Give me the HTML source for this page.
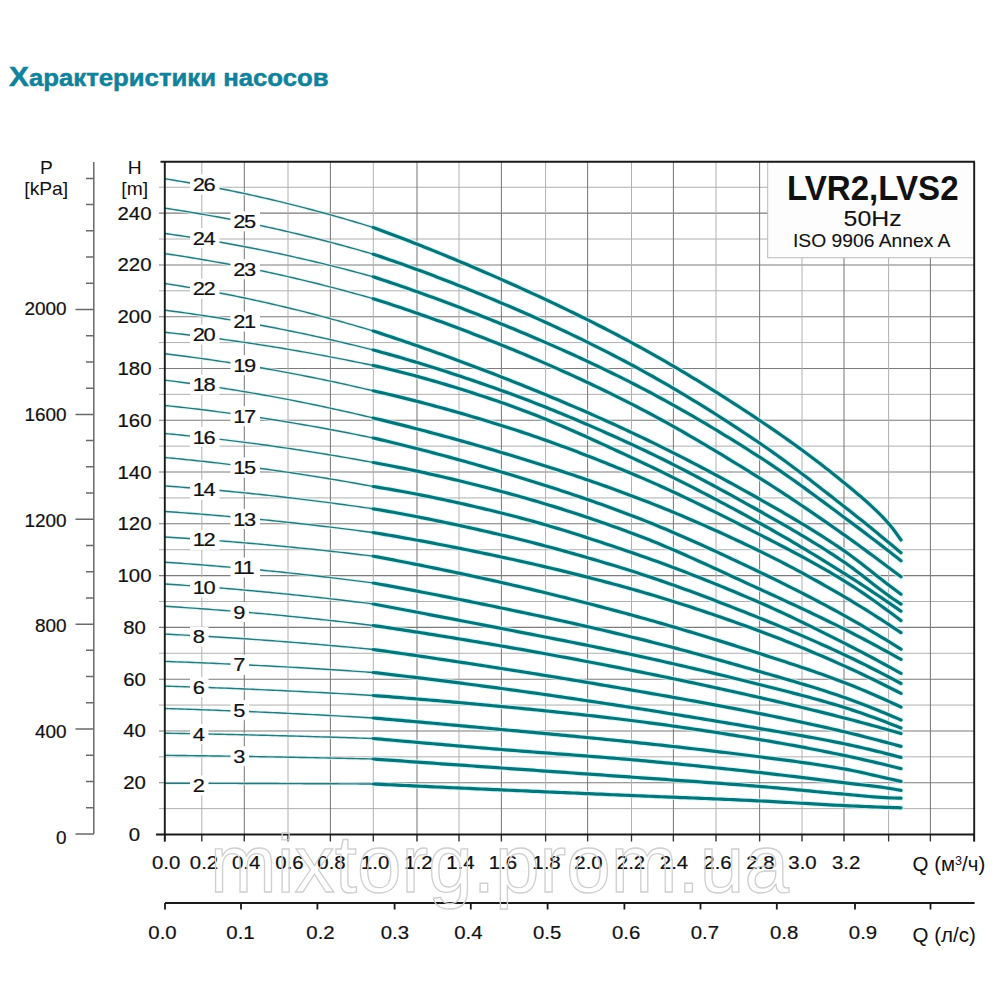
<!DOCTYPE html>
<html><head><meta charset="utf-8"><style>
html,body{margin:0;padding:0;background:#fff;width:1000px;height:1000px;overflow:hidden}
svg{display:block}
text{font-family:'Liberation Sans',sans-serif}
</style></head><body>
<svg width="1000" height="1000" viewBox="0 0 1000 1000">
<rect width="1000" height="1000" fill="#fff"/>

<text x="9.0" y="85.6" font-weight="bold" fill="#10829b" stroke="#10829b" stroke-width="0.5" textLength="319.6" lengthAdjust="spacingAndGlyphs"><tspan font-size="28.2">Х</tspan><tspan font-size="24.3">арактеристики насосов</tspan></text>
<path d="M159,808.61H974.2 M159,756.83H974.2 M159,705.05H974.2 M159,653.27H974.2 M159,601.49H974.2 M159,549.71H974.2 M159,497.93H974.2 M159,446.15H974.2 M159,394.37H974.2 M159,342.59H974.2 M159,290.81H974.2 M159,239.03H974.2 M159,187.25H974.2" stroke="#b0b0b0" stroke-width="1" fill="none"/>
<path d="M159,782.72H974.2 M159,730.94H974.2 M159,679.16H974.2 M159,627.38H974.2 M159,575.60H974.2 M159,523.82H974.2 M159,472.04H974.2 M159,420.26H974.2 M159,368.48H974.2 M159,316.70H974.2 M159,264.92H974.2 M159,213.14H974.2" stroke="#7c7c7c" stroke-width="1.05" fill="none"/>
<path d="M201.8,161.8V841 M288,161.8V841 M373.3,161.8V841 M459,161.8V841 M545.6,161.8V841 M631.5,161.8V841 M716,161.8V841 M802,161.8V841 M888.6,161.8V841" stroke="#b0b0b0" stroke-width="1" fill="none"/>
<path d="M244.3,161.8V841 M330.4,161.8V841 M417,161.8V841 M501.4,161.8V841 M587.6,161.8V841 M673.4,161.8V841 M759.6,161.8V841 M844,161.8V841 M930.4,161.8V841" stroke="#7c7c7c" stroke-width="1.05" fill="none"/>
<path d="M164.7,834.5V841.5 M201.8,834.5V841.5 M244.3,834.5V841.5 M288,834.5V841.5 M330.4,834.5V841.5 M373.3,834.5V841.5 M417,834.5V841.5 M459,834.5V841.5 M501.4,834.5V841.5 M545.6,834.5V841.5 M587.6,834.5V841.5 M631.5,834.5V841.5 M673.4,834.5V841.5 M716,834.5V841.5 M759.6,834.5V841.5 M802,834.5V841.5 M844,834.5V841.5 M888.6,834.5V841.5 M930.4,834.5V841.5 M974.2,834.5V841.5" stroke="#333" stroke-width="1.3" fill="none"/>
<rect x="767.7" y="161.8" width="206.5" height="95.94999999999999" fill="#fdfdfd" stroke="#b8b8b8" stroke-width="1"/>
<text x="872.8" y="199.6" font-size="34.5" font-weight="bold" text-anchor="middle" fill="#111" textLength="171.5" lengthAdjust="spacingAndGlyphs">LVR2,LVS2</text>
<text x="872.6" y="226" font-size="21.5" text-anchor="middle" fill="#111" stroke="#111" stroke-width="0.1" textLength="58" lengthAdjust="spacingAndGlyphs">50Hz</text>
<text x="871.7" y="246.9" font-size="18.4" text-anchor="middle" fill="#111" stroke="#111" stroke-width="0.1" textLength="157.5" lengthAdjust="spacingAndGlyphs">ISO 9906 Annex A</text>
<path d="M373.3,784.00 L377.3,784.19 L381.3,784.38 L385.3,784.57 L389.3,784.76 L393.3,784.95 L397.3,785.13 L401.3,785.32 L405.3,785.51 L409.3,785.70 L413.3,785.88 L417.3,786.07 L421.3,786.25 L425.3,786.44 L429.3,786.62 L433.3,786.81 L437.3,786.99 L441.3,787.18 L445.3,787.36 L449.3,787.54 L453.3,787.73 L457.3,787.91 L461.3,788.09 L465.3,788.27 L469.3,788.45 L473.3,788.64 L477.3,788.82 L481.3,789.00 L485.3,789.18 L489.3,789.36 L493.3,789.53 L497.3,789.71 L501.3,789.89 L505.3,790.07 L509.3,790.25 L513.3,790.42 L517.3,790.60 L521.3,790.77 L525.3,790.95 L529.3,791.12 L533.3,791.30 L537.3,791.47 L541.3,791.65 L545.3,791.82 L549.3,791.99 L553.3,792.16 L557.3,792.34 L561.3,792.51 L565.3,792.68 L569.3,792.85 L573.3,793.02 L577.3,793.19 L581.3,793.36 L585.3,793.53 L589.3,793.70 L593.3,793.87 L597.3,794.04 L601.3,794.21 L605.3,794.38 L609.3,794.56 L613.3,794.73 L617.3,794.90 L621.3,795.07 L625.3,795.24 L629.3,795.41 L633.3,795.58 L637.3,795.75 L641.3,795.91 L645.3,796.08 L649.3,796.24 L653.3,796.41 L657.3,796.57 L661.3,796.73 L665.3,796.89 L669.3,797.05 L673.3,797.22 L677.3,797.38 L681.3,797.54 L685.3,797.70 L689.3,797.86 L693.3,798.02 L697.3,798.18 L701.3,798.34 L705.3,798.51 L709.3,798.67 L713.3,798.84 L717.3,799.01 L721.3,799.18 L725.3,799.35 L729.3,799.52 L733.3,799.69 L737.3,799.87 L741.3,800.05 L745.3,800.23 L749.3,800.42 L753.3,800.60 L757.3,800.79 L761.3,800.99 L765.3,801.19 L769.3,801.40 L773.3,801.61 L777.3,801.83 L781.3,802.06 L785.3,802.29 L789.3,802.52 L793.3,802.76 L797.3,803.00 L801.3,803.23 L805.3,803.47 L809.3,803.71 L813.3,803.94 L817.3,804.17 L821.3,804.40 L825.3,804.62 L829.3,804.84 L833.3,805.05 L837.3,805.26 L841.3,805.45 L845.3,805.64 L849.3,805.82 L853.3,806.00 L857.3,806.18 L861.3,806.35 L865.3,806.51 L869.3,806.68 L873.3,806.84 L877.3,806.99 L881.3,807.14 L885.3,807.29 L889.3,807.43 L893.3,807.56 L897.3,807.69 L901.0,807.80 M373.3,759.00 L377.3,759.28 L381.3,759.56 L385.3,759.84 L389.3,760.12 L393.3,760.41 L397.3,760.69 L401.3,760.97 L405.3,761.25 L409.3,761.53 L413.3,761.81 L417.3,762.09 L421.3,762.37 L425.3,762.65 L429.3,762.93 L433.3,763.22 L437.3,763.50 L441.3,763.78 L445.3,764.06 L449.3,764.34 L453.3,764.62 L457.3,764.90 L461.3,765.18 L465.3,765.46 L469.3,765.74 L473.3,766.02 L477.3,766.30 L481.3,766.58 L485.3,766.86 L489.3,767.14 L493.3,767.43 L497.3,767.71 L501.3,767.99 L505.3,768.27 L509.3,768.55 L513.3,768.83 L517.3,769.11 L521.3,769.38 L525.3,769.66 L529.3,769.94 L533.3,770.22 L537.3,770.50 L541.3,770.78 L545.3,771.06 L549.3,771.33 L553.3,771.61 L557.3,771.89 L561.3,772.17 L565.3,772.45 L569.3,772.73 L573.3,773.00 L577.3,773.28 L581.3,773.56 L585.3,773.84 L589.3,774.12 L593.3,774.40 L597.3,774.68 L601.3,774.96 L605.3,775.24 L609.3,775.53 L613.3,775.81 L617.3,776.09 L621.3,776.37 L625.3,776.66 L629.3,776.94 L633.3,777.23 L637.3,777.51 L641.3,777.79 L645.3,778.08 L649.3,778.36 L653.3,778.64 L657.3,778.91 L661.3,779.19 L665.3,779.47 L669.3,779.75 L673.3,780.03 L677.3,780.31 L681.3,780.59 L685.3,780.86 L689.3,781.15 L693.3,781.43 L697.3,781.71 L701.3,781.99 L705.3,782.28 L709.3,782.57 L713.3,782.86 L717.3,783.15 L721.3,783.44 L725.3,783.74 L729.3,784.04 L733.3,784.34 L737.3,784.64 L741.3,784.95 L745.3,785.26 L749.3,785.58 L753.3,785.90 L757.3,786.22 L761.3,786.55 L765.3,786.88 L769.3,787.23 L773.3,787.58 L777.3,787.94 L781.3,788.31 L785.3,788.68 L789.3,789.05 L793.3,789.43 L797.3,789.81 L801.3,790.19 L805.3,790.58 L809.3,790.96 L813.3,791.34 L817.3,791.73 L821.3,792.10 L825.3,792.48 L829.3,792.85 L833.3,793.22 L837.3,793.58 L841.3,793.93 L845.3,794.28 L849.3,794.64 L853.3,795.01 L857.3,795.39 L861.3,795.76 L865.3,796.13 L869.3,796.49 L873.3,796.83 L877.3,797.14 L881.3,797.41 L885.3,797.65 L889.3,797.83 L893.3,797.99 L897.3,798.11 L901.0,798.20 M373.3,738.50 L377.3,738.86 L381.3,739.21 L385.3,739.57 L389.3,739.92 L393.3,740.28 L397.3,740.63 L401.3,740.98 L405.3,741.33 L409.3,741.68 L413.3,742.03 L417.3,742.38 L421.3,742.73 L425.3,743.08 L429.3,743.42 L433.3,743.77 L437.3,744.11 L441.3,744.45 L445.3,744.80 L449.3,745.14 L453.3,745.48 L457.3,745.82 L461.3,746.15 L465.3,746.49 L469.3,746.83 L473.3,747.16 L477.3,747.50 L481.3,747.83 L485.3,748.16 L489.3,748.50 L493.3,748.83 L497.3,749.16 L501.3,749.48 L505.3,749.81 L509.3,750.13 L513.3,750.45 L517.3,750.77 L521.3,751.08 L525.3,751.39 L529.3,751.70 L533.3,752.00 L537.3,752.31 L541.3,752.61 L545.3,752.91 L549.3,753.21 L553.3,753.51 L557.3,753.81 L561.3,754.11 L565.3,754.41 L569.3,754.71 L573.3,755.02 L577.3,755.32 L581.3,755.62 L585.3,755.93 L589.3,756.24 L593.3,756.55 L597.3,756.86 L601.3,757.18 L605.3,757.50 L609.3,757.82 L613.3,758.15 L617.3,758.48 L621.3,758.82 L625.3,759.16 L629.3,759.51 L633.3,759.86 L637.3,760.21 L641.3,760.57 L645.3,760.93 L649.3,761.30 L653.3,761.67 L657.3,762.04 L661.3,762.41 L665.3,762.79 L669.3,763.17 L673.3,763.56 L677.3,763.94 L681.3,764.33 L685.3,764.73 L689.3,765.12 L693.3,765.52 L697.3,765.92 L701.3,766.33 L705.3,766.73 L709.3,767.14 L713.3,767.56 L717.3,767.97 L721.3,768.39 L725.3,768.81 L729.3,769.23 L733.3,769.66 L737.3,770.08 L741.3,770.51 L745.3,770.95 L749.3,771.38 L753.3,771.82 L757.3,772.26 L761.3,772.70 L765.3,773.15 L769.3,773.60 L773.3,774.07 L777.3,774.54 L781.3,775.01 L785.3,775.49 L789.3,775.97 L793.3,776.46 L797.3,776.95 L801.3,777.45 L805.3,777.94 L809.3,778.44 L813.3,778.94 L817.3,779.44 L821.3,779.94 L825.3,780.44 L829.3,780.94 L833.3,781.43 L837.3,781.93 L841.3,782.42 L845.3,782.91 L849.3,783.38 L853.3,783.85 L857.3,784.30 L861.3,784.76 L865.3,785.22 L869.3,785.68 L873.3,786.16 L877.3,786.66 L881.3,787.18 L885.3,787.73 L889.3,788.32 L893.3,788.98 L897.3,789.71 L901.0,790.40 M373.3,718.00 L377.3,718.35 L381.3,718.69 L385.3,719.04 L389.3,719.39 L393.3,719.74 L397.3,720.09 L401.3,720.44 L405.3,720.79 L409.3,721.15 L413.3,721.50 L417.3,721.86 L421.3,722.21 L425.3,722.57 L429.3,722.92 L433.3,723.28 L437.3,723.64 L441.3,724.00 L445.3,724.36 L449.3,724.72 L453.3,725.08 L457.3,725.44 L461.3,725.81 L465.3,726.17 L469.3,726.54 L473.3,726.90 L477.3,727.27 L481.3,727.63 L485.3,728.00 L489.3,728.37 L493.3,728.74 L497.3,729.11 L501.3,729.48 L505.3,729.85 L509.3,730.22 L513.3,730.59 L517.3,730.96 L521.3,731.33 L525.3,731.70 L529.3,732.07 L533.3,732.44 L537.3,732.82 L541.3,733.19 L545.3,733.56 L549.3,733.93 L553.3,734.31 L557.3,734.68 L561.3,735.06 L565.3,735.44 L569.3,735.82 L573.3,736.20 L577.3,736.58 L581.3,736.97 L585.3,737.35 L589.3,737.74 L593.3,738.13 L597.3,738.52 L601.3,738.92 L605.3,739.32 L609.3,739.72 L613.3,740.12 L617.3,740.53 L621.3,740.94 L625.3,741.35 L629.3,741.77 L633.3,742.19 L637.3,742.61 L641.3,743.04 L645.3,743.46 L649.3,743.89 L653.3,744.32 L657.3,744.75 L661.3,745.19 L665.3,745.63 L669.3,746.07 L673.3,746.51 L677.3,746.95 L681.3,747.40 L685.3,747.85 L689.3,748.31 L693.3,748.76 L697.3,749.22 L701.3,749.68 L705.3,750.15 L709.3,750.62 L713.3,751.09 L717.3,751.57 L721.3,752.05 L725.3,752.53 L729.3,753.01 L733.3,753.50 L737.3,754.00 L741.3,754.49 L745.3,754.99 L749.3,755.50 L753.3,756.00 L757.3,756.52 L761.3,757.03 L765.3,757.55 L769.3,758.06 L773.3,758.58 L777.3,759.10 L781.3,759.62 L785.3,760.14 L789.3,760.67 L793.3,761.21 L797.3,761.75 L801.3,762.30 L805.3,762.86 L809.3,763.43 L813.3,764.01 L817.3,764.60 L821.3,765.21 L825.3,765.83 L829.3,766.46 L833.3,767.11 L837.3,767.77 L841.3,768.46 L845.3,769.16 L849.3,769.91 L853.3,770.70 L857.3,771.54 L861.3,772.40 L865.3,773.29 L869.3,774.21 L873.3,775.13 L877.3,776.05 L881.3,776.97 L885.3,777.88 L889.3,778.78 L893.3,779.67 L897.3,780.57 L901.0,781.40 M373.3,695.50 L377.3,695.80 L381.3,696.11 L385.3,696.41 L389.3,696.72 L393.3,697.04 L397.3,697.35 L401.3,697.67 L405.3,697.99 L409.3,698.32 L413.3,698.64 L417.3,698.97 L421.3,699.31 L425.3,699.64 L429.3,699.98 L433.3,700.32 L437.3,700.66 L441.3,701.01 L445.3,701.36 L449.3,701.71 L453.3,702.06 L457.3,702.42 L461.3,702.77 L465.3,703.13 L469.3,703.50 L473.3,703.86 L477.3,704.23 L481.3,704.60 L485.3,704.97 L489.3,705.35 L493.3,705.72 L497.3,706.10 L501.3,706.48 L505.3,706.86 L509.3,707.25 L513.3,707.63 L517.3,708.02 L521.3,708.41 L525.3,708.81 L529.3,709.20 L533.3,709.60 L537.3,710.00 L541.3,710.41 L545.3,710.81 L549.3,711.22 L553.3,711.64 L557.3,712.05 L561.3,712.47 L565.3,712.89 L569.3,713.32 L573.3,713.75 L577.3,714.19 L581.3,714.62 L585.3,715.07 L589.3,715.51 L593.3,715.96 L597.3,716.42 L601.3,716.88 L605.3,717.34 L609.3,717.81 L613.3,718.28 L617.3,718.76 L621.3,719.24 L625.3,719.73 L629.3,720.23 L633.3,720.73 L637.3,721.23 L641.3,721.74 L645.3,722.26 L649.3,722.79 L653.3,723.32 L657.3,723.86 L661.3,724.41 L665.3,724.96 L669.3,725.52 L673.3,726.08 L677.3,726.65 L681.3,727.23 L685.3,727.81 L689.3,728.40 L693.3,728.99 L697.3,729.59 L701.3,730.19 L705.3,730.80 L709.3,731.41 L713.3,732.03 L717.3,732.66 L721.3,733.28 L725.3,733.92 L729.3,734.55 L733.3,735.20 L737.3,735.84 L741.3,736.49 L745.3,737.15 L749.3,737.80 L753.3,738.47 L757.3,739.13 L761.3,739.80 L765.3,740.48 L769.3,741.16 L773.3,741.86 L777.3,742.56 L781.3,743.27 L785.3,743.99 L789.3,744.71 L793.3,745.44 L797.3,746.19 L801.3,746.93 L805.3,747.69 L809.3,748.46 L813.3,749.23 L817.3,750.01 L821.3,750.80 L825.3,751.59 L829.3,752.40 L833.3,753.21 L837.3,754.03 L841.3,754.85 L845.3,755.69 L849.3,756.54 L853.3,757.40 L857.3,758.28 L861.3,759.17 L865.3,760.07 L869.3,760.98 L873.3,761.91 L877.3,762.85 L881.3,763.80 L885.3,764.76 L889.3,765.72 L893.3,766.70 L897.3,767.68 L901.0,768.60 M373.3,672.50 L377.3,672.96 L381.3,673.42 L385.3,673.88 L389.3,674.35 L393.3,674.82 L397.3,675.29 L401.3,675.77 L405.3,676.24 L409.3,676.72 L413.3,677.21 L417.3,677.69 L421.3,678.18 L425.3,678.67 L429.3,679.17 L433.3,679.66 L437.3,680.16 L441.3,680.66 L445.3,681.17 L449.3,681.67 L453.3,682.18 L457.3,682.69 L461.3,683.21 L465.3,683.72 L469.3,684.24 L473.3,684.76 L477.3,685.28 L481.3,685.81 L485.3,686.34 L489.3,686.87 L493.3,687.40 L497.3,687.94 L501.3,688.47 L505.3,689.01 L509.3,689.56 L513.3,690.10 L517.3,690.65 L521.3,691.21 L525.3,691.77 L529.3,692.33 L533.3,692.89 L537.3,693.45 L541.3,694.02 L545.3,694.60 L549.3,695.17 L553.3,695.75 L557.3,696.33 L561.3,696.91 L565.3,697.50 L569.3,698.09 L573.3,698.68 L577.3,699.27 L581.3,699.87 L585.3,700.46 L589.3,701.06 L593.3,701.66 L597.3,702.27 L601.3,702.87 L605.3,703.48 L609.3,704.09 L613.3,704.70 L617.3,705.31 L621.3,705.93 L625.3,706.54 L629.3,707.16 L633.3,707.78 L637.3,708.40 L641.3,709.02 L645.3,709.65 L649.3,710.28 L653.3,710.91 L657.3,711.54 L661.3,712.18 L665.3,712.82 L669.3,713.46 L673.3,714.10 L677.3,714.75 L681.3,715.40 L685.3,716.05 L689.3,716.70 L693.3,717.36 L697.3,718.01 L701.3,718.67 L705.3,719.33 L709.3,720.00 L713.3,720.66 L717.3,721.33 L721.3,722.00 L725.3,722.67 L729.3,723.35 L733.3,724.02 L737.3,724.70 L741.3,725.38 L745.3,726.06 L749.3,726.75 L753.3,727.43 L757.3,728.12 L761.3,728.81 L765.3,729.50 L769.3,730.18 L773.3,730.86 L777.3,731.54 L781.3,732.22 L785.3,732.90 L789.3,733.58 L793.3,734.27 L797.3,734.96 L801.3,735.66 L805.3,736.36 L809.3,737.07 L813.3,737.79 L817.3,738.52 L821.3,739.26 L825.3,740.01 L829.3,740.78 L833.3,741.56 L837.3,742.35 L841.3,743.16 L845.3,743.99 L849.3,744.84 L853.3,745.71 L857.3,746.60 L861.3,747.51 L865.3,748.44 L869.3,749.38 L873.3,750.35 L877.3,751.33 L881.3,752.32 L885.3,753.33 L889.3,754.35 L893.3,755.38 L897.3,756.43 L901.0,757.40 M373.3,649.50 L377.3,650.06 L381.3,650.62 L385.3,651.19 L389.3,651.75 L393.3,652.32 L397.3,652.89 L401.3,653.47 L405.3,654.04 L409.3,654.62 L413.3,655.20 L417.3,655.78 L421.3,656.36 L425.3,656.95 L429.3,657.54 L433.3,658.13 L437.3,658.72 L441.3,659.31 L445.3,659.91 L449.3,660.51 L453.3,661.11 L457.3,661.71 L461.3,662.31 L465.3,662.92 L469.3,663.53 L473.3,664.14 L477.3,664.75 L481.3,665.37 L485.3,665.98 L489.3,666.60 L493.3,667.22 L497.3,667.84 L501.3,668.47 L505.3,669.10 L509.3,669.72 L513.3,670.35 L517.3,670.99 L521.3,671.62 L525.3,672.26 L529.3,672.90 L533.3,673.54 L537.3,674.19 L541.3,674.84 L545.3,675.48 L549.3,676.14 L553.3,676.79 L557.3,677.45 L561.3,678.10 L565.3,678.76 L569.3,679.43 L573.3,680.09 L577.3,680.76 L581.3,681.43 L585.3,682.10 L589.3,682.77 L593.3,683.45 L597.3,684.12 L601.3,684.80 L605.3,685.48 L609.3,686.17 L613.3,686.85 L617.3,687.54 L621.3,688.23 L625.3,688.92 L629.3,689.62 L633.3,690.31 L637.3,691.01 L641.3,691.71 L645.3,692.41 L649.3,693.11 L653.3,693.81 L657.3,694.51 L661.3,695.22 L665.3,695.93 L669.3,696.64 L673.3,697.35 L677.3,698.06 L681.3,698.78 L685.3,699.50 L689.3,700.22 L693.3,700.94 L697.3,701.67 L701.3,702.40 L705.3,703.14 L709.3,703.88 L713.3,704.62 L717.3,705.36 L721.3,706.11 L725.3,706.87 L729.3,707.63 L733.3,708.39 L737.3,709.15 L741.3,709.93 L745.3,710.70 L749.3,711.48 L753.3,712.27 L757.3,713.06 L761.3,713.86 L765.3,714.66 L769.3,715.47 L773.3,716.28 L777.3,717.10 L781.3,717.92 L785.3,718.75 L789.3,719.58 L793.3,720.42 L797.3,721.27 L801.3,722.12 L805.3,722.98 L809.3,723.85 L813.3,724.72 L817.3,725.60 L821.3,726.49 L825.3,727.39 L829.3,728.30 L833.3,729.21 L837.3,730.14 L841.3,731.07 L845.3,732.01 L849.3,732.97 L853.3,733.94 L857.3,734.92 L861.3,735.92 L865.3,736.93 L869.3,737.95 L873.3,738.98 L877.3,740.03 L881.3,741.08 L885.3,742.14 L889.3,743.22 L893.3,744.30 L897.3,745.39 L901.0,746.40 M373.3,625.50 L377.3,626.09 L381.3,626.68 L385.3,627.28 L389.3,627.88 L393.3,628.48 L397.3,629.09 L401.3,629.70 L405.3,630.31 L409.3,630.93 L413.3,631.55 L417.3,632.17 L421.3,632.79 L425.3,633.42 L429.3,634.06 L433.3,634.69 L437.3,635.33 L441.3,635.97 L445.3,636.62 L449.3,637.27 L453.3,637.92 L457.3,638.57 L461.3,639.23 L465.3,639.89 L469.3,640.55 L473.3,641.22 L477.3,641.89 L481.3,642.56 L485.3,643.24 L489.3,643.91 L493.3,644.60 L497.3,645.28 L501.3,645.97 L505.3,646.66 L509.3,647.35 L513.3,648.05 L517.3,648.75 L521.3,649.45 L525.3,650.16 L529.3,650.87 L533.3,651.59 L537.3,652.31 L541.3,653.03 L545.3,653.76 L549.3,654.49 L553.3,655.22 L557.3,655.96 L561.3,656.70 L565.3,657.44 L569.3,658.19 L573.3,658.94 L577.3,659.69 L581.3,660.45 L585.3,661.21 L589.3,661.97 L593.3,662.74 L597.3,663.50 L601.3,664.28 L605.3,665.05 L609.3,665.83 L613.3,666.61 L617.3,667.39 L621.3,668.18 L625.3,668.97 L629.3,669.76 L633.3,670.56 L637.3,671.36 L641.3,672.16 L645.3,672.97 L649.3,673.78 L653.3,674.59 L657.3,675.41 L661.3,676.23 L665.3,677.05 L669.3,677.88 L673.3,678.71 L677.3,679.55 L681.3,680.39 L685.3,681.23 L689.3,682.07 L693.3,682.92 L697.3,683.78 L701.3,684.63 L705.3,685.49 L709.3,686.36 L713.3,687.23 L717.3,688.10 L721.3,688.97 L725.3,689.85 L729.3,690.73 L733.3,691.62 L737.3,692.50 L741.3,693.40 L745.3,694.29 L749.3,695.19 L753.3,696.09 L757.3,697.00 L761.3,697.91 L765.3,698.82 L769.3,699.74 L773.3,700.67 L777.3,701.59 L781.3,702.53 L785.3,703.47 L789.3,704.41 L793.3,705.36 L797.3,706.31 L801.3,707.27 L805.3,708.24 L809.3,709.21 L813.3,710.19 L817.3,711.17 L821.3,712.16 L825.3,713.15 L829.3,714.16 L833.3,715.17 L837.3,716.18 L841.3,717.20 L845.3,718.23 L849.3,719.27 L853.3,720.32 L857.3,721.38 L861.3,722.45 L865.3,723.53 L869.3,724.61 L873.3,725.71 L877.3,726.81 L881.3,727.92 L885.3,729.04 L889.3,730.17 L893.3,731.30 L897.3,732.44 L901.0,733.50 M373.3,604.00 L377.3,604.75 L381.3,605.50 L385.3,606.25 L389.3,607.00 L393.3,607.75 L397.3,608.50 L401.3,609.25 L405.3,610.01 L409.3,610.77 L413.3,611.52 L417.3,612.28 L421.3,613.04 L425.3,613.80 L429.3,614.56 L433.3,615.33 L437.3,616.09 L441.3,616.86 L445.3,617.62 L449.3,618.39 L453.3,619.16 L457.3,619.93 L461.3,620.70 L465.3,621.47 L469.3,622.24 L473.3,623.02 L477.3,623.79 L481.3,624.57 L485.3,625.34 L489.3,626.12 L493.3,626.90 L497.3,627.68 L501.3,628.46 L505.3,629.24 L509.3,630.02 L513.3,630.80 L517.3,631.58 L521.3,632.35 L525.3,633.13 L529.3,633.91 L533.3,634.68 L537.3,635.46 L541.3,636.24 L545.3,637.02 L549.3,637.80 L553.3,638.58 L557.3,639.36 L561.3,640.14 L565.3,640.93 L569.3,641.72 L573.3,642.51 L577.3,643.31 L581.3,644.11 L585.3,644.91 L589.3,645.71 L593.3,646.52 L597.3,647.34 L601.3,648.15 L605.3,648.98 L609.3,649.80 L613.3,650.64 L617.3,651.47 L621.3,652.32 L625.3,653.17 L629.3,654.03 L633.3,654.89 L637.3,655.76 L641.3,656.63 L645.3,657.51 L649.3,658.39 L653.3,659.28 L657.3,660.17 L661.3,661.06 L665.3,661.96 L669.3,662.87 L673.3,663.78 L677.3,664.69 L681.3,665.61 L685.3,666.54 L689.3,667.46 L693.3,668.40 L697.3,669.34 L701.3,670.28 L705.3,671.22 L709.3,672.18 L713.3,673.13 L717.3,674.09 L721.3,675.06 L725.3,676.03 L729.3,677.00 L733.3,677.98 L737.3,678.96 L741.3,679.95 L745.3,680.94 L749.3,681.94 L753.3,682.94 L757.3,683.95 L761.3,684.95 L765.3,685.96 L769.3,686.97 L773.3,687.98 L777.3,688.99 L781.3,690.01 L785.3,691.03 L789.3,692.06 L793.3,693.09 L797.3,694.13 L801.3,695.19 L805.3,696.25 L809.3,697.33 L813.3,698.42 L817.3,699.52 L821.3,700.64 L825.3,701.78 L829.3,702.94 L833.3,704.12 L837.3,705.32 L841.3,706.54 L845.3,707.78 L849.3,709.06 L853.3,710.37 L857.3,711.71 L861.3,713.08 L865.3,714.48 L869.3,715.91 L873.3,717.36 L877.3,718.84 L881.3,720.34 L885.3,721.86 L889.3,723.40 L893.3,724.96 L897.3,726.53 L901.0,728.00 M373.3,583.00 L377.3,583.73 L381.3,584.46 L385.3,585.19 L389.3,585.93 L393.3,586.67 L397.3,587.41 L401.3,588.16 L405.3,588.91 L409.3,589.67 L413.3,590.42 L417.3,591.19 L421.3,591.95 L425.3,592.72 L429.3,593.49 L433.3,594.27 L437.3,595.05 L441.3,595.83 L445.3,596.62 L449.3,597.41 L453.3,598.20 L457.3,598.99 L461.3,599.79 L465.3,600.60 L469.3,601.40 L473.3,602.21 L477.3,603.02 L481.3,603.84 L485.3,604.65 L489.3,605.48 L493.3,606.30 L497.3,607.13 L501.3,607.96 L505.3,608.79 L509.3,609.63 L513.3,610.47 L517.3,611.31 L521.3,612.15 L525.3,613.00 L529.3,613.85 L533.3,614.70 L537.3,615.55 L541.3,616.41 L545.3,617.28 L549.3,618.14 L553.3,619.01 L557.3,619.89 L561.3,620.76 L565.3,621.65 L569.3,622.53 L573.3,623.43 L577.3,624.32 L581.3,625.22 L585.3,626.13 L589.3,627.04 L593.3,627.96 L597.3,628.88 L601.3,629.81 L605.3,630.74 L609.3,631.68 L613.3,632.62 L617.3,633.57 L621.3,634.53 L625.3,635.49 L629.3,636.46 L633.3,637.44 L637.3,638.42 L641.3,639.42 L645.3,640.42 L649.3,641.42 L653.3,642.44 L657.3,643.46 L661.3,644.49 L665.3,645.52 L669.3,646.57 L673.3,647.62 L677.3,648.67 L681.3,649.73 L685.3,650.80 L689.3,651.87 L693.3,652.95 L697.3,654.04 L701.3,655.13 L705.3,656.22 L709.3,657.32 L713.3,658.43 L717.3,659.54 L721.3,660.65 L725.3,661.77 L729.3,662.90 L733.3,664.02 L737.3,665.16 L741.3,666.29 L745.3,667.43 L749.3,668.57 L753.3,669.72 L757.3,670.87 L761.3,672.02 L765.3,673.17 L769.3,674.32 L773.3,675.47 L777.3,676.62 L781.3,677.78 L785.3,678.94 L789.3,680.11 L793.3,681.28 L797.3,682.46 L801.3,683.66 L805.3,684.86 L809.3,686.08 L813.3,687.31 L817.3,688.56 L821.3,689.82 L825.3,691.10 L829.3,692.40 L833.3,693.72 L837.3,695.06 L841.3,696.43 L845.3,697.81 L849.3,699.24 L853.3,700.69 L857.3,702.17 L861.3,703.69 L865.3,705.23 L869.3,706.80 L873.3,708.39 L877.3,710.01 L881.3,711.65 L885.3,713.31 L889.3,714.99 L893.3,716.69 L897.3,718.40 L901.0,720.00 M373.3,556.20 L377.3,556.93 L381.3,557.68 L385.3,558.42 L389.3,559.17 L393.3,559.93 L397.3,560.70 L401.3,561.47 L405.3,562.24 L409.3,563.02 L413.3,563.81 L417.3,564.60 L421.3,565.40 L425.3,566.21 L429.3,567.01 L433.3,567.83 L437.3,568.65 L441.3,569.47 L445.3,570.31 L449.3,571.14 L453.3,571.98 L457.3,572.83 L461.3,573.68 L465.3,574.53 L469.3,575.40 L473.3,576.26 L477.3,577.13 L481.3,578.01 L485.3,578.89 L489.3,579.77 L493.3,580.66 L497.3,581.56 L501.3,582.45 L505.3,583.36 L509.3,584.27 L513.3,585.19 L517.3,586.11 L521.3,587.04 L525.3,587.98 L529.3,588.92 L533.3,589.87 L537.3,590.82 L541.3,591.78 L545.3,592.75 L549.3,593.72 L553.3,594.70 L557.3,595.69 L561.3,596.68 L565.3,597.67 L569.3,598.68 L573.3,599.68 L577.3,600.70 L581.3,601.72 L585.3,602.74 L589.3,603.78 L593.3,604.81 L597.3,605.86 L601.3,606.91 L605.3,607.96 L609.3,609.02 L613.3,610.08 L617.3,611.16 L621.3,612.23 L625.3,613.31 L629.3,614.40 L633.3,615.49 L637.3,616.59 L641.3,617.70 L645.3,618.82 L649.3,619.94 L653.3,621.08 L657.3,622.22 L661.3,623.37 L665.3,624.52 L669.3,625.68 L673.3,626.85 L677.3,628.03 L681.3,629.22 L685.3,630.41 L689.3,631.60 L693.3,632.81 L697.3,634.02 L701.3,635.23 L705.3,636.45 L709.3,637.68 L713.3,638.91 L717.3,640.15 L721.3,641.39 L725.3,642.64 L729.3,643.89 L733.3,645.15 L737.3,646.42 L741.3,647.68 L745.3,648.95 L749.3,650.23 L753.3,651.51 L757.3,652.79 L761.3,654.08 L765.3,655.37 L769.3,656.66 L773.3,657.95 L777.3,659.24 L781.3,660.54 L785.3,661.85 L789.3,663.17 L793.3,664.49 L797.3,665.82 L801.3,667.16 L805.3,668.52 L809.3,669.88 L813.3,671.26 L817.3,672.66 L821.3,674.07 L825.3,675.50 L829.3,676.95 L833.3,678.42 L837.3,679.90 L841.3,681.41 L845.3,682.95 L849.3,684.51 L853.3,686.10 L857.3,687.73 L861.3,689.38 L865.3,691.05 L869.3,692.76 L873.3,694.48 L877.3,696.23 L881.3,698.00 L885.3,699.80 L889.3,701.61 L893.3,703.44 L897.3,705.28 L901.0,707.00 M373.3,532.60 L377.3,533.25 L381.3,533.92 L385.3,534.59 L389.3,535.26 L393.3,535.95 L397.3,536.64 L401.3,537.34 L405.3,538.05 L409.3,538.76 L413.3,539.48 L417.3,540.21 L421.3,540.94 L425.3,541.68 L429.3,542.43 L433.3,543.19 L437.3,543.95 L441.3,544.72 L445.3,545.49 L449.3,546.27 L453.3,547.06 L457.3,547.85 L461.3,548.65 L465.3,549.45 L469.3,550.27 L473.3,551.08 L477.3,551.90 L481.3,552.73 L485.3,553.57 L489.3,554.41 L493.3,555.25 L497.3,556.10 L501.3,556.96 L505.3,557.82 L509.3,558.69 L513.3,559.56 L517.3,560.45 L521.3,561.33 L525.3,562.23 L529.3,563.14 L533.3,564.05 L537.3,564.97 L541.3,565.89 L545.3,566.83 L549.3,567.77 L553.3,568.72 L557.3,569.68 L561.3,570.65 L565.3,571.62 L569.3,572.60 L573.3,573.59 L577.3,574.59 L581.3,575.60 L585.3,576.62 L589.3,577.64 L593.3,578.68 L597.3,579.72 L601.3,580.77 L605.3,581.83 L609.3,582.90 L613.3,583.98 L617.3,585.06 L621.3,586.16 L625.3,587.27 L629.3,588.38 L633.3,589.51 L637.3,590.65 L641.3,591.80 L645.3,592.96 L649.3,594.14 L653.3,595.33 L657.3,596.53 L661.3,597.74 L665.3,598.97 L669.3,600.21 L673.3,601.46 L677.3,602.72 L681.3,604.00 L685.3,605.28 L689.3,606.58 L693.3,607.89 L697.3,609.21 L701.3,610.53 L705.3,611.87 L709.3,613.23 L713.3,614.59 L717.3,615.96 L721.3,617.34 L725.3,618.73 L729.3,620.13 L733.3,621.54 L737.3,622.96 L741.3,624.39 L745.3,625.83 L749.3,627.27 L753.3,628.73 L757.3,630.19 L761.3,631.66 L765.3,633.16 L769.3,634.67 L773.3,636.20 L777.3,637.74 L781.3,639.31 L785.3,640.89 L789.3,642.49 L793.3,644.11 L797.3,645.74 L801.3,647.39 L805.3,649.05 L809.3,650.73 L813.3,652.42 L817.3,654.12 L821.3,655.84 L825.3,657.57 L829.3,659.32 L833.3,661.07 L837.3,662.84 L841.3,664.62 L845.3,666.40 L849.3,668.21 L853.3,670.04 L857.3,671.90 L861.3,673.78 L865.3,675.68 L869.3,677.59 L873.3,679.53 L877.3,681.49 L881.3,683.46 L885.3,685.45 L889.3,687.45 L893.3,689.47 L897.3,691.51 L901.0,693.40 M373.3,508.80 L377.3,509.48 L381.3,510.17 L385.3,510.87 L389.3,511.57 L393.3,512.29 L397.3,513.02 L401.3,513.76 L405.3,514.51 L409.3,515.26 L413.3,516.03 L417.3,516.80 L421.3,517.59 L425.3,518.38 L429.3,519.18 L433.3,519.99 L437.3,520.81 L441.3,521.64 L445.3,522.47 L449.3,523.31 L453.3,524.17 L457.3,525.02 L461.3,525.89 L465.3,526.76 L469.3,527.65 L473.3,528.54 L477.3,529.43 L481.3,530.33 L485.3,531.24 L489.3,532.16 L493.3,533.09 L497.3,534.02 L501.3,534.95 L505.3,535.90 L509.3,536.85 L513.3,537.82 L517.3,538.80 L521.3,539.79 L525.3,540.79 L529.3,541.80 L533.3,542.82 L537.3,543.85 L541.3,544.89 L545.3,545.94 L549.3,547.00 L553.3,548.08 L557.3,549.16 L561.3,550.25 L565.3,551.36 L569.3,552.47 L573.3,553.59 L577.3,554.72 L581.3,555.86 L585.3,557.02 L589.3,558.18 L593.3,559.35 L597.3,560.53 L601.3,561.72 L605.3,562.92 L609.3,564.13 L613.3,565.34 L617.3,566.57 L621.3,567.81 L625.3,569.05 L629.3,570.31 L633.3,571.57 L637.3,572.85 L641.3,574.15 L645.3,575.46 L649.3,576.79 L653.3,578.13 L657.3,579.49 L661.3,580.87 L665.3,582.26 L669.3,583.66 L673.3,585.08 L677.3,586.50 L681.3,587.95 L685.3,589.40 L689.3,590.86 L693.3,592.34 L697.3,593.83 L701.3,595.32 L705.3,596.83 L709.3,598.35 L713.3,599.87 L717.3,601.41 L721.3,602.95 L725.3,604.50 L729.3,606.06 L733.3,607.62 L737.3,609.19 L741.3,610.77 L745.3,612.35 L749.3,613.93 L753.3,615.53 L757.3,617.12 L761.3,618.72 L765.3,620.33 L769.3,621.95 L773.3,623.59 L777.3,625.23 L781.3,626.89 L785.3,628.56 L789.3,630.25 L793.3,631.94 L797.3,633.65 L801.3,635.38 L805.3,637.11 L809.3,638.86 L813.3,640.62 L817.3,642.40 L821.3,644.19 L825.3,645.99 L829.3,647.81 L833.3,649.64 L837.3,651.49 L841.3,653.35 L845.3,655.22 L849.3,657.12 L853.3,659.04 L857.3,660.99 L861.3,662.96 L865.3,664.94 L869.3,666.95 L873.3,668.98 L877.3,671.03 L881.3,673.10 L885.3,675.18 L889.3,677.28 L893.3,679.39 L897.3,681.52 L901.0,683.50 M373.3,486.50 L377.3,487.14 L381.3,487.80 L385.3,488.47 L389.3,489.15 L393.3,489.84 L397.3,490.55 L401.3,491.28 L405.3,492.01 L409.3,492.76 L413.3,493.52 L417.3,494.29 L421.3,495.08 L425.3,495.87 L429.3,496.68 L433.3,497.50 L437.3,498.33 L441.3,499.17 L445.3,500.02 L449.3,500.88 L453.3,501.76 L457.3,502.64 L461.3,503.53 L465.3,504.43 L469.3,505.34 L473.3,506.26 L477.3,507.19 L481.3,508.13 L485.3,509.08 L489.3,510.04 L493.3,511.00 L497.3,511.97 L501.3,512.95 L505.3,513.94 L509.3,514.95 L513.3,515.98 L517.3,517.03 L521.3,518.09 L525.3,519.18 L529.3,520.27 L533.3,521.39 L537.3,522.52 L541.3,523.66 L545.3,524.82 L549.3,525.99 L553.3,527.18 L557.3,528.38 L561.3,529.59 L565.3,530.82 L569.3,532.06 L573.3,533.31 L577.3,534.57 L581.3,535.84 L585.3,537.12 L589.3,538.41 L593.3,539.71 L597.3,541.02 L601.3,542.33 L605.3,543.66 L609.3,544.99 L613.3,546.33 L617.3,547.68 L621.3,549.03 L625.3,550.39 L629.3,551.75 L633.3,553.12 L637.3,554.50 L641.3,555.89 L645.3,557.30 L649.3,558.72 L653.3,560.15 L657.3,561.60 L661.3,563.06 L665.3,564.53 L669.3,566.01 L673.3,567.51 L677.3,569.02 L681.3,570.54 L685.3,572.07 L689.3,573.62 L693.3,575.17 L697.3,576.74 L701.3,578.32 L705.3,579.91 L709.3,581.51 L713.3,583.13 L717.3,584.75 L721.3,586.38 L725.3,588.03 L729.3,589.68 L733.3,591.35 L737.3,593.02 L741.3,594.71 L745.3,596.40 L749.3,598.11 L753.3,599.82 L757.3,601.55 L761.3,603.28 L765.3,605.04 L769.3,606.82 L773.3,608.62 L777.3,610.44 L781.3,612.28 L785.3,614.14 L789.3,616.02 L793.3,617.92 L797.3,619.83 L801.3,621.76 L805.3,623.70 L809.3,625.65 L813.3,627.62 L817.3,629.59 L821.3,631.58 L825.3,633.58 L829.3,635.58 L833.3,637.59 L837.3,639.61 L841.3,641.63 L845.3,643.66 L849.3,645.70 L853.3,647.75 L857.3,649.83 L861.3,651.92 L865.3,654.02 L869.3,656.14 L873.3,658.28 L877.3,660.43 L881.3,662.59 L885.3,664.76 L889.3,666.95 L893.3,669.14 L897.3,671.35 L901.0,673.40 M373.3,462.50 L377.3,463.23 L381.3,463.97 L385.3,464.72 L389.3,465.49 L393.3,466.26 L397.3,467.06 L401.3,467.86 L405.3,468.68 L409.3,469.50 L413.3,470.34 L417.3,471.19 L421.3,472.06 L425.3,472.93 L429.3,473.82 L433.3,474.71 L437.3,475.62 L441.3,476.54 L445.3,477.47 L449.3,478.40 L453.3,479.35 L457.3,480.31 L461.3,481.28 L465.3,482.26 L469.3,483.24 L473.3,484.24 L477.3,485.24 L481.3,486.26 L485.3,487.28 L489.3,488.31 L493.3,489.35 L497.3,490.39 L501.3,491.45 L505.3,492.51 L509.3,493.59 L513.3,494.69 L517.3,495.79 L521.3,496.92 L525.3,498.05 L529.3,499.20 L533.3,500.37 L537.3,501.55 L541.3,502.74 L545.3,503.94 L549.3,505.16 L553.3,506.39 L557.3,507.64 L561.3,508.90 L565.3,510.17 L569.3,511.45 L573.3,512.75 L577.3,514.06 L581.3,515.38 L585.3,516.71 L589.3,518.06 L593.3,519.42 L597.3,520.79 L601.3,522.17 L605.3,523.57 L609.3,524.98 L613.3,526.40 L617.3,527.83 L621.3,529.27 L625.3,530.72 L629.3,532.19 L633.3,533.67 L637.3,535.17 L641.3,536.70 L645.3,538.26 L649.3,539.85 L653.3,541.46 L657.3,543.09 L661.3,544.74 L665.3,546.42 L669.3,548.11 L673.3,549.82 L677.3,551.55 L681.3,553.30 L685.3,555.06 L689.3,556.84 L693.3,558.62 L697.3,560.42 L701.3,562.23 L705.3,564.05 L709.3,565.88 L713.3,567.71 L717.3,569.55 L721.3,571.39 L725.3,573.24 L729.3,575.09 L733.3,576.94 L737.3,578.79 L741.3,580.64 L745.3,582.48 L749.3,584.33 L753.3,586.16 L757.3,588.00 L761.3,589.82 L765.3,591.65 L769.3,593.48 L773.3,595.31 L777.3,597.14 L781.3,598.99 L785.3,600.83 L789.3,602.69 L793.3,604.55 L797.3,606.41 L801.3,608.29 L805.3,610.17 L809.3,612.07 L813.3,613.97 L817.3,615.89 L821.3,617.81 L825.3,619.75 L829.3,621.70 L833.3,623.67 L837.3,625.65 L841.3,627.64 L845.3,629.65 L849.3,631.68 L853.3,633.73 L857.3,635.80 L861.3,637.88 L865.3,639.99 L869.3,642.11 L873.3,644.24 L877.3,646.39 L881.3,648.55 L885.3,650.73 L889.3,652.92 L893.3,655.13 L897.3,657.34 L901.0,659.40 M373.3,438.00 L377.3,438.93 L381.3,439.87 L385.3,440.81 L389.3,441.77 L393.3,442.73 L397.3,443.71 L401.3,444.69 L405.3,445.68 L409.3,446.68 L413.3,447.69 L417.3,448.71 L421.3,449.74 L425.3,450.77 L429.3,451.82 L433.3,452.87 L437.3,453.93 L441.3,455.00 L445.3,456.08 L449.3,457.16 L453.3,458.25 L457.3,459.35 L461.3,460.46 L465.3,461.58 L469.3,462.70 L473.3,463.83 L477.3,464.97 L481.3,466.11 L485.3,467.26 L489.3,468.42 L493.3,469.59 L497.3,470.76 L501.3,471.94 L505.3,473.13 L509.3,474.32 L513.3,475.53 L517.3,476.74 L521.3,477.96 L525.3,479.18 L529.3,480.42 L533.3,481.67 L537.3,482.92 L541.3,484.18 L545.3,485.46 L549.3,486.74 L553.3,488.03 L557.3,489.33 L561.3,490.65 L565.3,491.97 L569.3,493.30 L573.3,494.65 L577.3,496.00 L581.3,497.37 L585.3,498.74 L589.3,500.13 L593.3,501.53 L597.3,502.94 L601.3,504.36 L605.3,505.80 L609.3,507.24 L613.3,508.70 L617.3,510.17 L621.3,511.66 L625.3,513.15 L629.3,514.66 L633.3,516.19 L637.3,517.73 L641.3,519.29 L645.3,520.88 L649.3,522.48 L653.3,524.10 L657.3,525.74 L661.3,527.40 L665.3,529.08 L669.3,530.77 L673.3,532.47 L677.3,534.20 L681.3,535.93 L685.3,537.68 L689.3,539.45 L693.3,541.22 L697.3,543.01 L701.3,544.82 L705.3,546.63 L709.3,548.45 L713.3,550.29 L717.3,552.13 L721.3,553.98 L725.3,555.84 L729.3,557.71 L733.3,559.58 L737.3,561.47 L741.3,563.35 L745.3,565.25 L749.3,567.14 L753.3,569.05 L757.3,570.95 L761.3,572.86 L765.3,574.78 L769.3,576.71 L773.3,578.66 L777.3,580.62 L781.3,582.59 L785.3,584.58 L789.3,586.58 L793.3,588.59 L797.3,590.62 L801.3,592.66 L805.3,594.71 L809.3,596.78 L813.3,598.87 L817.3,600.97 L821.3,603.08 L825.3,605.21 L829.3,607.36 L833.3,609.52 L837.3,611.70 L841.3,613.89 L845.3,616.10 L849.3,618.33 L853.3,620.59 L857.3,622.88 L861.3,625.18 L865.3,627.52 L869.3,629.87 L873.3,632.25 L877.3,634.64 L881.3,637.06 L885.3,639.49 L889.3,641.94 L893.3,644.41 L897.3,646.89 L901.0,649.20 M373.3,418.00 L377.3,418.96 L381.3,419.92 L385.3,420.89 L389.3,421.87 L393.3,422.86 L397.3,423.86 L401.3,424.86 L405.3,425.88 L409.3,426.90 L413.3,427.93 L417.3,428.97 L421.3,430.01 L425.3,431.06 L429.3,432.12 L433.3,433.19 L437.3,434.27 L441.3,435.35 L445.3,436.44 L449.3,437.54 L453.3,438.64 L457.3,439.76 L461.3,440.88 L465.3,442.00 L469.3,443.14 L473.3,444.28 L477.3,445.42 L481.3,446.58 L485.3,447.74 L489.3,448.90 L493.3,450.08 L497.3,451.25 L501.3,452.44 L505.3,453.63 L509.3,454.83 L513.3,456.04 L517.3,457.25 L521.3,458.47 L525.3,459.70 L529.3,460.93 L533.3,462.18 L537.3,463.43 L541.3,464.69 L545.3,465.96 L549.3,467.23 L553.3,468.52 L557.3,469.81 L561.3,471.12 L565.3,472.43 L569.3,473.75 L573.3,475.08 L577.3,476.43 L581.3,477.78 L585.3,479.14 L589.3,480.52 L593.3,481.90 L597.3,483.30 L601.3,484.70 L605.3,486.12 L609.3,487.55 L613.3,488.99 L617.3,490.44 L621.3,491.91 L625.3,493.39 L629.3,494.88 L633.3,496.38 L637.3,497.90 L641.3,499.43 L645.3,500.98 L649.3,502.54 L653.3,504.12 L657.3,505.71 L661.3,507.31 L665.3,508.94 L669.3,510.57 L673.3,512.22 L677.3,513.88 L681.3,515.56 L685.3,517.25 L689.3,518.96 L693.3,520.68 L697.3,522.41 L701.3,524.15 L705.3,525.91 L709.3,527.69 L713.3,529.47 L717.3,531.27 L721.3,533.08 L725.3,534.90 L729.3,536.74 L733.3,538.59 L737.3,540.45 L741.3,542.32 L745.3,544.21 L749.3,546.11 L753.3,548.02 L757.3,549.94 L761.3,551.87 L765.3,553.83 L769.3,555.81 L773.3,557.81 L777.3,559.84 L781.3,561.89 L785.3,563.96 L789.3,566.06 L793.3,568.17 L797.3,570.30 L801.3,572.46 L805.3,574.63 L809.3,576.82 L813.3,579.03 L817.3,581.26 L821.3,583.51 L825.3,585.77 L829.3,588.05 L833.3,590.35 L837.3,592.66 L841.3,594.99 L845.3,597.33 L849.3,599.70 L853.3,602.10 L857.3,604.53 L861.3,606.99 L865.3,609.47 L869.3,611.99 L873.3,614.52 L877.3,617.09 L881.3,619.67 L885.3,622.28 L889.3,624.91 L893.3,627.55 L897.3,630.22 L901.0,632.70 M373.3,390.80 L377.3,391.69 L381.3,392.60 L385.3,393.52 L389.3,394.46 L393.3,395.41 L397.3,396.37 L401.3,397.34 L405.3,398.33 L409.3,399.33 L413.3,400.34 L417.3,401.37 L421.3,402.41 L425.3,403.45 L429.3,404.52 L433.3,405.59 L437.3,406.67 L441.3,407.77 L445.3,408.87 L449.3,409.99 L453.3,411.12 L457.3,412.26 L461.3,413.41 L465.3,414.57 L469.3,415.74 L473.3,416.92 L477.3,418.11 L481.3,419.31 L485.3,420.51 L489.3,421.73 L493.3,422.96 L497.3,424.19 L501.3,425.44 L505.3,426.69 L509.3,427.97 L513.3,429.26 L517.3,430.56 L521.3,431.88 L525.3,433.22 L529.3,434.57 L533.3,435.93 L537.3,437.31 L541.3,438.71 L545.3,440.12 L549.3,441.54 L553.3,442.97 L557.3,444.42 L561.3,445.89 L565.3,447.36 L569.3,448.85 L573.3,450.36 L577.3,451.87 L581.3,453.40 L585.3,454.94 L589.3,456.49 L593.3,458.05 L597.3,459.62 L601.3,461.21 L605.3,462.80 L609.3,464.41 L613.3,466.02 L617.3,467.65 L621.3,469.28 L625.3,470.93 L629.3,472.59 L633.3,474.25 L637.3,475.94 L641.3,477.64 L645.3,479.37 L649.3,481.11 L653.3,482.87 L657.3,484.66 L661.3,486.45 L665.3,488.27 L669.3,490.10 L673.3,491.95 L677.3,493.81 L681.3,495.69 L685.3,497.58 L689.3,499.49 L693.3,501.41 L697.3,503.34 L701.3,505.28 L705.3,507.23 L709.3,509.20 L713.3,511.17 L717.3,513.15 L721.3,515.15 L725.3,517.15 L729.3,519.15 L733.3,521.17 L737.3,523.19 L741.3,525.22 L745.3,527.25 L749.3,529.29 L753.3,531.33 L757.3,533.37 L761.3,535.42 L765.3,537.47 L769.3,539.52 L773.3,541.58 L777.3,543.64 L781.3,545.71 L785.3,547.79 L789.3,549.89 L793.3,551.99 L797.3,554.12 L801.3,556.26 L805.3,558.42 L809.3,560.61 L813.3,562.81 L817.3,565.05 L821.3,567.31 L825.3,569.60 L829.3,571.92 L833.3,574.27 L837.3,576.66 L841.3,579.09 L845.3,581.56 L849.3,584.08 L853.3,586.65 L857.3,589.27 L861.3,591.94 L865.3,594.66 L869.3,597.42 L873.3,600.23 L877.3,603.07 L881.3,605.95 L885.3,608.86 L889.3,611.81 L893.3,614.79 L897.3,617.80 L901.0,620.60 M373.3,365.50 L377.3,366.40 L381.3,367.31 L385.3,368.25 L389.3,369.20 L393.3,370.18 L397.3,371.17 L401.3,372.18 L405.3,373.21 L409.3,374.25 L413.3,375.31 L417.3,376.39 L421.3,377.49 L425.3,378.60 L429.3,379.73 L433.3,380.87 L437.3,382.03 L441.3,383.20 L445.3,384.39 L449.3,385.60 L453.3,386.81 L457.3,388.04 L461.3,389.29 L465.3,390.55 L469.3,391.82 L473.3,393.11 L477.3,394.40 L481.3,395.71 L485.3,397.03 L489.3,398.37 L493.3,399.71 L497.3,401.07 L501.3,402.43 L505.3,403.82 L509.3,405.23 L513.3,406.67 L517.3,408.14 L521.3,409.63 L525.3,411.15 L529.3,412.70 L533.3,414.26 L537.3,415.85 L541.3,417.46 L545.3,419.09 L549.3,420.75 L553.3,422.41 L557.3,424.10 L561.3,425.81 L565.3,427.53 L569.3,429.26 L573.3,431.01 L577.3,432.77 L581.3,434.55 L585.3,436.33 L589.3,438.13 L593.3,439.94 L597.3,441.75 L601.3,443.58 L605.3,445.41 L609.3,447.24 L613.3,449.08 L617.3,450.93 L621.3,452.78 L625.3,454.63 L629.3,456.48 L633.3,458.34 L637.3,460.20 L641.3,462.08 L645.3,463.98 L649.3,465.88 L653.3,467.80 L657.3,469.73 L661.3,471.68 L665.3,473.64 L669.3,475.61 L673.3,477.59 L677.3,479.59 L681.3,481.60 L685.3,483.61 L689.3,485.65 L693.3,487.69 L697.3,489.74 L701.3,491.81 L705.3,493.88 L709.3,495.97 L713.3,498.06 L717.3,500.17 L721.3,502.29 L725.3,504.42 L729.3,506.56 L733.3,508.70 L737.3,510.86 L741.3,513.03 L745.3,515.20 L749.3,517.39 L753.3,519.58 L757.3,521.78 L761.3,524.00 L765.3,526.23 L769.3,528.47 L773.3,530.74 L777.3,533.02 L781.3,535.31 L785.3,537.63 L789.3,539.96 L793.3,542.30 L797.3,544.66 L801.3,547.04 L805.3,549.43 L809.3,551.83 L813.3,554.25 L817.3,556.68 L821.3,559.13 L825.3,561.59 L829.3,564.06 L833.3,566.54 L837.3,569.04 L841.3,571.55 L845.3,574.07 L849.3,576.61 L853.3,579.17 L857.3,581.76 L861.3,584.36 L865.3,586.99 L869.3,589.64 L873.3,592.30 L877.3,594.98 L881.3,597.68 L885.3,600.40 L889.3,603.13 L893.3,605.88 L897.3,608.64 L901.0,611.20 M373.3,350.00 L377.3,351.08 L381.3,352.17 L385.3,353.27 L389.3,354.38 L393.3,355.51 L397.3,356.66 L401.3,357.81 L405.3,358.98 L409.3,360.16 L413.3,361.35 L417.3,362.56 L421.3,363.77 L425.3,365.00 L429.3,366.24 L433.3,367.50 L437.3,368.76 L441.3,370.04 L445.3,371.32 L449.3,372.62 L453.3,373.93 L457.3,375.25 L461.3,376.58 L465.3,377.92 L469.3,379.27 L473.3,380.63 L477.3,382.00 L481.3,383.38 L485.3,384.77 L489.3,386.17 L493.3,387.58 L497.3,389.00 L501.3,390.43 L505.3,391.87 L509.3,393.32 L513.3,394.79 L517.3,396.28 L521.3,397.78 L525.3,399.30 L529.3,400.83 L533.3,402.37 L537.3,403.93 L541.3,405.50 L545.3,407.09 L549.3,408.69 L553.3,410.30 L557.3,411.93 L561.3,413.57 L565.3,415.22 L569.3,416.89 L573.3,418.57 L577.3,420.26 L581.3,421.96 L585.3,423.68 L589.3,425.40 L593.3,427.14 L597.3,428.89 L601.3,430.65 L605.3,432.43 L609.3,434.21 L613.3,436.01 L617.3,437.81 L621.3,439.63 L625.3,441.45 L629.3,443.29 L633.3,445.13 L637.3,447.00 L641.3,448.88 L645.3,450.78 L649.3,452.70 L653.3,454.64 L657.3,456.59 L661.3,458.56 L665.3,460.55 L669.3,462.55 L673.3,464.57 L677.3,466.60 L681.3,468.65 L685.3,470.72 L689.3,472.79 L693.3,474.88 L697.3,476.98 L701.3,479.10 L705.3,481.22 L709.3,483.36 L713.3,485.51 L717.3,487.67 L721.3,489.84 L725.3,492.02 L729.3,494.21 L733.3,496.41 L737.3,498.62 L741.3,500.83 L745.3,503.05 L749.3,505.28 L753.3,507.52 L757.3,509.76 L761.3,512.01 L765.3,514.27 L769.3,516.53 L773.3,518.79 L777.3,521.07 L781.3,523.36 L785.3,525.66 L789.3,527.97 L793.3,530.30 L797.3,532.65 L801.3,535.02 L805.3,537.41 L809.3,539.83 L813.3,542.27 L817.3,544.74 L821.3,547.23 L825.3,549.76 L829.3,552.32 L833.3,554.91 L837.3,557.54 L841.3,560.21 L845.3,562.91 L849.3,565.73 L853.3,568.66 L857.3,571.67 L861.3,574.76 L865.3,577.88 L869.3,581.03 L873.3,584.17 L877.3,587.27 L881.3,590.32 L885.3,593.30 L889.3,596.16 L893.3,598.94 L897.3,601.64 L901.0,604.10 M373.3,331.00 L377.3,332.30 L381.3,333.62 L385.3,334.94 L389.3,336.27 L393.3,337.61 L397.3,338.96 L401.3,340.32 L405.3,341.69 L409.3,343.06 L413.3,344.45 L417.3,345.84 L421.3,347.24 L425.3,348.65 L429.3,350.07 L433.3,351.49 L437.3,352.92 L441.3,354.37 L445.3,355.82 L449.3,357.27 L453.3,358.74 L457.3,360.21 L461.3,361.70 L465.3,363.18 L469.3,364.68 L473.3,366.19 L477.3,367.70 L481.3,369.22 L485.3,370.74 L489.3,372.28 L493.3,373.82 L497.3,375.37 L501.3,376.92 L505.3,378.48 L509.3,380.06 L513.3,381.64 L517.3,383.22 L521.3,384.82 L525.3,386.42 L529.3,388.04 L533.3,389.66 L537.3,391.29 L541.3,392.93 L545.3,394.58 L549.3,396.23 L553.3,397.90 L557.3,399.58 L561.3,401.26 L565.3,402.96 L569.3,404.66 L573.3,406.38 L577.3,408.10 L581.3,409.83 L585.3,411.58 L589.3,413.33 L593.3,415.10 L597.3,416.88 L601.3,418.66 L605.3,420.46 L609.3,422.27 L613.3,424.08 L617.3,425.91 L621.3,427.76 L625.3,429.61 L629.3,431.47 L633.3,433.35 L637.3,435.23 L641.3,437.14 L645.3,439.05 L649.3,440.98 L653.3,442.92 L657.3,444.88 L661.3,446.85 L665.3,448.83 L669.3,450.83 L673.3,452.83 L677.3,454.85 L681.3,456.89 L685.3,458.93 L689.3,460.99 L693.3,463.06 L697.3,465.14 L701.3,467.24 L705.3,469.35 L709.3,471.46 L713.3,473.59 L717.3,475.73 L721.3,477.89 L725.3,480.05 L729.3,482.23 L733.3,484.41 L737.3,486.61 L741.3,488.82 L745.3,491.04 L749.3,493.27 L753.3,495.51 L757.3,497.76 L761.3,500.02 L765.3,502.29 L769.3,504.56 L773.3,506.85 L777.3,509.15 L781.3,511.46 L785.3,513.79 L789.3,516.13 L793.3,518.50 L797.3,520.88 L801.3,523.28 L805.3,525.71 L809.3,528.16 L813.3,530.64 L817.3,533.15 L821.3,535.69 L825.3,538.26 L829.3,540.86 L833.3,543.49 L837.3,546.16 L841.3,548.87 L845.3,551.62 L849.3,554.47 L853.3,557.42 L857.3,560.45 L861.3,563.54 L865.3,566.69 L869.3,569.86 L873.3,573.04 L877.3,576.22 L881.3,579.36 L885.3,582.46 L889.3,585.50 L893.3,588.50 L897.3,591.46 L901.0,594.20 M373.3,298.70 L377.3,299.97 L381.3,301.25 L385.3,302.54 L389.3,303.84 L393.3,305.16 L397.3,306.49 L401.3,307.83 L405.3,309.18 L409.3,310.55 L413.3,311.92 L417.3,313.31 L421.3,314.71 L425.3,316.12 L429.3,317.54 L433.3,318.98 L437.3,320.42 L441.3,321.87 L445.3,323.34 L449.3,324.82 L453.3,326.30 L457.3,327.80 L461.3,329.31 L465.3,330.82 L469.3,332.35 L473.3,333.89 L477.3,335.44 L481.3,336.99 L485.3,338.56 L489.3,340.14 L493.3,341.72 L497.3,343.32 L501.3,344.92 L505.3,346.53 L509.3,348.16 L513.3,349.80 L517.3,351.45 L521.3,353.11 L525.3,354.78 L529.3,356.47 L533.3,358.17 L537.3,359.88 L541.3,361.61 L545.3,363.35 L549.3,365.10 L553.3,366.86 L557.3,368.64 L561.3,370.42 L565.3,372.23 L569.3,374.04 L573.3,375.87 L577.3,377.71 L581.3,379.56 L585.3,381.43 L589.3,383.31 L593.3,385.21 L597.3,387.12 L601.3,389.04 L605.3,390.98 L609.3,392.93 L613.3,394.89 L617.3,396.87 L621.3,398.86 L625.3,400.86 L629.3,402.88 L633.3,404.92 L637.3,406.97 L641.3,409.05 L645.3,411.15 L649.3,413.28 L653.3,415.42 L657.3,417.58 L661.3,419.76 L665.3,421.96 L669.3,424.19 L673.3,426.42 L677.3,428.68 L681.3,430.95 L685.3,433.24 L689.3,435.55 L693.3,437.87 L697.3,440.20 L701.3,442.55 L705.3,444.91 L709.3,447.29 L713.3,449.68 L717.3,452.08 L721.3,454.49 L725.3,456.91 L729.3,459.35 L733.3,461.79 L737.3,464.24 L741.3,466.70 L745.3,469.17 L749.3,471.65 L753.3,474.14 L757.3,476.63 L761.3,479.13 L765.3,481.65 L769.3,484.19 L773.3,486.75 L777.3,489.33 L781.3,491.93 L785.3,494.55 L789.3,497.19 L793.3,499.85 L797.3,502.52 L801.3,505.21 L805.3,507.91 L809.3,510.63 L813.3,513.36 L817.3,516.11 L821.3,518.87 L825.3,521.64 L829.3,524.42 L833.3,527.21 L837.3,530.01 L841.3,532.82 L845.3,535.64 L849.3,538.48 L853.3,541.36 L857.3,544.26 L861.3,547.18 L865.3,550.13 L869.3,553.09 L873.3,556.06 L877.3,559.04 L881.3,562.03 L885.3,565.01 L889.3,568.00 L893.3,570.99 L897.3,574.01 L901.0,576.80 M373.3,276.80 L377.3,278.11 L381.3,279.43 L385.3,280.77 L389.3,282.11 L393.3,283.47 L397.3,284.84 L401.3,286.21 L405.3,287.60 L409.3,289.00 L413.3,290.41 L417.3,291.83 L421.3,293.26 L425.3,294.71 L429.3,296.16 L433.3,297.62 L437.3,299.09 L441.3,300.57 L445.3,302.06 L449.3,303.56 L453.3,305.07 L457.3,306.60 L461.3,308.12 L465.3,309.66 L469.3,311.21 L473.3,312.77 L477.3,314.34 L481.3,315.91 L485.3,317.50 L489.3,319.09 L493.3,320.69 L497.3,322.30 L501.3,323.92 L505.3,325.55 L509.3,327.18 L513.3,328.83 L517.3,330.49 L521.3,332.15 L525.3,333.83 L529.3,335.51 L533.3,337.21 L537.3,338.92 L541.3,340.64 L545.3,342.37 L549.3,344.11 L553.3,345.86 L557.3,347.63 L561.3,349.41 L565.3,351.20 L569.3,353.00 L573.3,354.81 L577.3,356.64 L581.3,358.48 L585.3,360.34 L589.3,362.20 L593.3,364.09 L597.3,365.98 L601.3,367.89 L605.3,369.82 L609.3,371.76 L613.3,373.71 L617.3,375.68 L621.3,377.67 L625.3,379.67 L629.3,381.68 L633.3,383.72 L637.3,385.77 L641.3,387.84 L645.3,389.93 L649.3,392.04 L653.3,394.17 L657.3,396.32 L661.3,398.48 L665.3,400.67 L669.3,402.87 L673.3,405.09 L677.3,407.33 L681.3,409.58 L685.3,411.86 L689.3,414.15 L693.3,416.46 L697.3,418.78 L701.3,421.12 L705.3,423.48 L709.3,425.86 L713.3,428.25 L717.3,430.66 L721.3,433.08 L725.3,435.52 L729.3,437.97 L733.3,440.45 L737.3,442.93 L741.3,445.43 L745.3,447.95 L749.3,450.48 L753.3,453.03 L757.3,455.59 L761.3,458.16 L765.3,460.78 L769.3,463.43 L773.3,466.12 L777.3,468.84 L781.3,471.60 L785.3,474.38 L789.3,477.19 L793.3,480.03 L797.3,482.89 L801.3,485.77 L805.3,488.67 L809.3,491.59 L813.3,494.51 L817.3,497.45 L821.3,500.40 L825.3,503.36 L829.3,506.32 L833.3,509.28 L837.3,512.25 L841.3,515.21 L845.3,518.17 L849.3,521.13 L853.3,524.11 L857.3,527.11 L861.3,530.12 L865.3,533.15 L869.3,536.19 L873.3,539.24 L877.3,542.31 L881.3,545.38 L885.3,548.47 L889.3,551.57 L893.3,554.68 L897.3,557.80 L901.0,560.70 M373.3,254.20 L377.3,255.54 L381.3,256.89 L385.3,258.26 L389.3,259.64 L393.3,261.03 L397.3,262.44 L401.3,263.85 L405.3,265.28 L409.3,266.72 L413.3,268.17 L417.3,269.64 L421.3,271.12 L425.3,272.60 L429.3,274.10 L433.3,275.61 L437.3,277.13 L441.3,278.67 L445.3,280.21 L449.3,281.77 L453.3,283.33 L457.3,284.91 L461.3,286.49 L465.3,288.09 L469.3,289.70 L473.3,291.32 L477.3,292.94 L481.3,294.58 L485.3,296.23 L489.3,297.89 L493.3,299.55 L497.3,301.23 L501.3,302.92 L505.3,304.61 L509.3,306.32 L513.3,308.04 L517.3,309.77 L521.3,311.51 L525.3,313.27 L529.3,315.03 L533.3,316.81 L537.3,318.60 L541.3,320.41 L545.3,322.22 L549.3,324.05 L553.3,325.90 L557.3,327.75 L561.3,329.63 L565.3,331.51 L569.3,333.41 L573.3,335.32 L577.3,337.24 L581.3,339.18 L585.3,341.14 L589.3,343.11 L593.3,345.09 L597.3,347.09 L601.3,349.10 L605.3,351.13 L609.3,353.17 L613.3,355.23 L617.3,357.31 L621.3,359.40 L625.3,361.50 L629.3,363.63 L633.3,365.76 L637.3,367.92 L641.3,370.10 L645.3,372.31 L649.3,374.53 L653.3,376.77 L657.3,379.03 L661.3,381.31 L665.3,383.62 L669.3,385.94 L673.3,388.28 L677.3,390.64 L681.3,393.02 L685.3,395.41 L689.3,397.83 L693.3,400.26 L697.3,402.71 L701.3,405.18 L705.3,407.67 L709.3,410.17 L713.3,412.70 L717.3,415.23 L721.3,417.79 L725.3,420.36 L729.3,422.95 L733.3,425.55 L737.3,428.18 L741.3,430.81 L745.3,433.46 L749.3,436.13 L753.3,438.81 L757.3,441.51 L761.3,444.22 L765.3,446.98 L769.3,449.77 L773.3,452.59 L777.3,455.46 L781.3,458.35 L785.3,461.28 L789.3,464.23 L793.3,467.21 L797.3,470.21 L801.3,473.24 L805.3,476.29 L809.3,479.35 L813.3,482.43 L817.3,485.53 L821.3,488.64 L825.3,491.75 L829.3,494.88 L833.3,498.00 L837.3,501.14 L841.3,504.27 L845.3,507.41 L849.3,510.55 L853.3,513.72 L857.3,516.91 L861.3,520.11 L865.3,523.34 L869.3,526.58 L873.3,529.84 L877.3,533.11 L881.3,536.40 L885.3,539.70 L889.3,543.02 L893.3,546.35 L897.3,549.70 L901.0,552.80 M373.3,227.50 L377.3,228.97 L381.3,230.45 L385.3,231.94 L389.3,233.44 L393.3,234.95 L397.3,236.47 L401.3,238.01 L405.3,239.55 L409.3,241.10 L413.3,242.66 L417.3,244.24 L421.3,245.82 L425.3,247.41 L429.3,249.01 L433.3,250.62 L437.3,252.24 L441.3,253.87 L445.3,255.51 L449.3,257.16 L453.3,258.82 L457.3,260.49 L461.3,262.17 L465.3,263.85 L469.3,265.55 L473.3,267.25 L477.3,268.96 L481.3,270.68 L485.3,272.41 L489.3,274.15 L493.3,275.89 L497.3,277.65 L501.3,279.41 L505.3,281.18 L509.3,282.96 L513.3,284.75 L517.3,286.55 L521.3,288.35 L525.3,290.17 L529.3,291.99 L533.3,293.83 L537.3,295.67 L541.3,297.53 L545.3,299.39 L549.3,301.27 L553.3,303.15 L557.3,305.05 L561.3,306.96 L565.3,308.88 L569.3,310.82 L573.3,312.76 L577.3,314.72 L581.3,316.69 L585.3,318.67 L589.3,320.67 L593.3,322.68 L597.3,324.70 L601.3,326.74 L605.3,328.79 L609.3,330.86 L613.3,332.94 L617.3,335.04 L621.3,337.15 L625.3,339.27 L629.3,341.42 L633.3,343.57 L637.3,345.75 L641.3,347.94 L645.3,350.15 L649.3,352.38 L653.3,354.62 L657.3,356.89 L661.3,359.17 L665.3,361.46 L669.3,363.78 L673.3,366.11 L677.3,368.46 L681.3,370.82 L685.3,373.20 L689.3,375.60 L693.3,378.02 L697.3,380.45 L701.3,382.89 L705.3,385.36 L709.3,387.84 L713.3,390.33 L717.3,392.85 L721.3,395.37 L725.3,397.92 L729.3,400.48 L733.3,403.05 L737.3,405.64 L741.3,408.25 L745.3,410.87 L749.3,413.51 L753.3,416.16 L757.3,418.83 L761.3,421.51 L765.3,424.21 L769.3,426.93 L773.3,429.67 L777.3,432.43 L781.3,435.22 L785.3,438.02 L789.3,440.86 L793.3,443.71 L797.3,446.60 L801.3,449.51 L805.3,452.46 L809.3,455.43 L813.3,458.44 L817.3,461.47 L821.3,464.55 L825.3,467.65 L829.3,470.79 L833.3,473.97 L837.3,477.19 L841.3,480.45 L845.3,483.74 L849.3,487.04 L853.3,490.35 L857.3,493.69 L861.3,497.09 L865.3,500.56 L869.3,504.13 L873.3,507.82 L877.3,511.66 L881.3,515.68 L885.3,519.88 L889.3,524.31 L893.3,529.30 L897.3,534.76 L901.0,540.00" stroke="#c8f6f6" stroke-width="5.5" fill="none" stroke-linecap="round" opacity="0.7"/>
<path d="M164.8,783.20 L168.8,783.21 L172.8,783.22 L176.8,783.23 L180.8,783.24 L184.8,783.25 L188.8,783.26 L192.8,783.28 L196.8,783.29 L200.8,783.30 L204.8,783.31 L208.8,783.32 L212.8,783.34 L216.8,783.35 L220.8,783.36 L224.8,783.38 L228.8,783.39 L232.8,783.40 L236.8,783.42 L240.8,783.43 L244.8,783.44 L248.8,783.46 L252.8,783.47 L256.8,783.49 L260.8,783.50 L264.8,783.52 L268.8,783.53 L272.8,783.55 L276.8,783.56 L280.8,783.58 L284.8,783.60 L288.8,783.61 L292.8,783.63 L296.8,783.64 L300.8,783.66 L304.8,783.68 L308.8,783.70 L312.8,783.71 L316.8,783.73 L320.8,783.75 L324.8,783.77 L328.8,783.78 L332.8,783.80 L336.8,783.82 L340.8,783.84 L344.8,783.86 L348.8,783.88 L352.8,783.90 L356.8,783.92 L360.8,783.94 L364.8,783.96 L368.8,783.98 L372.8,784.00 L373.3,784.00 M164.8,755.30 L168.8,755.35 L172.8,755.39 L176.8,755.44 L180.8,755.50 L184.8,755.55 L188.8,755.60 L192.8,755.65 L196.8,755.71 L200.8,755.76 L204.8,755.82 L208.8,755.88 L212.8,755.93 L216.8,755.99 L220.8,756.05 L224.8,756.11 L228.8,756.17 L232.8,756.24 L236.8,756.30 L240.8,756.36 L244.8,756.43 L248.8,756.49 L252.8,756.56 L256.8,756.63 L260.8,756.70 L264.8,756.77 L268.8,756.84 L272.8,756.91 L276.8,756.98 L280.8,757.06 L284.8,757.13 L288.8,757.20 L292.8,757.28 L296.8,757.36 L300.8,757.44 L304.8,757.51 L308.8,757.59 L312.8,757.67 L316.8,757.76 L320.8,757.84 L324.8,757.92 L328.8,758.00 L332.8,758.09 L336.8,758.18 L340.8,758.26 L344.8,758.35 L348.8,758.44 L352.8,758.53 L356.8,758.62 L360.8,758.71 L364.8,758.80 L368.8,758.89 L372.8,758.99 L373.3,759.00 M164.8,733.20 L168.8,733.27 L172.8,733.34 L176.8,733.41 L180.8,733.48 L184.8,733.55 L188.8,733.63 L192.8,733.71 L196.8,733.78 L200.8,733.86 L204.8,733.94 L208.8,734.02 L212.8,734.11 L216.8,734.19 L220.8,734.28 L224.8,734.36 L228.8,734.45 L232.8,734.54 L236.8,734.63 L240.8,734.72 L244.8,734.82 L248.8,734.91 L252.8,735.01 L256.8,735.10 L260.8,735.20 L264.8,735.30 L268.8,735.40 L272.8,735.51 L276.8,735.61 L280.8,735.71 L284.8,735.82 L288.8,735.93 L292.8,736.04 L296.8,736.15 L300.8,736.26 L304.8,736.37 L308.8,736.48 L312.8,736.60 L316.8,736.72 L320.8,736.83 L324.8,736.95 L328.8,737.07 L332.8,737.20 L336.8,737.32 L340.8,737.44 L344.8,737.57 L348.8,737.70 L352.8,737.82 L356.8,737.95 L360.8,738.08 L364.8,738.22 L368.8,738.35 L372.8,738.48 L373.3,738.50 M164.8,708.49 L168.8,708.62 L172.8,708.74 L176.8,708.87 L180.8,709.00 L184.8,709.13 L188.8,709.27 L192.8,709.41 L196.8,709.54 L200.8,709.69 L204.8,709.83 L208.8,709.98 L212.8,710.13 L216.8,710.28 L220.8,710.43 L224.8,710.59 L228.8,710.74 L232.8,710.90 L236.8,711.07 L240.8,711.23 L244.8,711.40 L248.8,711.57 L252.8,711.74 L256.8,711.91 L260.8,712.09 L264.8,712.27 L268.8,712.45 L272.8,712.63 L276.8,712.82 L280.8,713.01 L284.8,713.20 L288.8,713.39 L292.8,713.59 L296.8,713.78 L300.8,713.98 L304.8,714.18 L308.8,714.39 L312.8,714.59 L316.8,714.80 L320.8,715.01 L324.8,715.23 L328.8,715.44 L332.8,715.66 L336.8,715.88 L340.8,716.10 L344.8,716.33 L348.8,716.56 L352.8,716.79 L356.8,717.02 L360.8,717.25 L364.8,717.49 L368.8,717.73 L372.8,717.97 L373.3,718.00 M164.8,686.09 L168.8,686.22 L172.8,686.34 L176.8,686.47 L180.8,686.60 L184.8,686.73 L188.8,686.86 L192.8,687.00 L196.8,687.13 L200.8,687.27 L204.8,687.42 L208.8,687.56 L212.8,687.71 L216.8,687.86 L220.8,688.01 L224.8,688.16 L228.8,688.32 L232.8,688.48 L236.8,688.64 L240.8,688.80 L244.8,688.97 L248.8,689.14 L252.8,689.31 L256.8,689.48 L260.8,689.65 L264.8,689.83 L268.8,690.01 L272.8,690.19 L276.8,690.37 L280.8,690.56 L284.8,690.75 L288.8,690.94 L292.8,691.13 L296.8,691.33 L300.8,691.52 L304.8,691.72 L308.8,691.93 L312.8,692.13 L316.8,692.34 L320.8,692.55 L324.8,692.76 L328.8,692.97 L332.8,693.19 L336.8,693.40 L340.8,693.62 L344.8,693.85 L348.8,694.07 L352.8,694.30 L356.8,694.53 L360.8,694.76 L364.8,695.00 L368.8,695.23 L372.8,695.47 L373.3,695.50 M164.8,661.39 L168.8,661.54 L172.8,661.68 L176.8,661.83 L180.8,661.99 L184.8,662.14 L188.8,662.30 L192.8,662.46 L196.8,662.62 L200.8,662.79 L204.8,662.95 L208.8,663.13 L212.8,663.30 L216.8,663.48 L220.8,663.66 L224.8,663.84 L228.8,664.02 L232.8,664.21 L236.8,664.40 L240.8,664.59 L244.8,664.79 L248.8,664.98 L252.8,665.19 L256.8,665.39 L260.8,665.60 L264.8,665.80 L268.8,666.02 L272.8,666.23 L276.8,666.45 L280.8,666.67 L284.8,666.89 L288.8,667.11 L292.8,667.34 L296.8,667.57 L300.8,667.81 L304.8,668.04 L308.8,668.28 L312.8,668.52 L316.8,668.77 L320.8,669.01 L324.8,669.26 L328.8,669.51 L332.8,669.77 L336.8,670.03 L340.8,670.29 L344.8,670.55 L348.8,670.81 L352.8,671.08 L356.8,671.35 L360.8,671.63 L364.8,671.90 L368.8,672.18 L372.8,672.46 L373.3,672.50 M164.8,634.09 L168.8,634.29 L172.8,634.49 L176.8,634.70 L180.8,634.91 L184.8,635.13 L188.8,635.35 L192.8,635.57 L196.8,635.79 L200.8,636.02 L204.8,636.26 L208.8,636.49 L212.8,636.74 L216.8,636.98 L220.8,637.23 L224.8,637.48 L228.8,637.74 L232.8,638.00 L236.8,638.26 L240.8,638.53 L244.8,638.80 L248.8,639.07 L252.8,639.35 L256.8,639.63 L260.8,639.92 L264.8,640.21 L268.8,640.50 L272.8,640.80 L276.8,641.10 L280.8,641.41 L284.8,641.72 L288.8,642.03 L292.8,642.34 L296.8,642.66 L300.8,642.99 L304.8,643.31 L308.8,643.65 L312.8,643.98 L316.8,644.32 L320.8,644.66 L324.8,645.01 L328.8,645.36 L332.8,645.71 L336.8,646.07 L340.8,646.43 L344.8,646.79 L348.8,647.16 L352.8,647.53 L356.8,647.91 L360.8,648.29 L364.8,648.67 L368.8,649.06 L372.8,649.45 L373.3,649.50 M164.8,606.29 L168.8,606.54 L172.8,606.79 L176.8,607.05 L180.8,607.31 L184.8,607.58 L188.8,607.85 L192.8,608.13 L196.8,608.41 L200.8,608.70 L204.8,608.99 L208.8,609.29 L212.8,609.59 L216.8,609.89 L220.8,610.20 L224.8,610.52 L228.8,610.83 L232.8,611.16 L236.8,611.49 L240.8,611.82 L244.8,612.16 L248.8,612.50 L252.8,612.85 L256.8,613.20 L260.8,613.56 L264.8,613.92 L268.8,614.28 L272.8,614.65 L276.8,615.03 L280.8,615.41 L284.8,615.79 L288.8,616.18 L292.8,616.58 L296.8,616.98 L300.8,617.38 L304.8,617.79 L308.8,618.20 L312.8,618.62 L316.8,619.04 L320.8,619.47 L324.8,619.90 L328.8,620.33 L332.8,620.77 L336.8,621.22 L340.8,621.67 L344.8,622.12 L348.8,622.58 L352.8,623.05 L356.8,623.52 L360.8,623.99 L364.8,624.47 L368.8,624.95 L372.8,625.44 L373.3,625.50 M164.8,583.99 L168.8,584.25 L172.8,584.51 L176.8,584.78 L180.8,585.05 L184.8,585.33 L188.8,585.62 L192.8,585.91 L196.8,586.20 L200.8,586.50 L204.8,586.80 L208.8,587.11 L212.8,587.42 L216.8,587.74 L220.8,588.06 L224.8,588.39 L228.8,588.72 L232.8,589.06 L236.8,589.40 L240.8,589.75 L244.8,590.10 L248.8,590.46 L252.8,590.82 L256.8,591.19 L260.8,591.56 L264.8,591.94 L268.8,592.32 L272.8,592.70 L276.8,593.09 L280.8,593.49 L284.8,593.89 L288.8,594.30 L292.8,594.71 L296.8,595.12 L300.8,595.54 L304.8,595.97 L308.8,596.40 L312.8,596.83 L316.8,597.27 L320.8,597.71 L324.8,598.16 L328.8,598.62 L332.8,599.08 L336.8,599.54 L340.8,600.01 L344.8,600.48 L348.8,600.96 L352.8,601.45 L356.8,601.93 L360.8,602.43 L364.8,602.93 L368.8,603.43 L372.8,603.94 L373.3,604.00 M164.8,562.19 L168.8,562.46 L172.8,562.73 L176.8,563.01 L180.8,563.30 L184.8,563.59 L188.8,563.88 L192.8,564.18 L196.8,564.49 L200.8,564.80 L204.8,565.11 L208.8,565.43 L212.8,565.76 L216.8,566.09 L220.8,566.43 L224.8,566.77 L228.8,567.11 L232.8,567.46 L236.8,567.82 L240.8,568.18 L244.8,568.55 L248.8,568.92 L252.8,569.29 L256.8,569.67 L260.8,570.06 L264.8,570.45 L268.8,570.85 L272.8,571.25 L276.8,571.66 L280.8,572.07 L284.8,572.49 L288.8,572.91 L292.8,573.33 L296.8,573.77 L300.8,574.20 L304.8,574.64 L308.8,575.09 L312.8,575.54 L316.8,576.00 L320.8,576.46 L324.8,576.93 L328.8,577.40 L332.8,577.88 L336.8,578.36 L340.8,578.85 L344.8,579.34 L348.8,579.84 L352.8,580.34 L356.8,580.85 L360.8,581.36 L364.8,581.88 L368.8,582.41 L372.8,582.93 L373.3,583.00 M164.8,536.99 L168.8,537.24 L172.8,537.49 L176.8,537.75 L180.8,538.01 L184.8,538.28 L188.8,538.55 L192.8,538.83 L196.8,539.11 L200.8,539.40 L204.8,539.69 L208.8,539.99 L212.8,540.29 L216.8,540.59 L220.8,540.90 L224.8,541.22 L228.8,541.53 L232.8,541.86 L236.8,542.19 L240.8,542.52 L244.8,542.86 L248.8,543.20 L252.8,543.55 L256.8,543.90 L260.8,544.26 L264.8,544.62 L268.8,544.98 L272.8,545.35 L276.8,545.73 L280.8,546.11 L284.8,546.49 L288.8,546.88 L292.8,547.28 L296.8,547.68 L300.8,548.08 L304.8,548.49 L308.8,548.90 L312.8,549.32 L316.8,549.74 L320.8,550.17 L324.8,550.60 L328.8,551.03 L332.8,551.47 L336.8,551.92 L340.8,552.37 L344.8,552.82 L348.8,553.28 L352.8,553.75 L356.8,554.22 L360.8,554.69 L364.8,555.17 L368.8,555.65 L372.8,556.14 L373.3,556.20 M164.8,511.49 L168.8,511.76 L172.8,512.04 L176.8,512.32 L180.8,512.61 L184.8,512.91 L188.8,513.21 L192.8,513.51 L196.8,513.82 L200.8,514.14 L204.8,514.46 L208.8,514.78 L212.8,515.11 L216.8,515.45 L220.8,515.79 L224.8,516.13 L228.8,516.48 L232.8,516.84 L236.8,517.20 L240.8,517.57 L244.8,517.94 L248.8,518.31 L252.8,518.70 L256.8,519.08 L260.8,519.47 L264.8,519.87 L268.8,520.27 L272.8,520.68 L276.8,521.09 L280.8,521.51 L284.8,521.93 L288.8,522.36 L292.8,522.79 L296.8,523.23 L300.8,523.68 L304.8,524.12 L308.8,524.58 L312.8,525.04 L316.8,525.50 L320.8,525.97 L324.8,526.44 L328.8,526.92 L332.8,527.41 L336.8,527.90 L340.8,528.39 L344.8,528.89 L348.8,529.40 L352.8,529.91 L356.8,530.42 L360.8,530.94 L364.8,531.47 L368.8,532.00 L372.8,532.53 L373.3,532.60 M164.8,485.89 L168.8,486.18 L172.8,486.49 L176.8,486.79 L180.8,487.11 L184.8,487.43 L188.8,487.75 L192.8,488.08 L196.8,488.42 L200.8,488.76 L204.8,489.11 L208.8,489.46 L212.8,489.82 L216.8,490.18 L220.8,490.55 L224.8,490.93 L228.8,491.31 L232.8,491.69 L236.8,492.09 L240.8,492.48 L244.8,492.89 L248.8,493.30 L252.8,493.71 L256.8,494.13 L260.8,494.55 L264.8,494.99 L268.8,495.42 L272.8,495.86 L276.8,496.31 L280.8,496.77 L284.8,497.22 L288.8,497.69 L292.8,498.16 L296.8,498.63 L300.8,499.11 L304.8,499.60 L308.8,500.09 L312.8,500.59 L316.8,501.09 L320.8,501.60 L324.8,502.12 L328.8,502.64 L332.8,503.16 L336.8,503.70 L340.8,504.23 L344.8,504.77 L348.8,505.32 L352.8,505.88 L356.8,506.43 L360.8,507.00 L364.8,507.57 L368.8,508.15 L372.8,508.73 L373.3,508.80 M164.8,457.48 L168.8,457.86 L172.8,458.24 L176.8,458.63 L180.8,459.03 L184.8,459.43 L188.8,459.84 L192.8,460.26 L196.8,460.69 L200.8,461.12 L204.8,461.56 L208.8,462.01 L212.8,462.46 L216.8,462.92 L220.8,463.39 L224.8,463.87 L228.8,464.35 L232.8,464.84 L236.8,465.33 L240.8,465.84 L244.8,466.35 L248.8,466.87 L252.8,467.39 L256.8,467.92 L260.8,468.46 L264.8,469.01 L268.8,469.56 L272.8,470.12 L276.8,470.69 L280.8,471.26 L284.8,471.84 L288.8,472.43 L292.8,473.02 L296.8,473.63 L300.8,474.23 L304.8,474.85 L308.8,475.47 L312.8,476.10 L316.8,476.74 L320.8,477.39 L324.8,478.04 L328.8,478.70 L332.8,479.36 L336.8,480.04 L340.8,480.72 L344.8,481.40 L348.8,482.10 L352.8,482.80 L356.8,483.50 L360.8,484.22 L364.8,484.94 L368.8,485.67 L372.8,486.41 L373.3,486.50 M164.8,433.48 L168.8,433.86 L172.8,434.24 L176.8,434.63 L180.8,435.03 L184.8,435.43 L188.8,435.84 L192.8,436.26 L196.8,436.69 L200.8,437.12 L204.8,437.56 L208.8,438.01 L212.8,438.46 L216.8,438.92 L220.8,439.39 L224.8,439.87 L228.8,440.35 L232.8,440.84 L236.8,441.33 L240.8,441.84 L244.8,442.35 L248.8,442.87 L252.8,443.39 L256.8,443.92 L260.8,444.46 L264.8,445.01 L268.8,445.56 L272.8,446.12 L276.8,446.69 L280.8,447.26 L284.8,447.84 L288.8,448.43 L292.8,449.02 L296.8,449.63 L300.8,450.23 L304.8,450.85 L308.8,451.47 L312.8,452.10 L316.8,452.74 L320.8,453.39 L324.8,454.04 L328.8,454.70 L332.8,455.36 L336.8,456.04 L340.8,456.72 L344.8,457.40 L348.8,458.10 L352.8,458.80 L356.8,459.50 L360.8,460.22 L364.8,460.94 L368.8,461.67 L372.8,462.41 L373.3,462.50 M164.8,405.48 L168.8,405.90 L172.8,406.33 L176.8,406.77 L180.8,407.21 L184.8,407.67 L188.8,408.13 L192.8,408.60 L196.8,409.07 L200.8,409.56 L204.8,410.05 L208.8,410.55 L212.8,411.06 L216.8,411.58 L220.8,412.10 L224.8,412.64 L228.8,413.18 L232.8,413.72 L236.8,414.28 L240.8,414.84 L244.8,415.42 L248.8,416.00 L252.8,416.58 L256.8,417.18 L260.8,417.78 L264.8,418.39 L268.8,419.01 L272.8,419.64 L276.8,420.28 L280.8,420.92 L284.8,421.57 L288.8,422.23 L292.8,422.90 L296.8,423.57 L300.8,424.25 L304.8,424.95 L308.8,425.64 L312.8,426.35 L316.8,427.06 L320.8,427.79 L324.8,428.52 L328.8,429.26 L332.8,430.00 L336.8,430.76 L340.8,431.52 L344.8,432.29 L348.8,433.06 L352.8,433.85 L356.8,434.64 L360.8,435.44 L364.8,436.25 L368.8,437.07 L372.8,437.90 L373.3,438.00 M164.8,380.18 L168.8,380.67 L172.8,381.17 L176.8,381.67 L180.8,382.19 L184.8,382.72 L188.8,383.26 L192.8,383.80 L196.8,384.36 L200.8,384.92 L204.8,385.49 L208.8,386.08 L212.8,386.67 L216.8,387.27 L220.8,387.88 L224.8,388.50 L228.8,389.13 L232.8,389.76 L236.8,390.41 L240.8,391.07 L244.8,391.73 L248.8,392.41 L252.8,393.09 L256.8,393.78 L260.8,394.49 L264.8,395.20 L268.8,395.92 L272.8,396.65 L276.8,397.39 L280.8,398.13 L284.8,398.89 L288.8,399.66 L292.8,400.43 L296.8,401.22 L300.8,402.01 L304.8,402.82 L308.8,403.63 L312.8,404.45 L316.8,405.28 L320.8,406.12 L324.8,406.97 L328.8,407.83 L332.8,408.70 L336.8,409.57 L340.8,410.46 L344.8,411.35 L348.8,412.26 L352.8,413.17 L356.8,414.10 L360.8,415.03 L364.8,415.97 L368.8,416.92 L372.8,417.88 L373.3,418.00 M164.8,353.78 L168.8,354.26 L172.8,354.75 L176.8,355.24 L180.8,355.75 L184.8,356.27 L188.8,356.79 L192.8,357.33 L196.8,357.87 L200.8,358.42 L204.8,358.98 L208.8,359.55 L212.8,360.13 L216.8,360.72 L220.8,361.32 L224.8,361.92 L228.8,362.54 L232.8,363.16 L236.8,363.80 L240.8,364.44 L244.8,365.09 L248.8,365.75 L252.8,366.42 L256.8,367.10 L260.8,367.78 L264.8,368.48 L268.8,369.19 L272.8,369.90 L276.8,370.62 L280.8,371.36 L284.8,372.10 L288.8,372.85 L292.8,373.61 L296.8,374.37 L300.8,375.15 L304.8,375.94 L308.8,376.73 L312.8,377.54 L316.8,378.35 L320.8,379.17 L324.8,380.00 L328.8,380.84 L332.8,381.69 L336.8,382.55 L340.8,383.42 L344.8,384.30 L348.8,385.18 L352.8,386.08 L356.8,386.98 L360.8,387.89 L364.8,388.81 L368.8,389.74 L372.8,390.68 L373.3,390.80 M164.8,332.28 L168.8,332.71 L172.8,333.15 L176.8,333.60 L180.8,334.05 L184.8,334.51 L188.8,334.98 L192.8,335.46 L196.8,335.95 L200.8,336.45 L204.8,336.95 L208.8,337.46 L212.8,337.98 L216.8,338.51 L220.8,339.05 L224.8,339.59 L228.8,340.14 L232.8,340.70 L236.8,341.27 L240.8,341.85 L244.8,342.43 L248.8,343.02 L252.8,343.62 L256.8,344.23 L260.8,344.85 L264.8,345.47 L268.8,346.11 L272.8,346.75 L276.8,347.40 L280.8,348.05 L284.8,348.72 L288.8,349.39 L292.8,350.07 L296.8,350.76 L300.8,351.46 L304.8,352.16 L308.8,352.88 L312.8,353.60 L316.8,354.33 L320.8,355.07 L324.8,355.81 L328.8,356.57 L332.8,357.33 L336.8,358.10 L340.8,358.88 L344.8,359.66 L348.8,360.46 L352.8,361.26 L356.8,362.07 L360.8,362.89 L364.8,363.72 L368.8,364.55 L372.8,365.39 L373.3,365.50 M164.8,310.17 L168.8,310.69 L172.8,311.22 L176.8,311.75 L180.8,312.30 L184.8,312.85 L188.8,313.42 L192.8,313.99 L196.8,314.58 L200.8,315.17 L204.8,315.77 L208.8,316.39 L212.8,317.01 L216.8,317.64 L220.8,318.29 L224.8,318.94 L228.8,319.60 L232.8,320.27 L236.8,320.95 L240.8,321.64 L244.8,322.34 L248.8,323.05 L252.8,323.77 L256.8,324.50 L260.8,325.24 L264.8,325.99 L268.8,326.75 L272.8,327.52 L276.8,328.30 L280.8,329.08 L284.8,329.88 L288.8,330.69 L292.8,331.50 L296.8,332.33 L300.8,333.17 L304.8,334.01 L308.8,334.87 L312.8,335.73 L316.8,336.61 L320.8,337.49 L324.8,338.39 L328.8,339.29 L332.8,340.20 L336.8,341.13 L340.8,342.06 L344.8,343.00 L348.8,343.96 L352.8,344.92 L356.8,345.89 L360.8,346.87 L364.8,347.86 L368.8,348.86 L372.8,349.87 L373.3,350.00 M164.8,283.53 L168.8,284.15 L172.8,284.77 L176.8,285.41 L180.8,286.06 L184.8,286.72 L188.8,287.40 L192.8,288.08 L196.8,288.78 L200.8,289.49 L204.8,290.20 L208.8,290.94 L212.8,291.68 L216.8,292.43 L220.8,293.20 L224.8,293.98 L228.8,294.76 L232.8,295.56 L236.8,296.38 L240.8,297.20 L244.8,298.03 L248.8,298.88 L252.8,299.74 L256.8,300.61 L260.8,301.49 L264.8,302.38 L268.8,303.29 L272.8,304.20 L276.8,305.13 L280.8,306.07 L284.8,307.02 L288.8,307.98 L292.8,308.95 L296.8,309.94 L300.8,310.94 L304.8,311.94 L308.8,312.96 L312.8,313.99 L316.8,315.04 L320.8,316.09 L324.8,317.16 L328.8,318.24 L332.8,319.32 L336.8,320.42 L340.8,321.54 L344.8,322.66 L348.8,323.80 L352.8,324.94 L356.8,326.10 L360.8,327.27 L364.8,328.45 L368.8,329.64 L372.8,330.85 L373.3,331.00 M164.8,253.62 L168.8,254.21 L172.8,254.80 L176.8,255.41 L180.8,256.03 L184.8,256.65 L188.8,257.29 L192.8,257.94 L196.8,258.60 L200.8,259.28 L204.8,259.96 L208.8,260.65 L212.8,261.36 L216.8,262.08 L220.8,262.80 L224.8,263.54 L228.8,264.29 L232.8,265.05 L236.8,265.82 L240.8,266.60 L244.8,267.40 L248.8,268.20 L252.8,269.01 L256.8,269.84 L260.8,270.68 L264.8,271.52 L268.8,272.38 L272.8,273.25 L276.8,274.13 L280.8,275.02 L284.8,275.93 L288.8,276.84 L292.8,277.76 L296.8,278.70 L300.8,279.65 L304.8,280.60 L308.8,281.57 L312.8,282.55 L316.8,283.54 L320.8,284.54 L324.8,285.56 L328.8,286.58 L332.8,287.61 L336.8,288.66 L340.8,289.71 L344.8,290.78 L348.8,291.86 L352.8,292.95 L356.8,294.05 L360.8,295.16 L364.8,296.28 L368.8,297.41 L372.8,298.56 L373.3,298.70 M164.8,233.47 L168.8,234.03 L172.8,234.61 L176.8,235.19 L180.8,235.78 L184.8,236.39 L188.8,237.00 L192.8,237.63 L196.8,238.26 L200.8,238.91 L204.8,239.56 L208.8,240.23 L212.8,240.91 L216.8,241.60 L220.8,242.30 L224.8,243.01 L228.8,243.73 L232.8,244.46 L236.8,245.20 L240.8,245.95 L244.8,246.71 L248.8,247.48 L252.8,248.27 L256.8,249.06 L260.8,249.86 L264.8,250.68 L268.8,251.51 L272.8,252.34 L276.8,253.19 L280.8,254.04 L284.8,254.91 L288.8,255.79 L292.8,256.68 L296.8,257.58 L300.8,258.49 L304.8,259.41 L308.8,260.34 L312.8,261.28 L316.8,262.23 L320.8,263.19 L324.8,264.17 L328.8,265.15 L332.8,266.14 L336.8,267.15 L340.8,268.16 L344.8,269.19 L348.8,270.22 L352.8,271.27 L356.8,272.33 L360.8,273.40 L364.8,274.47 L368.8,275.56 L372.8,276.66 L373.3,276.80 M164.8,208.17 L168.8,208.77 L172.8,209.38 L176.8,209.99 L180.8,210.63 L184.8,211.27 L188.8,211.92 L192.8,212.58 L196.8,213.26 L200.8,213.95 L204.8,214.64 L208.8,215.35 L212.8,216.07 L216.8,216.80 L220.8,217.55 L224.8,218.30 L228.8,219.06 L232.8,219.84 L236.8,220.63 L240.8,221.43 L244.8,222.24 L248.8,223.06 L252.8,223.89 L256.8,224.73 L260.8,225.59 L264.8,226.45 L268.8,227.33 L272.8,228.22 L276.8,229.11 L280.8,230.03 L284.8,230.95 L288.8,231.88 L292.8,232.82 L296.8,233.78 L300.8,234.74 L304.8,235.72 L308.8,236.71 L312.8,237.71 L316.8,238.72 L320.8,239.74 L324.8,240.78 L328.8,241.82 L332.8,242.88 L336.8,243.95 L340.8,245.02 L344.8,246.11 L348.8,247.21 L352.8,248.33 L356.8,249.45 L360.8,250.58 L364.8,251.73 L368.8,252.89 L372.8,254.05 L373.3,254.20 M164.8,178.77 L168.8,179.40 L172.8,180.04 L176.8,180.70 L180.8,181.37 L184.8,182.05 L188.8,182.74 L192.8,183.44 L196.8,184.16 L200.8,184.88 L204.8,185.62 L208.8,186.37 L212.8,187.13 L216.8,187.91 L220.8,188.69 L224.8,189.49 L228.8,190.30 L232.8,191.12 L236.8,191.96 L240.8,192.80 L244.8,193.66 L248.8,194.53 L252.8,195.41 L256.8,196.30 L260.8,197.21 L264.8,198.12 L268.8,199.05 L272.8,199.99 L276.8,200.94 L280.8,201.91 L284.8,202.88 L288.8,203.87 L292.8,204.87 L296.8,205.88 L300.8,206.90 L304.8,207.94 L308.8,208.98 L312.8,210.04 L316.8,211.11 L320.8,212.20 L324.8,213.29 L328.8,214.40 L332.8,215.51 L336.8,216.64 L340.8,217.79 L344.8,218.94 L348.8,220.10 L352.8,221.28 L356.8,222.47 L360.8,223.67 L364.8,224.88 L368.8,226.11 L372.8,227.34 L373.3,227.50" stroke="#d6f7f7" stroke-width="3.6" fill="none" opacity="0.7"/>
<path d="M164.8,783.20 L168.8,783.21 L172.8,783.22 L176.8,783.23 L180.8,783.24 L184.8,783.25 L188.8,783.26 L192.8,783.28 L196.8,783.29 L200.8,783.30 L204.8,783.31 L208.8,783.32 L212.8,783.34 L216.8,783.35 L220.8,783.36 L224.8,783.38 L228.8,783.39 L232.8,783.40 L236.8,783.42 L240.8,783.43 L244.8,783.44 L248.8,783.46 L252.8,783.47 L256.8,783.49 L260.8,783.50 L264.8,783.52 L268.8,783.53 L272.8,783.55 L276.8,783.56 L280.8,783.58 L284.8,783.60 L288.8,783.61 L292.8,783.63 L296.8,783.64 L300.8,783.66 L304.8,783.68 L308.8,783.70 L312.8,783.71 L316.8,783.73 L320.8,783.75 L324.8,783.77 L328.8,783.78 L332.8,783.80 L336.8,783.82 L340.8,783.84 L344.8,783.86 L348.8,783.88 L352.8,783.90 L356.8,783.92 L360.8,783.94 L364.8,783.96 L368.8,783.98 L372.8,784.00 L373.3,784.00 M164.8,755.30 L168.8,755.35 L172.8,755.39 L176.8,755.44 L180.8,755.50 L184.8,755.55 L188.8,755.60 L192.8,755.65 L196.8,755.71 L200.8,755.76 L204.8,755.82 L208.8,755.88 L212.8,755.93 L216.8,755.99 L220.8,756.05 L224.8,756.11 L228.8,756.17 L232.8,756.24 L236.8,756.30 L240.8,756.36 L244.8,756.43 L248.8,756.49 L252.8,756.56 L256.8,756.63 L260.8,756.70 L264.8,756.77 L268.8,756.84 L272.8,756.91 L276.8,756.98 L280.8,757.06 L284.8,757.13 L288.8,757.20 L292.8,757.28 L296.8,757.36 L300.8,757.44 L304.8,757.51 L308.8,757.59 L312.8,757.67 L316.8,757.76 L320.8,757.84 L324.8,757.92 L328.8,758.00 L332.8,758.09 L336.8,758.18 L340.8,758.26 L344.8,758.35 L348.8,758.44 L352.8,758.53 L356.8,758.62 L360.8,758.71 L364.8,758.80 L368.8,758.89 L372.8,758.99 L373.3,759.00 M164.8,733.20 L168.8,733.27 L172.8,733.34 L176.8,733.41 L180.8,733.48 L184.8,733.55 L188.8,733.63 L192.8,733.71 L196.8,733.78 L200.8,733.86 L204.8,733.94 L208.8,734.02 L212.8,734.11 L216.8,734.19 L220.8,734.28 L224.8,734.36 L228.8,734.45 L232.8,734.54 L236.8,734.63 L240.8,734.72 L244.8,734.82 L248.8,734.91 L252.8,735.01 L256.8,735.10 L260.8,735.20 L264.8,735.30 L268.8,735.40 L272.8,735.51 L276.8,735.61 L280.8,735.71 L284.8,735.82 L288.8,735.93 L292.8,736.04 L296.8,736.15 L300.8,736.26 L304.8,736.37 L308.8,736.48 L312.8,736.60 L316.8,736.72 L320.8,736.83 L324.8,736.95 L328.8,737.07 L332.8,737.20 L336.8,737.32 L340.8,737.44 L344.8,737.57 L348.8,737.70 L352.8,737.82 L356.8,737.95 L360.8,738.08 L364.8,738.22 L368.8,738.35 L372.8,738.48 L373.3,738.50 M164.8,708.49 L168.8,708.62 L172.8,708.74 L176.8,708.87 L180.8,709.00 L184.8,709.13 L188.8,709.27 L192.8,709.41 L196.8,709.54 L200.8,709.69 L204.8,709.83 L208.8,709.98 L212.8,710.13 L216.8,710.28 L220.8,710.43 L224.8,710.59 L228.8,710.74 L232.8,710.90 L236.8,711.07 L240.8,711.23 L244.8,711.40 L248.8,711.57 L252.8,711.74 L256.8,711.91 L260.8,712.09 L264.8,712.27 L268.8,712.45 L272.8,712.63 L276.8,712.82 L280.8,713.01 L284.8,713.20 L288.8,713.39 L292.8,713.59 L296.8,713.78 L300.8,713.98 L304.8,714.18 L308.8,714.39 L312.8,714.59 L316.8,714.80 L320.8,715.01 L324.8,715.23 L328.8,715.44 L332.8,715.66 L336.8,715.88 L340.8,716.10 L344.8,716.33 L348.8,716.56 L352.8,716.79 L356.8,717.02 L360.8,717.25 L364.8,717.49 L368.8,717.73 L372.8,717.97 L373.3,718.00 M164.8,686.09 L168.8,686.22 L172.8,686.34 L176.8,686.47 L180.8,686.60 L184.8,686.73 L188.8,686.86 L192.8,687.00 L196.8,687.13 L200.8,687.27 L204.8,687.42 L208.8,687.56 L212.8,687.71 L216.8,687.86 L220.8,688.01 L224.8,688.16 L228.8,688.32 L232.8,688.48 L236.8,688.64 L240.8,688.80 L244.8,688.97 L248.8,689.14 L252.8,689.31 L256.8,689.48 L260.8,689.65 L264.8,689.83 L268.8,690.01 L272.8,690.19 L276.8,690.37 L280.8,690.56 L284.8,690.75 L288.8,690.94 L292.8,691.13 L296.8,691.33 L300.8,691.52 L304.8,691.72 L308.8,691.93 L312.8,692.13 L316.8,692.34 L320.8,692.55 L324.8,692.76 L328.8,692.97 L332.8,693.19 L336.8,693.40 L340.8,693.62 L344.8,693.85 L348.8,694.07 L352.8,694.30 L356.8,694.53 L360.8,694.76 L364.8,695.00 L368.8,695.23 L372.8,695.47 L373.3,695.50 M164.8,661.39 L168.8,661.54 L172.8,661.68 L176.8,661.83 L180.8,661.99 L184.8,662.14 L188.8,662.30 L192.8,662.46 L196.8,662.62 L200.8,662.79 L204.8,662.95 L208.8,663.13 L212.8,663.30 L216.8,663.48 L220.8,663.66 L224.8,663.84 L228.8,664.02 L232.8,664.21 L236.8,664.40 L240.8,664.59 L244.8,664.79 L248.8,664.98 L252.8,665.19 L256.8,665.39 L260.8,665.60 L264.8,665.80 L268.8,666.02 L272.8,666.23 L276.8,666.45 L280.8,666.67 L284.8,666.89 L288.8,667.11 L292.8,667.34 L296.8,667.57 L300.8,667.81 L304.8,668.04 L308.8,668.28 L312.8,668.52 L316.8,668.77 L320.8,669.01 L324.8,669.26 L328.8,669.51 L332.8,669.77 L336.8,670.03 L340.8,670.29 L344.8,670.55 L348.8,670.81 L352.8,671.08 L356.8,671.35 L360.8,671.63 L364.8,671.90 L368.8,672.18 L372.8,672.46 L373.3,672.50 M164.8,634.09 L168.8,634.29 L172.8,634.49 L176.8,634.70 L180.8,634.91 L184.8,635.13 L188.8,635.35 L192.8,635.57 L196.8,635.79 L200.8,636.02 L204.8,636.26 L208.8,636.49 L212.8,636.74 L216.8,636.98 L220.8,637.23 L224.8,637.48 L228.8,637.74 L232.8,638.00 L236.8,638.26 L240.8,638.53 L244.8,638.80 L248.8,639.07 L252.8,639.35 L256.8,639.63 L260.8,639.92 L264.8,640.21 L268.8,640.50 L272.8,640.80 L276.8,641.10 L280.8,641.41 L284.8,641.72 L288.8,642.03 L292.8,642.34 L296.8,642.66 L300.8,642.99 L304.8,643.31 L308.8,643.65 L312.8,643.98 L316.8,644.32 L320.8,644.66 L324.8,645.01 L328.8,645.36 L332.8,645.71 L336.8,646.07 L340.8,646.43 L344.8,646.79 L348.8,647.16 L352.8,647.53 L356.8,647.91 L360.8,648.29 L364.8,648.67 L368.8,649.06 L372.8,649.45 L373.3,649.50 M164.8,606.29 L168.8,606.54 L172.8,606.79 L176.8,607.05 L180.8,607.31 L184.8,607.58 L188.8,607.85 L192.8,608.13 L196.8,608.41 L200.8,608.70 L204.8,608.99 L208.8,609.29 L212.8,609.59 L216.8,609.89 L220.8,610.20 L224.8,610.52 L228.8,610.83 L232.8,611.16 L236.8,611.49 L240.8,611.82 L244.8,612.16 L248.8,612.50 L252.8,612.85 L256.8,613.20 L260.8,613.56 L264.8,613.92 L268.8,614.28 L272.8,614.65 L276.8,615.03 L280.8,615.41 L284.8,615.79 L288.8,616.18 L292.8,616.58 L296.8,616.98 L300.8,617.38 L304.8,617.79 L308.8,618.20 L312.8,618.62 L316.8,619.04 L320.8,619.47 L324.8,619.90 L328.8,620.33 L332.8,620.77 L336.8,621.22 L340.8,621.67 L344.8,622.12 L348.8,622.58 L352.8,623.05 L356.8,623.52 L360.8,623.99 L364.8,624.47 L368.8,624.95 L372.8,625.44 L373.3,625.50 M164.8,583.99 L168.8,584.25 L172.8,584.51 L176.8,584.78 L180.8,585.05 L184.8,585.33 L188.8,585.62 L192.8,585.91 L196.8,586.20 L200.8,586.50 L204.8,586.80 L208.8,587.11 L212.8,587.42 L216.8,587.74 L220.8,588.06 L224.8,588.39 L228.8,588.72 L232.8,589.06 L236.8,589.40 L240.8,589.75 L244.8,590.10 L248.8,590.46 L252.8,590.82 L256.8,591.19 L260.8,591.56 L264.8,591.94 L268.8,592.32 L272.8,592.70 L276.8,593.09 L280.8,593.49 L284.8,593.89 L288.8,594.30 L292.8,594.71 L296.8,595.12 L300.8,595.54 L304.8,595.97 L308.8,596.40 L312.8,596.83 L316.8,597.27 L320.8,597.71 L324.8,598.16 L328.8,598.62 L332.8,599.08 L336.8,599.54 L340.8,600.01 L344.8,600.48 L348.8,600.96 L352.8,601.45 L356.8,601.93 L360.8,602.43 L364.8,602.93 L368.8,603.43 L372.8,603.94 L373.3,604.00 M164.8,562.19 L168.8,562.46 L172.8,562.73 L176.8,563.01 L180.8,563.30 L184.8,563.59 L188.8,563.88 L192.8,564.18 L196.8,564.49 L200.8,564.80 L204.8,565.11 L208.8,565.43 L212.8,565.76 L216.8,566.09 L220.8,566.43 L224.8,566.77 L228.8,567.11 L232.8,567.46 L236.8,567.82 L240.8,568.18 L244.8,568.55 L248.8,568.92 L252.8,569.29 L256.8,569.67 L260.8,570.06 L264.8,570.45 L268.8,570.85 L272.8,571.25 L276.8,571.66 L280.8,572.07 L284.8,572.49 L288.8,572.91 L292.8,573.33 L296.8,573.77 L300.8,574.20 L304.8,574.64 L308.8,575.09 L312.8,575.54 L316.8,576.00 L320.8,576.46 L324.8,576.93 L328.8,577.40 L332.8,577.88 L336.8,578.36 L340.8,578.85 L344.8,579.34 L348.8,579.84 L352.8,580.34 L356.8,580.85 L360.8,581.36 L364.8,581.88 L368.8,582.41 L372.8,582.93 L373.3,583.00 M164.8,536.99 L168.8,537.24 L172.8,537.49 L176.8,537.75 L180.8,538.01 L184.8,538.28 L188.8,538.55 L192.8,538.83 L196.8,539.11 L200.8,539.40 L204.8,539.69 L208.8,539.99 L212.8,540.29 L216.8,540.59 L220.8,540.90 L224.8,541.22 L228.8,541.53 L232.8,541.86 L236.8,542.19 L240.8,542.52 L244.8,542.86 L248.8,543.20 L252.8,543.55 L256.8,543.90 L260.8,544.26 L264.8,544.62 L268.8,544.98 L272.8,545.35 L276.8,545.73 L280.8,546.11 L284.8,546.49 L288.8,546.88 L292.8,547.28 L296.8,547.68 L300.8,548.08 L304.8,548.49 L308.8,548.90 L312.8,549.32 L316.8,549.74 L320.8,550.17 L324.8,550.60 L328.8,551.03 L332.8,551.47 L336.8,551.92 L340.8,552.37 L344.8,552.82 L348.8,553.28 L352.8,553.75 L356.8,554.22 L360.8,554.69 L364.8,555.17 L368.8,555.65 L372.8,556.14 L373.3,556.20 M164.8,511.49 L168.8,511.76 L172.8,512.04 L176.8,512.32 L180.8,512.61 L184.8,512.91 L188.8,513.21 L192.8,513.51 L196.8,513.82 L200.8,514.14 L204.8,514.46 L208.8,514.78 L212.8,515.11 L216.8,515.45 L220.8,515.79 L224.8,516.13 L228.8,516.48 L232.8,516.84 L236.8,517.20 L240.8,517.57 L244.8,517.94 L248.8,518.31 L252.8,518.70 L256.8,519.08 L260.8,519.47 L264.8,519.87 L268.8,520.27 L272.8,520.68 L276.8,521.09 L280.8,521.51 L284.8,521.93 L288.8,522.36 L292.8,522.79 L296.8,523.23 L300.8,523.68 L304.8,524.12 L308.8,524.58 L312.8,525.04 L316.8,525.50 L320.8,525.97 L324.8,526.44 L328.8,526.92 L332.8,527.41 L336.8,527.90 L340.8,528.39 L344.8,528.89 L348.8,529.40 L352.8,529.91 L356.8,530.42 L360.8,530.94 L364.8,531.47 L368.8,532.00 L372.8,532.53 L373.3,532.60 M164.8,485.89 L168.8,486.18 L172.8,486.49 L176.8,486.79 L180.8,487.11 L184.8,487.43 L188.8,487.75 L192.8,488.08 L196.8,488.42 L200.8,488.76 L204.8,489.11 L208.8,489.46 L212.8,489.82 L216.8,490.18 L220.8,490.55 L224.8,490.93 L228.8,491.31 L232.8,491.69 L236.8,492.09 L240.8,492.48 L244.8,492.89 L248.8,493.30 L252.8,493.71 L256.8,494.13 L260.8,494.55 L264.8,494.99 L268.8,495.42 L272.8,495.86 L276.8,496.31 L280.8,496.77 L284.8,497.22 L288.8,497.69 L292.8,498.16 L296.8,498.63 L300.8,499.11 L304.8,499.60 L308.8,500.09 L312.8,500.59 L316.8,501.09 L320.8,501.60 L324.8,502.12 L328.8,502.64 L332.8,503.16 L336.8,503.70 L340.8,504.23 L344.8,504.77 L348.8,505.32 L352.8,505.88 L356.8,506.43 L360.8,507.00 L364.8,507.57 L368.8,508.15 L372.8,508.73 L373.3,508.80 M164.8,457.48 L168.8,457.86 L172.8,458.24 L176.8,458.63 L180.8,459.03 L184.8,459.43 L188.8,459.84 L192.8,460.26 L196.8,460.69 L200.8,461.12 L204.8,461.56 L208.8,462.01 L212.8,462.46 L216.8,462.92 L220.8,463.39 L224.8,463.87 L228.8,464.35 L232.8,464.84 L236.8,465.33 L240.8,465.84 L244.8,466.35 L248.8,466.87 L252.8,467.39 L256.8,467.92 L260.8,468.46 L264.8,469.01 L268.8,469.56 L272.8,470.12 L276.8,470.69 L280.8,471.26 L284.8,471.84 L288.8,472.43 L292.8,473.02 L296.8,473.63 L300.8,474.23 L304.8,474.85 L308.8,475.47 L312.8,476.10 L316.8,476.74 L320.8,477.39 L324.8,478.04 L328.8,478.70 L332.8,479.36 L336.8,480.04 L340.8,480.72 L344.8,481.40 L348.8,482.10 L352.8,482.80 L356.8,483.50 L360.8,484.22 L364.8,484.94 L368.8,485.67 L372.8,486.41 L373.3,486.50 M164.8,433.48 L168.8,433.86 L172.8,434.24 L176.8,434.63 L180.8,435.03 L184.8,435.43 L188.8,435.84 L192.8,436.26 L196.8,436.69 L200.8,437.12 L204.8,437.56 L208.8,438.01 L212.8,438.46 L216.8,438.92 L220.8,439.39 L224.8,439.87 L228.8,440.35 L232.8,440.84 L236.8,441.33 L240.8,441.84 L244.8,442.35 L248.8,442.87 L252.8,443.39 L256.8,443.92 L260.8,444.46 L264.8,445.01 L268.8,445.56 L272.8,446.12 L276.8,446.69 L280.8,447.26 L284.8,447.84 L288.8,448.43 L292.8,449.02 L296.8,449.63 L300.8,450.23 L304.8,450.85 L308.8,451.47 L312.8,452.10 L316.8,452.74 L320.8,453.39 L324.8,454.04 L328.8,454.70 L332.8,455.36 L336.8,456.04 L340.8,456.72 L344.8,457.40 L348.8,458.10 L352.8,458.80 L356.8,459.50 L360.8,460.22 L364.8,460.94 L368.8,461.67 L372.8,462.41 L373.3,462.50 M164.8,405.48 L168.8,405.90 L172.8,406.33 L176.8,406.77 L180.8,407.21 L184.8,407.67 L188.8,408.13 L192.8,408.60 L196.8,409.07 L200.8,409.56 L204.8,410.05 L208.8,410.55 L212.8,411.06 L216.8,411.58 L220.8,412.10 L224.8,412.64 L228.8,413.18 L232.8,413.72 L236.8,414.28 L240.8,414.84 L244.8,415.42 L248.8,416.00 L252.8,416.58 L256.8,417.18 L260.8,417.78 L264.8,418.39 L268.8,419.01 L272.8,419.64 L276.8,420.28 L280.8,420.92 L284.8,421.57 L288.8,422.23 L292.8,422.90 L296.8,423.57 L300.8,424.25 L304.8,424.95 L308.8,425.64 L312.8,426.35 L316.8,427.06 L320.8,427.79 L324.8,428.52 L328.8,429.26 L332.8,430.00 L336.8,430.76 L340.8,431.52 L344.8,432.29 L348.8,433.06 L352.8,433.85 L356.8,434.64 L360.8,435.44 L364.8,436.25 L368.8,437.07 L372.8,437.90 L373.3,438.00 M164.8,380.18 L168.8,380.67 L172.8,381.17 L176.8,381.67 L180.8,382.19 L184.8,382.72 L188.8,383.26 L192.8,383.80 L196.8,384.36 L200.8,384.92 L204.8,385.49 L208.8,386.08 L212.8,386.67 L216.8,387.27 L220.8,387.88 L224.8,388.50 L228.8,389.13 L232.8,389.76 L236.8,390.41 L240.8,391.07 L244.8,391.73 L248.8,392.41 L252.8,393.09 L256.8,393.78 L260.8,394.49 L264.8,395.20 L268.8,395.92 L272.8,396.65 L276.8,397.39 L280.8,398.13 L284.8,398.89 L288.8,399.66 L292.8,400.43 L296.8,401.22 L300.8,402.01 L304.8,402.82 L308.8,403.63 L312.8,404.45 L316.8,405.28 L320.8,406.12 L324.8,406.97 L328.8,407.83 L332.8,408.70 L336.8,409.57 L340.8,410.46 L344.8,411.35 L348.8,412.26 L352.8,413.17 L356.8,414.10 L360.8,415.03 L364.8,415.97 L368.8,416.92 L372.8,417.88 L373.3,418.00 M164.8,353.78 L168.8,354.26 L172.8,354.75 L176.8,355.24 L180.8,355.75 L184.8,356.27 L188.8,356.79 L192.8,357.33 L196.8,357.87 L200.8,358.42 L204.8,358.98 L208.8,359.55 L212.8,360.13 L216.8,360.72 L220.8,361.32 L224.8,361.92 L228.8,362.54 L232.8,363.16 L236.8,363.80 L240.8,364.44 L244.8,365.09 L248.8,365.75 L252.8,366.42 L256.8,367.10 L260.8,367.78 L264.8,368.48 L268.8,369.19 L272.8,369.90 L276.8,370.62 L280.8,371.36 L284.8,372.10 L288.8,372.85 L292.8,373.61 L296.8,374.37 L300.8,375.15 L304.8,375.94 L308.8,376.73 L312.8,377.54 L316.8,378.35 L320.8,379.17 L324.8,380.00 L328.8,380.84 L332.8,381.69 L336.8,382.55 L340.8,383.42 L344.8,384.30 L348.8,385.18 L352.8,386.08 L356.8,386.98 L360.8,387.89 L364.8,388.81 L368.8,389.74 L372.8,390.68 L373.3,390.80 M164.8,332.28 L168.8,332.71 L172.8,333.15 L176.8,333.60 L180.8,334.05 L184.8,334.51 L188.8,334.98 L192.8,335.46 L196.8,335.95 L200.8,336.45 L204.8,336.95 L208.8,337.46 L212.8,337.98 L216.8,338.51 L220.8,339.05 L224.8,339.59 L228.8,340.14 L232.8,340.70 L236.8,341.27 L240.8,341.85 L244.8,342.43 L248.8,343.02 L252.8,343.62 L256.8,344.23 L260.8,344.85 L264.8,345.47 L268.8,346.11 L272.8,346.75 L276.8,347.40 L280.8,348.05 L284.8,348.72 L288.8,349.39 L292.8,350.07 L296.8,350.76 L300.8,351.46 L304.8,352.16 L308.8,352.88 L312.8,353.60 L316.8,354.33 L320.8,355.07 L324.8,355.81 L328.8,356.57 L332.8,357.33 L336.8,358.10 L340.8,358.88 L344.8,359.66 L348.8,360.46 L352.8,361.26 L356.8,362.07 L360.8,362.89 L364.8,363.72 L368.8,364.55 L372.8,365.39 L373.3,365.50 M164.8,310.17 L168.8,310.69 L172.8,311.22 L176.8,311.75 L180.8,312.30 L184.8,312.85 L188.8,313.42 L192.8,313.99 L196.8,314.58 L200.8,315.17 L204.8,315.77 L208.8,316.39 L212.8,317.01 L216.8,317.64 L220.8,318.29 L224.8,318.94 L228.8,319.60 L232.8,320.27 L236.8,320.95 L240.8,321.64 L244.8,322.34 L248.8,323.05 L252.8,323.77 L256.8,324.50 L260.8,325.24 L264.8,325.99 L268.8,326.75 L272.8,327.52 L276.8,328.30 L280.8,329.08 L284.8,329.88 L288.8,330.69 L292.8,331.50 L296.8,332.33 L300.8,333.17 L304.8,334.01 L308.8,334.87 L312.8,335.73 L316.8,336.61 L320.8,337.49 L324.8,338.39 L328.8,339.29 L332.8,340.20 L336.8,341.13 L340.8,342.06 L344.8,343.00 L348.8,343.96 L352.8,344.92 L356.8,345.89 L360.8,346.87 L364.8,347.86 L368.8,348.86 L372.8,349.87 L373.3,350.00 M164.8,283.53 L168.8,284.15 L172.8,284.77 L176.8,285.41 L180.8,286.06 L184.8,286.72 L188.8,287.40 L192.8,288.08 L196.8,288.78 L200.8,289.49 L204.8,290.20 L208.8,290.94 L212.8,291.68 L216.8,292.43 L220.8,293.20 L224.8,293.98 L228.8,294.76 L232.8,295.56 L236.8,296.38 L240.8,297.20 L244.8,298.03 L248.8,298.88 L252.8,299.74 L256.8,300.61 L260.8,301.49 L264.8,302.38 L268.8,303.29 L272.8,304.20 L276.8,305.13 L280.8,306.07 L284.8,307.02 L288.8,307.98 L292.8,308.95 L296.8,309.94 L300.8,310.94 L304.8,311.94 L308.8,312.96 L312.8,313.99 L316.8,315.04 L320.8,316.09 L324.8,317.16 L328.8,318.24 L332.8,319.32 L336.8,320.42 L340.8,321.54 L344.8,322.66 L348.8,323.80 L352.8,324.94 L356.8,326.10 L360.8,327.27 L364.8,328.45 L368.8,329.64 L372.8,330.85 L373.3,331.00 M164.8,253.62 L168.8,254.21 L172.8,254.80 L176.8,255.41 L180.8,256.03 L184.8,256.65 L188.8,257.29 L192.8,257.94 L196.8,258.60 L200.8,259.28 L204.8,259.96 L208.8,260.65 L212.8,261.36 L216.8,262.08 L220.8,262.80 L224.8,263.54 L228.8,264.29 L232.8,265.05 L236.8,265.82 L240.8,266.60 L244.8,267.40 L248.8,268.20 L252.8,269.01 L256.8,269.84 L260.8,270.68 L264.8,271.52 L268.8,272.38 L272.8,273.25 L276.8,274.13 L280.8,275.02 L284.8,275.93 L288.8,276.84 L292.8,277.76 L296.8,278.70 L300.8,279.65 L304.8,280.60 L308.8,281.57 L312.8,282.55 L316.8,283.54 L320.8,284.54 L324.8,285.56 L328.8,286.58 L332.8,287.61 L336.8,288.66 L340.8,289.71 L344.8,290.78 L348.8,291.86 L352.8,292.95 L356.8,294.05 L360.8,295.16 L364.8,296.28 L368.8,297.41 L372.8,298.56 L373.3,298.70 M164.8,233.47 L168.8,234.03 L172.8,234.61 L176.8,235.19 L180.8,235.78 L184.8,236.39 L188.8,237.00 L192.8,237.63 L196.8,238.26 L200.8,238.91 L204.8,239.56 L208.8,240.23 L212.8,240.91 L216.8,241.60 L220.8,242.30 L224.8,243.01 L228.8,243.73 L232.8,244.46 L236.8,245.20 L240.8,245.95 L244.8,246.71 L248.8,247.48 L252.8,248.27 L256.8,249.06 L260.8,249.86 L264.8,250.68 L268.8,251.51 L272.8,252.34 L276.8,253.19 L280.8,254.04 L284.8,254.91 L288.8,255.79 L292.8,256.68 L296.8,257.58 L300.8,258.49 L304.8,259.41 L308.8,260.34 L312.8,261.28 L316.8,262.23 L320.8,263.19 L324.8,264.17 L328.8,265.15 L332.8,266.14 L336.8,267.15 L340.8,268.16 L344.8,269.19 L348.8,270.22 L352.8,271.27 L356.8,272.33 L360.8,273.40 L364.8,274.47 L368.8,275.56 L372.8,276.66 L373.3,276.80 M164.8,208.17 L168.8,208.77 L172.8,209.38 L176.8,209.99 L180.8,210.63 L184.8,211.27 L188.8,211.92 L192.8,212.58 L196.8,213.26 L200.8,213.95 L204.8,214.64 L208.8,215.35 L212.8,216.07 L216.8,216.80 L220.8,217.55 L224.8,218.30 L228.8,219.06 L232.8,219.84 L236.8,220.63 L240.8,221.43 L244.8,222.24 L248.8,223.06 L252.8,223.89 L256.8,224.73 L260.8,225.59 L264.8,226.45 L268.8,227.33 L272.8,228.22 L276.8,229.11 L280.8,230.03 L284.8,230.95 L288.8,231.88 L292.8,232.82 L296.8,233.78 L300.8,234.74 L304.8,235.72 L308.8,236.71 L312.8,237.71 L316.8,238.72 L320.8,239.74 L324.8,240.78 L328.8,241.82 L332.8,242.88 L336.8,243.95 L340.8,245.02 L344.8,246.11 L348.8,247.21 L352.8,248.33 L356.8,249.45 L360.8,250.58 L364.8,251.73 L368.8,252.89 L372.8,254.05 L373.3,254.20 M164.8,178.77 L168.8,179.40 L172.8,180.04 L176.8,180.70 L180.8,181.37 L184.8,182.05 L188.8,182.74 L192.8,183.44 L196.8,184.16 L200.8,184.88 L204.8,185.62 L208.8,186.37 L212.8,187.13 L216.8,187.91 L220.8,188.69 L224.8,189.49 L228.8,190.30 L232.8,191.12 L236.8,191.96 L240.8,192.80 L244.8,193.66 L248.8,194.53 L252.8,195.41 L256.8,196.30 L260.8,197.21 L264.8,198.12 L268.8,199.05 L272.8,199.99 L276.8,200.94 L280.8,201.91 L284.8,202.88 L288.8,203.87 L292.8,204.87 L296.8,205.88 L300.8,206.90 L304.8,207.94 L308.8,208.98 L312.8,210.04 L316.8,211.11 L320.8,212.20 L324.8,213.29 L328.8,214.40 L332.8,215.51 L336.8,216.64 L340.8,217.79 L344.8,218.94 L348.8,220.10 L352.8,221.28 L356.8,222.47 L360.8,223.67 L364.8,224.88 L368.8,226.11 L372.8,227.34 L373.3,227.50" stroke="#2f767b" stroke-width="1.4" fill="none"/>
<path d="M373.3,784.00 L377.3,784.19 L381.3,784.38 L385.3,784.57 L389.3,784.76 L393.3,784.95 L397.3,785.13 L401.3,785.32 L405.3,785.51 L409.3,785.70 L413.3,785.88 L417.3,786.07 L421.3,786.25 L425.3,786.44 L429.3,786.62 L433.3,786.81 L437.3,786.99 L441.3,787.18 L445.3,787.36 L449.3,787.54 L453.3,787.73 L457.3,787.91 L461.3,788.09 L465.3,788.27 L469.3,788.45 L473.3,788.64 L477.3,788.82 L481.3,789.00 L485.3,789.18 L489.3,789.36 L493.3,789.53 L497.3,789.71 L501.3,789.89 L505.3,790.07 L509.3,790.25 L513.3,790.42 L517.3,790.60 L521.3,790.77 L525.3,790.95 L529.3,791.12 L533.3,791.30 L537.3,791.47 L541.3,791.65 L545.3,791.82 L549.3,791.99 L553.3,792.16 L557.3,792.34 L561.3,792.51 L565.3,792.68 L569.3,792.85 L573.3,793.02 L577.3,793.19 L581.3,793.36 L585.3,793.53 L589.3,793.70 L593.3,793.87 L597.3,794.04 L601.3,794.21 L605.3,794.38 L609.3,794.56 L613.3,794.73 L617.3,794.90 L621.3,795.07 L625.3,795.24 L629.3,795.41 L633.3,795.58 L637.3,795.75 L641.3,795.91 L645.3,796.08 L649.3,796.24 L653.3,796.41 L657.3,796.57 L661.3,796.73 L665.3,796.89 L669.3,797.05 L673.3,797.22 L677.3,797.38 L681.3,797.54 L685.3,797.70 L689.3,797.86 L693.3,798.02 L697.3,798.18 L701.3,798.34 L705.3,798.51 L709.3,798.67 L713.3,798.84 L717.3,799.01 L721.3,799.18 L725.3,799.35 L729.3,799.52 L733.3,799.69 L737.3,799.87 L741.3,800.05 L745.3,800.23 L749.3,800.42 L753.3,800.60 L757.3,800.79 L761.3,800.99 L765.3,801.19 L769.3,801.40 L773.3,801.61 L777.3,801.83 L781.3,802.06 L785.3,802.29 L789.3,802.52 L793.3,802.76 L797.3,803.00 L801.3,803.23 L805.3,803.47 L809.3,803.71 L813.3,803.94 L817.3,804.17 L821.3,804.40 L825.3,804.62 L829.3,804.84 L833.3,805.05 L837.3,805.26 L841.3,805.45 L845.3,805.64 L849.3,805.82 L853.3,806.00 L857.3,806.18 L861.3,806.35 L865.3,806.51 L869.3,806.68 L873.3,806.84 L877.3,806.99 L881.3,807.14 L885.3,807.29 L889.3,807.43 L893.3,807.56 L897.3,807.69 L901.0,807.80 M373.3,759.00 L377.3,759.28 L381.3,759.56 L385.3,759.84 L389.3,760.12 L393.3,760.41 L397.3,760.69 L401.3,760.97 L405.3,761.25 L409.3,761.53 L413.3,761.81 L417.3,762.09 L421.3,762.37 L425.3,762.65 L429.3,762.93 L433.3,763.22 L437.3,763.50 L441.3,763.78 L445.3,764.06 L449.3,764.34 L453.3,764.62 L457.3,764.90 L461.3,765.18 L465.3,765.46 L469.3,765.74 L473.3,766.02 L477.3,766.30 L481.3,766.58 L485.3,766.86 L489.3,767.14 L493.3,767.43 L497.3,767.71 L501.3,767.99 L505.3,768.27 L509.3,768.55 L513.3,768.83 L517.3,769.11 L521.3,769.38 L525.3,769.66 L529.3,769.94 L533.3,770.22 L537.3,770.50 L541.3,770.78 L545.3,771.06 L549.3,771.33 L553.3,771.61 L557.3,771.89 L561.3,772.17 L565.3,772.45 L569.3,772.73 L573.3,773.00 L577.3,773.28 L581.3,773.56 L585.3,773.84 L589.3,774.12 L593.3,774.40 L597.3,774.68 L601.3,774.96 L605.3,775.24 L609.3,775.53 L613.3,775.81 L617.3,776.09 L621.3,776.37 L625.3,776.66 L629.3,776.94 L633.3,777.23 L637.3,777.51 L641.3,777.79 L645.3,778.08 L649.3,778.36 L653.3,778.64 L657.3,778.91 L661.3,779.19 L665.3,779.47 L669.3,779.75 L673.3,780.03 L677.3,780.31 L681.3,780.59 L685.3,780.86 L689.3,781.15 L693.3,781.43 L697.3,781.71 L701.3,781.99 L705.3,782.28 L709.3,782.57 L713.3,782.86 L717.3,783.15 L721.3,783.44 L725.3,783.74 L729.3,784.04 L733.3,784.34 L737.3,784.64 L741.3,784.95 L745.3,785.26 L749.3,785.58 L753.3,785.90 L757.3,786.22 L761.3,786.55 L765.3,786.88 L769.3,787.23 L773.3,787.58 L777.3,787.94 L781.3,788.31 L785.3,788.68 L789.3,789.05 L793.3,789.43 L797.3,789.81 L801.3,790.19 L805.3,790.58 L809.3,790.96 L813.3,791.34 L817.3,791.73 L821.3,792.10 L825.3,792.48 L829.3,792.85 L833.3,793.22 L837.3,793.58 L841.3,793.93 L845.3,794.28 L849.3,794.64 L853.3,795.01 L857.3,795.39 L861.3,795.76 L865.3,796.13 L869.3,796.49 L873.3,796.83 L877.3,797.14 L881.3,797.41 L885.3,797.65 L889.3,797.83 L893.3,797.99 L897.3,798.11 L901.0,798.20 M373.3,738.50 L377.3,738.86 L381.3,739.21 L385.3,739.57 L389.3,739.92 L393.3,740.28 L397.3,740.63 L401.3,740.98 L405.3,741.33 L409.3,741.68 L413.3,742.03 L417.3,742.38 L421.3,742.73 L425.3,743.08 L429.3,743.42 L433.3,743.77 L437.3,744.11 L441.3,744.45 L445.3,744.80 L449.3,745.14 L453.3,745.48 L457.3,745.82 L461.3,746.15 L465.3,746.49 L469.3,746.83 L473.3,747.16 L477.3,747.50 L481.3,747.83 L485.3,748.16 L489.3,748.50 L493.3,748.83 L497.3,749.16 L501.3,749.48 L505.3,749.81 L509.3,750.13 L513.3,750.45 L517.3,750.77 L521.3,751.08 L525.3,751.39 L529.3,751.70 L533.3,752.00 L537.3,752.31 L541.3,752.61 L545.3,752.91 L549.3,753.21 L553.3,753.51 L557.3,753.81 L561.3,754.11 L565.3,754.41 L569.3,754.71 L573.3,755.02 L577.3,755.32 L581.3,755.62 L585.3,755.93 L589.3,756.24 L593.3,756.55 L597.3,756.86 L601.3,757.18 L605.3,757.50 L609.3,757.82 L613.3,758.15 L617.3,758.48 L621.3,758.82 L625.3,759.16 L629.3,759.51 L633.3,759.86 L637.3,760.21 L641.3,760.57 L645.3,760.93 L649.3,761.30 L653.3,761.67 L657.3,762.04 L661.3,762.41 L665.3,762.79 L669.3,763.17 L673.3,763.56 L677.3,763.94 L681.3,764.33 L685.3,764.73 L689.3,765.12 L693.3,765.52 L697.3,765.92 L701.3,766.33 L705.3,766.73 L709.3,767.14 L713.3,767.56 L717.3,767.97 L721.3,768.39 L725.3,768.81 L729.3,769.23 L733.3,769.66 L737.3,770.08 L741.3,770.51 L745.3,770.95 L749.3,771.38 L753.3,771.82 L757.3,772.26 L761.3,772.70 L765.3,773.15 L769.3,773.60 L773.3,774.07 L777.3,774.54 L781.3,775.01 L785.3,775.49 L789.3,775.97 L793.3,776.46 L797.3,776.95 L801.3,777.45 L805.3,777.94 L809.3,778.44 L813.3,778.94 L817.3,779.44 L821.3,779.94 L825.3,780.44 L829.3,780.94 L833.3,781.43 L837.3,781.93 L841.3,782.42 L845.3,782.91 L849.3,783.38 L853.3,783.85 L857.3,784.30 L861.3,784.76 L865.3,785.22 L869.3,785.68 L873.3,786.16 L877.3,786.66 L881.3,787.18 L885.3,787.73 L889.3,788.32 L893.3,788.98 L897.3,789.71 L901.0,790.40 M373.3,718.00 L377.3,718.35 L381.3,718.69 L385.3,719.04 L389.3,719.39 L393.3,719.74 L397.3,720.09 L401.3,720.44 L405.3,720.79 L409.3,721.15 L413.3,721.50 L417.3,721.86 L421.3,722.21 L425.3,722.57 L429.3,722.92 L433.3,723.28 L437.3,723.64 L441.3,724.00 L445.3,724.36 L449.3,724.72 L453.3,725.08 L457.3,725.44 L461.3,725.81 L465.3,726.17 L469.3,726.54 L473.3,726.90 L477.3,727.27 L481.3,727.63 L485.3,728.00 L489.3,728.37 L493.3,728.74 L497.3,729.11 L501.3,729.48 L505.3,729.85 L509.3,730.22 L513.3,730.59 L517.3,730.96 L521.3,731.33 L525.3,731.70 L529.3,732.07 L533.3,732.44 L537.3,732.82 L541.3,733.19 L545.3,733.56 L549.3,733.93 L553.3,734.31 L557.3,734.68 L561.3,735.06 L565.3,735.44 L569.3,735.82 L573.3,736.20 L577.3,736.58 L581.3,736.97 L585.3,737.35 L589.3,737.74 L593.3,738.13 L597.3,738.52 L601.3,738.92 L605.3,739.32 L609.3,739.72 L613.3,740.12 L617.3,740.53 L621.3,740.94 L625.3,741.35 L629.3,741.77 L633.3,742.19 L637.3,742.61 L641.3,743.04 L645.3,743.46 L649.3,743.89 L653.3,744.32 L657.3,744.75 L661.3,745.19 L665.3,745.63 L669.3,746.07 L673.3,746.51 L677.3,746.95 L681.3,747.40 L685.3,747.85 L689.3,748.31 L693.3,748.76 L697.3,749.22 L701.3,749.68 L705.3,750.15 L709.3,750.62 L713.3,751.09 L717.3,751.57 L721.3,752.05 L725.3,752.53 L729.3,753.01 L733.3,753.50 L737.3,754.00 L741.3,754.49 L745.3,754.99 L749.3,755.50 L753.3,756.00 L757.3,756.52 L761.3,757.03 L765.3,757.55 L769.3,758.06 L773.3,758.58 L777.3,759.10 L781.3,759.62 L785.3,760.14 L789.3,760.67 L793.3,761.21 L797.3,761.75 L801.3,762.30 L805.3,762.86 L809.3,763.43 L813.3,764.01 L817.3,764.60 L821.3,765.21 L825.3,765.83 L829.3,766.46 L833.3,767.11 L837.3,767.77 L841.3,768.46 L845.3,769.16 L849.3,769.91 L853.3,770.70 L857.3,771.54 L861.3,772.40 L865.3,773.29 L869.3,774.21 L873.3,775.13 L877.3,776.05 L881.3,776.97 L885.3,777.88 L889.3,778.78 L893.3,779.67 L897.3,780.57 L901.0,781.40 M373.3,695.50 L377.3,695.80 L381.3,696.11 L385.3,696.41 L389.3,696.72 L393.3,697.04 L397.3,697.35 L401.3,697.67 L405.3,697.99 L409.3,698.32 L413.3,698.64 L417.3,698.97 L421.3,699.31 L425.3,699.64 L429.3,699.98 L433.3,700.32 L437.3,700.66 L441.3,701.01 L445.3,701.36 L449.3,701.71 L453.3,702.06 L457.3,702.42 L461.3,702.77 L465.3,703.13 L469.3,703.50 L473.3,703.86 L477.3,704.23 L481.3,704.60 L485.3,704.97 L489.3,705.35 L493.3,705.72 L497.3,706.10 L501.3,706.48 L505.3,706.86 L509.3,707.25 L513.3,707.63 L517.3,708.02 L521.3,708.41 L525.3,708.81 L529.3,709.20 L533.3,709.60 L537.3,710.00 L541.3,710.41 L545.3,710.81 L549.3,711.22 L553.3,711.64 L557.3,712.05 L561.3,712.47 L565.3,712.89 L569.3,713.32 L573.3,713.75 L577.3,714.19 L581.3,714.62 L585.3,715.07 L589.3,715.51 L593.3,715.96 L597.3,716.42 L601.3,716.88 L605.3,717.34 L609.3,717.81 L613.3,718.28 L617.3,718.76 L621.3,719.24 L625.3,719.73 L629.3,720.23 L633.3,720.73 L637.3,721.23 L641.3,721.74 L645.3,722.26 L649.3,722.79 L653.3,723.32 L657.3,723.86 L661.3,724.41 L665.3,724.96 L669.3,725.52 L673.3,726.08 L677.3,726.65 L681.3,727.23 L685.3,727.81 L689.3,728.40 L693.3,728.99 L697.3,729.59 L701.3,730.19 L705.3,730.80 L709.3,731.41 L713.3,732.03 L717.3,732.66 L721.3,733.28 L725.3,733.92 L729.3,734.55 L733.3,735.20 L737.3,735.84 L741.3,736.49 L745.3,737.15 L749.3,737.80 L753.3,738.47 L757.3,739.13 L761.3,739.80 L765.3,740.48 L769.3,741.16 L773.3,741.86 L777.3,742.56 L781.3,743.27 L785.3,743.99 L789.3,744.71 L793.3,745.44 L797.3,746.19 L801.3,746.93 L805.3,747.69 L809.3,748.46 L813.3,749.23 L817.3,750.01 L821.3,750.80 L825.3,751.59 L829.3,752.40 L833.3,753.21 L837.3,754.03 L841.3,754.85 L845.3,755.69 L849.3,756.54 L853.3,757.40 L857.3,758.28 L861.3,759.17 L865.3,760.07 L869.3,760.98 L873.3,761.91 L877.3,762.85 L881.3,763.80 L885.3,764.76 L889.3,765.72 L893.3,766.70 L897.3,767.68 L901.0,768.60 M373.3,672.50 L377.3,672.96 L381.3,673.42 L385.3,673.88 L389.3,674.35 L393.3,674.82 L397.3,675.29 L401.3,675.77 L405.3,676.24 L409.3,676.72 L413.3,677.21 L417.3,677.69 L421.3,678.18 L425.3,678.67 L429.3,679.17 L433.3,679.66 L437.3,680.16 L441.3,680.66 L445.3,681.17 L449.3,681.67 L453.3,682.18 L457.3,682.69 L461.3,683.21 L465.3,683.72 L469.3,684.24 L473.3,684.76 L477.3,685.28 L481.3,685.81 L485.3,686.34 L489.3,686.87 L493.3,687.40 L497.3,687.94 L501.3,688.47 L505.3,689.01 L509.3,689.56 L513.3,690.10 L517.3,690.65 L521.3,691.21 L525.3,691.77 L529.3,692.33 L533.3,692.89 L537.3,693.45 L541.3,694.02 L545.3,694.60 L549.3,695.17 L553.3,695.75 L557.3,696.33 L561.3,696.91 L565.3,697.50 L569.3,698.09 L573.3,698.68 L577.3,699.27 L581.3,699.87 L585.3,700.46 L589.3,701.06 L593.3,701.66 L597.3,702.27 L601.3,702.87 L605.3,703.48 L609.3,704.09 L613.3,704.70 L617.3,705.31 L621.3,705.93 L625.3,706.54 L629.3,707.16 L633.3,707.78 L637.3,708.40 L641.3,709.02 L645.3,709.65 L649.3,710.28 L653.3,710.91 L657.3,711.54 L661.3,712.18 L665.3,712.82 L669.3,713.46 L673.3,714.10 L677.3,714.75 L681.3,715.40 L685.3,716.05 L689.3,716.70 L693.3,717.36 L697.3,718.01 L701.3,718.67 L705.3,719.33 L709.3,720.00 L713.3,720.66 L717.3,721.33 L721.3,722.00 L725.3,722.67 L729.3,723.35 L733.3,724.02 L737.3,724.70 L741.3,725.38 L745.3,726.06 L749.3,726.75 L753.3,727.43 L757.3,728.12 L761.3,728.81 L765.3,729.50 L769.3,730.18 L773.3,730.86 L777.3,731.54 L781.3,732.22 L785.3,732.90 L789.3,733.58 L793.3,734.27 L797.3,734.96 L801.3,735.66 L805.3,736.36 L809.3,737.07 L813.3,737.79 L817.3,738.52 L821.3,739.26 L825.3,740.01 L829.3,740.78 L833.3,741.56 L837.3,742.35 L841.3,743.16 L845.3,743.99 L849.3,744.84 L853.3,745.71 L857.3,746.60 L861.3,747.51 L865.3,748.44 L869.3,749.38 L873.3,750.35 L877.3,751.33 L881.3,752.32 L885.3,753.33 L889.3,754.35 L893.3,755.38 L897.3,756.43 L901.0,757.40 M373.3,649.50 L377.3,650.06 L381.3,650.62 L385.3,651.19 L389.3,651.75 L393.3,652.32 L397.3,652.89 L401.3,653.47 L405.3,654.04 L409.3,654.62 L413.3,655.20 L417.3,655.78 L421.3,656.36 L425.3,656.95 L429.3,657.54 L433.3,658.13 L437.3,658.72 L441.3,659.31 L445.3,659.91 L449.3,660.51 L453.3,661.11 L457.3,661.71 L461.3,662.31 L465.3,662.92 L469.3,663.53 L473.3,664.14 L477.3,664.75 L481.3,665.37 L485.3,665.98 L489.3,666.60 L493.3,667.22 L497.3,667.84 L501.3,668.47 L505.3,669.10 L509.3,669.72 L513.3,670.35 L517.3,670.99 L521.3,671.62 L525.3,672.26 L529.3,672.90 L533.3,673.54 L537.3,674.19 L541.3,674.84 L545.3,675.48 L549.3,676.14 L553.3,676.79 L557.3,677.45 L561.3,678.10 L565.3,678.76 L569.3,679.43 L573.3,680.09 L577.3,680.76 L581.3,681.43 L585.3,682.10 L589.3,682.77 L593.3,683.45 L597.3,684.12 L601.3,684.80 L605.3,685.48 L609.3,686.17 L613.3,686.85 L617.3,687.54 L621.3,688.23 L625.3,688.92 L629.3,689.62 L633.3,690.31 L637.3,691.01 L641.3,691.71 L645.3,692.41 L649.3,693.11 L653.3,693.81 L657.3,694.51 L661.3,695.22 L665.3,695.93 L669.3,696.64 L673.3,697.35 L677.3,698.06 L681.3,698.78 L685.3,699.50 L689.3,700.22 L693.3,700.94 L697.3,701.67 L701.3,702.40 L705.3,703.14 L709.3,703.88 L713.3,704.62 L717.3,705.36 L721.3,706.11 L725.3,706.87 L729.3,707.63 L733.3,708.39 L737.3,709.15 L741.3,709.93 L745.3,710.70 L749.3,711.48 L753.3,712.27 L757.3,713.06 L761.3,713.86 L765.3,714.66 L769.3,715.47 L773.3,716.28 L777.3,717.10 L781.3,717.92 L785.3,718.75 L789.3,719.58 L793.3,720.42 L797.3,721.27 L801.3,722.12 L805.3,722.98 L809.3,723.85 L813.3,724.72 L817.3,725.60 L821.3,726.49 L825.3,727.39 L829.3,728.30 L833.3,729.21 L837.3,730.14 L841.3,731.07 L845.3,732.01 L849.3,732.97 L853.3,733.94 L857.3,734.92 L861.3,735.92 L865.3,736.93 L869.3,737.95 L873.3,738.98 L877.3,740.03 L881.3,741.08 L885.3,742.14 L889.3,743.22 L893.3,744.30 L897.3,745.39 L901.0,746.40 M373.3,625.50 L377.3,626.09 L381.3,626.68 L385.3,627.28 L389.3,627.88 L393.3,628.48 L397.3,629.09 L401.3,629.70 L405.3,630.31 L409.3,630.93 L413.3,631.55 L417.3,632.17 L421.3,632.79 L425.3,633.42 L429.3,634.06 L433.3,634.69 L437.3,635.33 L441.3,635.97 L445.3,636.62 L449.3,637.27 L453.3,637.92 L457.3,638.57 L461.3,639.23 L465.3,639.89 L469.3,640.55 L473.3,641.22 L477.3,641.89 L481.3,642.56 L485.3,643.24 L489.3,643.91 L493.3,644.60 L497.3,645.28 L501.3,645.97 L505.3,646.66 L509.3,647.35 L513.3,648.05 L517.3,648.75 L521.3,649.45 L525.3,650.16 L529.3,650.87 L533.3,651.59 L537.3,652.31 L541.3,653.03 L545.3,653.76 L549.3,654.49 L553.3,655.22 L557.3,655.96 L561.3,656.70 L565.3,657.44 L569.3,658.19 L573.3,658.94 L577.3,659.69 L581.3,660.45 L585.3,661.21 L589.3,661.97 L593.3,662.74 L597.3,663.50 L601.3,664.28 L605.3,665.05 L609.3,665.83 L613.3,666.61 L617.3,667.39 L621.3,668.18 L625.3,668.97 L629.3,669.76 L633.3,670.56 L637.3,671.36 L641.3,672.16 L645.3,672.97 L649.3,673.78 L653.3,674.59 L657.3,675.41 L661.3,676.23 L665.3,677.05 L669.3,677.88 L673.3,678.71 L677.3,679.55 L681.3,680.39 L685.3,681.23 L689.3,682.07 L693.3,682.92 L697.3,683.78 L701.3,684.63 L705.3,685.49 L709.3,686.36 L713.3,687.23 L717.3,688.10 L721.3,688.97 L725.3,689.85 L729.3,690.73 L733.3,691.62 L737.3,692.50 L741.3,693.40 L745.3,694.29 L749.3,695.19 L753.3,696.09 L757.3,697.00 L761.3,697.91 L765.3,698.82 L769.3,699.74 L773.3,700.67 L777.3,701.59 L781.3,702.53 L785.3,703.47 L789.3,704.41 L793.3,705.36 L797.3,706.31 L801.3,707.27 L805.3,708.24 L809.3,709.21 L813.3,710.19 L817.3,711.17 L821.3,712.16 L825.3,713.15 L829.3,714.16 L833.3,715.17 L837.3,716.18 L841.3,717.20 L845.3,718.23 L849.3,719.27 L853.3,720.32 L857.3,721.38 L861.3,722.45 L865.3,723.53 L869.3,724.61 L873.3,725.71 L877.3,726.81 L881.3,727.92 L885.3,729.04 L889.3,730.17 L893.3,731.30 L897.3,732.44 L901.0,733.50 M373.3,604.00 L377.3,604.75 L381.3,605.50 L385.3,606.25 L389.3,607.00 L393.3,607.75 L397.3,608.50 L401.3,609.25 L405.3,610.01 L409.3,610.77 L413.3,611.52 L417.3,612.28 L421.3,613.04 L425.3,613.80 L429.3,614.56 L433.3,615.33 L437.3,616.09 L441.3,616.86 L445.3,617.62 L449.3,618.39 L453.3,619.16 L457.3,619.93 L461.3,620.70 L465.3,621.47 L469.3,622.24 L473.3,623.02 L477.3,623.79 L481.3,624.57 L485.3,625.34 L489.3,626.12 L493.3,626.90 L497.3,627.68 L501.3,628.46 L505.3,629.24 L509.3,630.02 L513.3,630.80 L517.3,631.58 L521.3,632.35 L525.3,633.13 L529.3,633.91 L533.3,634.68 L537.3,635.46 L541.3,636.24 L545.3,637.02 L549.3,637.80 L553.3,638.58 L557.3,639.36 L561.3,640.14 L565.3,640.93 L569.3,641.72 L573.3,642.51 L577.3,643.31 L581.3,644.11 L585.3,644.91 L589.3,645.71 L593.3,646.52 L597.3,647.34 L601.3,648.15 L605.3,648.98 L609.3,649.80 L613.3,650.64 L617.3,651.47 L621.3,652.32 L625.3,653.17 L629.3,654.03 L633.3,654.89 L637.3,655.76 L641.3,656.63 L645.3,657.51 L649.3,658.39 L653.3,659.28 L657.3,660.17 L661.3,661.06 L665.3,661.96 L669.3,662.87 L673.3,663.78 L677.3,664.69 L681.3,665.61 L685.3,666.54 L689.3,667.46 L693.3,668.40 L697.3,669.34 L701.3,670.28 L705.3,671.22 L709.3,672.18 L713.3,673.13 L717.3,674.09 L721.3,675.06 L725.3,676.03 L729.3,677.00 L733.3,677.98 L737.3,678.96 L741.3,679.95 L745.3,680.94 L749.3,681.94 L753.3,682.94 L757.3,683.95 L761.3,684.95 L765.3,685.96 L769.3,686.97 L773.3,687.98 L777.3,688.99 L781.3,690.01 L785.3,691.03 L789.3,692.06 L793.3,693.09 L797.3,694.13 L801.3,695.19 L805.3,696.25 L809.3,697.33 L813.3,698.42 L817.3,699.52 L821.3,700.64 L825.3,701.78 L829.3,702.94 L833.3,704.12 L837.3,705.32 L841.3,706.54 L845.3,707.78 L849.3,709.06 L853.3,710.37 L857.3,711.71 L861.3,713.08 L865.3,714.48 L869.3,715.91 L873.3,717.36 L877.3,718.84 L881.3,720.34 L885.3,721.86 L889.3,723.40 L893.3,724.96 L897.3,726.53 L901.0,728.00 M373.3,583.00 L377.3,583.73 L381.3,584.46 L385.3,585.19 L389.3,585.93 L393.3,586.67 L397.3,587.41 L401.3,588.16 L405.3,588.91 L409.3,589.67 L413.3,590.42 L417.3,591.19 L421.3,591.95 L425.3,592.72 L429.3,593.49 L433.3,594.27 L437.3,595.05 L441.3,595.83 L445.3,596.62 L449.3,597.41 L453.3,598.20 L457.3,598.99 L461.3,599.79 L465.3,600.60 L469.3,601.40 L473.3,602.21 L477.3,603.02 L481.3,603.84 L485.3,604.65 L489.3,605.48 L493.3,606.30 L497.3,607.13 L501.3,607.96 L505.3,608.79 L509.3,609.63 L513.3,610.47 L517.3,611.31 L521.3,612.15 L525.3,613.00 L529.3,613.85 L533.3,614.70 L537.3,615.55 L541.3,616.41 L545.3,617.28 L549.3,618.14 L553.3,619.01 L557.3,619.89 L561.3,620.76 L565.3,621.65 L569.3,622.53 L573.3,623.43 L577.3,624.32 L581.3,625.22 L585.3,626.13 L589.3,627.04 L593.3,627.96 L597.3,628.88 L601.3,629.81 L605.3,630.74 L609.3,631.68 L613.3,632.62 L617.3,633.57 L621.3,634.53 L625.3,635.49 L629.3,636.46 L633.3,637.44 L637.3,638.42 L641.3,639.42 L645.3,640.42 L649.3,641.42 L653.3,642.44 L657.3,643.46 L661.3,644.49 L665.3,645.52 L669.3,646.57 L673.3,647.62 L677.3,648.67 L681.3,649.73 L685.3,650.80 L689.3,651.87 L693.3,652.95 L697.3,654.04 L701.3,655.13 L705.3,656.22 L709.3,657.32 L713.3,658.43 L717.3,659.54 L721.3,660.65 L725.3,661.77 L729.3,662.90 L733.3,664.02 L737.3,665.16 L741.3,666.29 L745.3,667.43 L749.3,668.57 L753.3,669.72 L757.3,670.87 L761.3,672.02 L765.3,673.17 L769.3,674.32 L773.3,675.47 L777.3,676.62 L781.3,677.78 L785.3,678.94 L789.3,680.11 L793.3,681.28 L797.3,682.46 L801.3,683.66 L805.3,684.86 L809.3,686.08 L813.3,687.31 L817.3,688.56 L821.3,689.82 L825.3,691.10 L829.3,692.40 L833.3,693.72 L837.3,695.06 L841.3,696.43 L845.3,697.81 L849.3,699.24 L853.3,700.69 L857.3,702.17 L861.3,703.69 L865.3,705.23 L869.3,706.80 L873.3,708.39 L877.3,710.01 L881.3,711.65 L885.3,713.31 L889.3,714.99 L893.3,716.69 L897.3,718.40 L901.0,720.00 M373.3,556.20 L377.3,556.93 L381.3,557.68 L385.3,558.42 L389.3,559.17 L393.3,559.93 L397.3,560.70 L401.3,561.47 L405.3,562.24 L409.3,563.02 L413.3,563.81 L417.3,564.60 L421.3,565.40 L425.3,566.21 L429.3,567.01 L433.3,567.83 L437.3,568.65 L441.3,569.47 L445.3,570.31 L449.3,571.14 L453.3,571.98 L457.3,572.83 L461.3,573.68 L465.3,574.53 L469.3,575.40 L473.3,576.26 L477.3,577.13 L481.3,578.01 L485.3,578.89 L489.3,579.77 L493.3,580.66 L497.3,581.56 L501.3,582.45 L505.3,583.36 L509.3,584.27 L513.3,585.19 L517.3,586.11 L521.3,587.04 L525.3,587.98 L529.3,588.92 L533.3,589.87 L537.3,590.82 L541.3,591.78 L545.3,592.75 L549.3,593.72 L553.3,594.70 L557.3,595.69 L561.3,596.68 L565.3,597.67 L569.3,598.68 L573.3,599.68 L577.3,600.70 L581.3,601.72 L585.3,602.74 L589.3,603.78 L593.3,604.81 L597.3,605.86 L601.3,606.91 L605.3,607.96 L609.3,609.02 L613.3,610.08 L617.3,611.16 L621.3,612.23 L625.3,613.31 L629.3,614.40 L633.3,615.49 L637.3,616.59 L641.3,617.70 L645.3,618.82 L649.3,619.94 L653.3,621.08 L657.3,622.22 L661.3,623.37 L665.3,624.52 L669.3,625.68 L673.3,626.85 L677.3,628.03 L681.3,629.22 L685.3,630.41 L689.3,631.60 L693.3,632.81 L697.3,634.02 L701.3,635.23 L705.3,636.45 L709.3,637.68 L713.3,638.91 L717.3,640.15 L721.3,641.39 L725.3,642.64 L729.3,643.89 L733.3,645.15 L737.3,646.42 L741.3,647.68 L745.3,648.95 L749.3,650.23 L753.3,651.51 L757.3,652.79 L761.3,654.08 L765.3,655.37 L769.3,656.66 L773.3,657.95 L777.3,659.24 L781.3,660.54 L785.3,661.85 L789.3,663.17 L793.3,664.49 L797.3,665.82 L801.3,667.16 L805.3,668.52 L809.3,669.88 L813.3,671.26 L817.3,672.66 L821.3,674.07 L825.3,675.50 L829.3,676.95 L833.3,678.42 L837.3,679.90 L841.3,681.41 L845.3,682.95 L849.3,684.51 L853.3,686.10 L857.3,687.73 L861.3,689.38 L865.3,691.05 L869.3,692.76 L873.3,694.48 L877.3,696.23 L881.3,698.00 L885.3,699.80 L889.3,701.61 L893.3,703.44 L897.3,705.28 L901.0,707.00 M373.3,532.60 L377.3,533.25 L381.3,533.92 L385.3,534.59 L389.3,535.26 L393.3,535.95 L397.3,536.64 L401.3,537.34 L405.3,538.05 L409.3,538.76 L413.3,539.48 L417.3,540.21 L421.3,540.94 L425.3,541.68 L429.3,542.43 L433.3,543.19 L437.3,543.95 L441.3,544.72 L445.3,545.49 L449.3,546.27 L453.3,547.06 L457.3,547.85 L461.3,548.65 L465.3,549.45 L469.3,550.27 L473.3,551.08 L477.3,551.90 L481.3,552.73 L485.3,553.57 L489.3,554.41 L493.3,555.25 L497.3,556.10 L501.3,556.96 L505.3,557.82 L509.3,558.69 L513.3,559.56 L517.3,560.45 L521.3,561.33 L525.3,562.23 L529.3,563.14 L533.3,564.05 L537.3,564.97 L541.3,565.89 L545.3,566.83 L549.3,567.77 L553.3,568.72 L557.3,569.68 L561.3,570.65 L565.3,571.62 L569.3,572.60 L573.3,573.59 L577.3,574.59 L581.3,575.60 L585.3,576.62 L589.3,577.64 L593.3,578.68 L597.3,579.72 L601.3,580.77 L605.3,581.83 L609.3,582.90 L613.3,583.98 L617.3,585.06 L621.3,586.16 L625.3,587.27 L629.3,588.38 L633.3,589.51 L637.3,590.65 L641.3,591.80 L645.3,592.96 L649.3,594.14 L653.3,595.33 L657.3,596.53 L661.3,597.74 L665.3,598.97 L669.3,600.21 L673.3,601.46 L677.3,602.72 L681.3,604.00 L685.3,605.28 L689.3,606.58 L693.3,607.89 L697.3,609.21 L701.3,610.53 L705.3,611.87 L709.3,613.23 L713.3,614.59 L717.3,615.96 L721.3,617.34 L725.3,618.73 L729.3,620.13 L733.3,621.54 L737.3,622.96 L741.3,624.39 L745.3,625.83 L749.3,627.27 L753.3,628.73 L757.3,630.19 L761.3,631.66 L765.3,633.16 L769.3,634.67 L773.3,636.20 L777.3,637.74 L781.3,639.31 L785.3,640.89 L789.3,642.49 L793.3,644.11 L797.3,645.74 L801.3,647.39 L805.3,649.05 L809.3,650.73 L813.3,652.42 L817.3,654.12 L821.3,655.84 L825.3,657.57 L829.3,659.32 L833.3,661.07 L837.3,662.84 L841.3,664.62 L845.3,666.40 L849.3,668.21 L853.3,670.04 L857.3,671.90 L861.3,673.78 L865.3,675.68 L869.3,677.59 L873.3,679.53 L877.3,681.49 L881.3,683.46 L885.3,685.45 L889.3,687.45 L893.3,689.47 L897.3,691.51 L901.0,693.40 M373.3,508.80 L377.3,509.48 L381.3,510.17 L385.3,510.87 L389.3,511.57 L393.3,512.29 L397.3,513.02 L401.3,513.76 L405.3,514.51 L409.3,515.26 L413.3,516.03 L417.3,516.80 L421.3,517.59 L425.3,518.38 L429.3,519.18 L433.3,519.99 L437.3,520.81 L441.3,521.64 L445.3,522.47 L449.3,523.31 L453.3,524.17 L457.3,525.02 L461.3,525.89 L465.3,526.76 L469.3,527.65 L473.3,528.54 L477.3,529.43 L481.3,530.33 L485.3,531.24 L489.3,532.16 L493.3,533.09 L497.3,534.02 L501.3,534.95 L505.3,535.90 L509.3,536.85 L513.3,537.82 L517.3,538.80 L521.3,539.79 L525.3,540.79 L529.3,541.80 L533.3,542.82 L537.3,543.85 L541.3,544.89 L545.3,545.94 L549.3,547.00 L553.3,548.08 L557.3,549.16 L561.3,550.25 L565.3,551.36 L569.3,552.47 L573.3,553.59 L577.3,554.72 L581.3,555.86 L585.3,557.02 L589.3,558.18 L593.3,559.35 L597.3,560.53 L601.3,561.72 L605.3,562.92 L609.3,564.13 L613.3,565.34 L617.3,566.57 L621.3,567.81 L625.3,569.05 L629.3,570.31 L633.3,571.57 L637.3,572.85 L641.3,574.15 L645.3,575.46 L649.3,576.79 L653.3,578.13 L657.3,579.49 L661.3,580.87 L665.3,582.26 L669.3,583.66 L673.3,585.08 L677.3,586.50 L681.3,587.95 L685.3,589.40 L689.3,590.86 L693.3,592.34 L697.3,593.83 L701.3,595.32 L705.3,596.83 L709.3,598.35 L713.3,599.87 L717.3,601.41 L721.3,602.95 L725.3,604.50 L729.3,606.06 L733.3,607.62 L737.3,609.19 L741.3,610.77 L745.3,612.35 L749.3,613.93 L753.3,615.53 L757.3,617.12 L761.3,618.72 L765.3,620.33 L769.3,621.95 L773.3,623.59 L777.3,625.23 L781.3,626.89 L785.3,628.56 L789.3,630.25 L793.3,631.94 L797.3,633.65 L801.3,635.38 L805.3,637.11 L809.3,638.86 L813.3,640.62 L817.3,642.40 L821.3,644.19 L825.3,645.99 L829.3,647.81 L833.3,649.64 L837.3,651.49 L841.3,653.35 L845.3,655.22 L849.3,657.12 L853.3,659.04 L857.3,660.99 L861.3,662.96 L865.3,664.94 L869.3,666.95 L873.3,668.98 L877.3,671.03 L881.3,673.10 L885.3,675.18 L889.3,677.28 L893.3,679.39 L897.3,681.52 L901.0,683.50 M373.3,486.50 L377.3,487.14 L381.3,487.80 L385.3,488.47 L389.3,489.15 L393.3,489.84 L397.3,490.55 L401.3,491.28 L405.3,492.01 L409.3,492.76 L413.3,493.52 L417.3,494.29 L421.3,495.08 L425.3,495.87 L429.3,496.68 L433.3,497.50 L437.3,498.33 L441.3,499.17 L445.3,500.02 L449.3,500.88 L453.3,501.76 L457.3,502.64 L461.3,503.53 L465.3,504.43 L469.3,505.34 L473.3,506.26 L477.3,507.19 L481.3,508.13 L485.3,509.08 L489.3,510.04 L493.3,511.00 L497.3,511.97 L501.3,512.95 L505.3,513.94 L509.3,514.95 L513.3,515.98 L517.3,517.03 L521.3,518.09 L525.3,519.18 L529.3,520.27 L533.3,521.39 L537.3,522.52 L541.3,523.66 L545.3,524.82 L549.3,525.99 L553.3,527.18 L557.3,528.38 L561.3,529.59 L565.3,530.82 L569.3,532.06 L573.3,533.31 L577.3,534.57 L581.3,535.84 L585.3,537.12 L589.3,538.41 L593.3,539.71 L597.3,541.02 L601.3,542.33 L605.3,543.66 L609.3,544.99 L613.3,546.33 L617.3,547.68 L621.3,549.03 L625.3,550.39 L629.3,551.75 L633.3,553.12 L637.3,554.50 L641.3,555.89 L645.3,557.30 L649.3,558.72 L653.3,560.15 L657.3,561.60 L661.3,563.06 L665.3,564.53 L669.3,566.01 L673.3,567.51 L677.3,569.02 L681.3,570.54 L685.3,572.07 L689.3,573.62 L693.3,575.17 L697.3,576.74 L701.3,578.32 L705.3,579.91 L709.3,581.51 L713.3,583.13 L717.3,584.75 L721.3,586.38 L725.3,588.03 L729.3,589.68 L733.3,591.35 L737.3,593.02 L741.3,594.71 L745.3,596.40 L749.3,598.11 L753.3,599.82 L757.3,601.55 L761.3,603.28 L765.3,605.04 L769.3,606.82 L773.3,608.62 L777.3,610.44 L781.3,612.28 L785.3,614.14 L789.3,616.02 L793.3,617.92 L797.3,619.83 L801.3,621.76 L805.3,623.70 L809.3,625.65 L813.3,627.62 L817.3,629.59 L821.3,631.58 L825.3,633.58 L829.3,635.58 L833.3,637.59 L837.3,639.61 L841.3,641.63 L845.3,643.66 L849.3,645.70 L853.3,647.75 L857.3,649.83 L861.3,651.92 L865.3,654.02 L869.3,656.14 L873.3,658.28 L877.3,660.43 L881.3,662.59 L885.3,664.76 L889.3,666.95 L893.3,669.14 L897.3,671.35 L901.0,673.40 M373.3,462.50 L377.3,463.23 L381.3,463.97 L385.3,464.72 L389.3,465.49 L393.3,466.26 L397.3,467.06 L401.3,467.86 L405.3,468.68 L409.3,469.50 L413.3,470.34 L417.3,471.19 L421.3,472.06 L425.3,472.93 L429.3,473.82 L433.3,474.71 L437.3,475.62 L441.3,476.54 L445.3,477.47 L449.3,478.40 L453.3,479.35 L457.3,480.31 L461.3,481.28 L465.3,482.26 L469.3,483.24 L473.3,484.24 L477.3,485.24 L481.3,486.26 L485.3,487.28 L489.3,488.31 L493.3,489.35 L497.3,490.39 L501.3,491.45 L505.3,492.51 L509.3,493.59 L513.3,494.69 L517.3,495.79 L521.3,496.92 L525.3,498.05 L529.3,499.20 L533.3,500.37 L537.3,501.55 L541.3,502.74 L545.3,503.94 L549.3,505.16 L553.3,506.39 L557.3,507.64 L561.3,508.90 L565.3,510.17 L569.3,511.45 L573.3,512.75 L577.3,514.06 L581.3,515.38 L585.3,516.71 L589.3,518.06 L593.3,519.42 L597.3,520.79 L601.3,522.17 L605.3,523.57 L609.3,524.98 L613.3,526.40 L617.3,527.83 L621.3,529.27 L625.3,530.72 L629.3,532.19 L633.3,533.67 L637.3,535.17 L641.3,536.70 L645.3,538.26 L649.3,539.85 L653.3,541.46 L657.3,543.09 L661.3,544.74 L665.3,546.42 L669.3,548.11 L673.3,549.82 L677.3,551.55 L681.3,553.30 L685.3,555.06 L689.3,556.84 L693.3,558.62 L697.3,560.42 L701.3,562.23 L705.3,564.05 L709.3,565.88 L713.3,567.71 L717.3,569.55 L721.3,571.39 L725.3,573.24 L729.3,575.09 L733.3,576.94 L737.3,578.79 L741.3,580.64 L745.3,582.48 L749.3,584.33 L753.3,586.16 L757.3,588.00 L761.3,589.82 L765.3,591.65 L769.3,593.48 L773.3,595.31 L777.3,597.14 L781.3,598.99 L785.3,600.83 L789.3,602.69 L793.3,604.55 L797.3,606.41 L801.3,608.29 L805.3,610.17 L809.3,612.07 L813.3,613.97 L817.3,615.89 L821.3,617.81 L825.3,619.75 L829.3,621.70 L833.3,623.67 L837.3,625.65 L841.3,627.64 L845.3,629.65 L849.3,631.68 L853.3,633.73 L857.3,635.80 L861.3,637.88 L865.3,639.99 L869.3,642.11 L873.3,644.24 L877.3,646.39 L881.3,648.55 L885.3,650.73 L889.3,652.92 L893.3,655.13 L897.3,657.34 L901.0,659.40 M373.3,438.00 L377.3,438.93 L381.3,439.87 L385.3,440.81 L389.3,441.77 L393.3,442.73 L397.3,443.71 L401.3,444.69 L405.3,445.68 L409.3,446.68 L413.3,447.69 L417.3,448.71 L421.3,449.74 L425.3,450.77 L429.3,451.82 L433.3,452.87 L437.3,453.93 L441.3,455.00 L445.3,456.08 L449.3,457.16 L453.3,458.25 L457.3,459.35 L461.3,460.46 L465.3,461.58 L469.3,462.70 L473.3,463.83 L477.3,464.97 L481.3,466.11 L485.3,467.26 L489.3,468.42 L493.3,469.59 L497.3,470.76 L501.3,471.94 L505.3,473.13 L509.3,474.32 L513.3,475.53 L517.3,476.74 L521.3,477.96 L525.3,479.18 L529.3,480.42 L533.3,481.67 L537.3,482.92 L541.3,484.18 L545.3,485.46 L549.3,486.74 L553.3,488.03 L557.3,489.33 L561.3,490.65 L565.3,491.97 L569.3,493.30 L573.3,494.65 L577.3,496.00 L581.3,497.37 L585.3,498.74 L589.3,500.13 L593.3,501.53 L597.3,502.94 L601.3,504.36 L605.3,505.80 L609.3,507.24 L613.3,508.70 L617.3,510.17 L621.3,511.66 L625.3,513.15 L629.3,514.66 L633.3,516.19 L637.3,517.73 L641.3,519.29 L645.3,520.88 L649.3,522.48 L653.3,524.10 L657.3,525.74 L661.3,527.40 L665.3,529.08 L669.3,530.77 L673.3,532.47 L677.3,534.20 L681.3,535.93 L685.3,537.68 L689.3,539.45 L693.3,541.22 L697.3,543.01 L701.3,544.82 L705.3,546.63 L709.3,548.45 L713.3,550.29 L717.3,552.13 L721.3,553.98 L725.3,555.84 L729.3,557.71 L733.3,559.58 L737.3,561.47 L741.3,563.35 L745.3,565.25 L749.3,567.14 L753.3,569.05 L757.3,570.95 L761.3,572.86 L765.3,574.78 L769.3,576.71 L773.3,578.66 L777.3,580.62 L781.3,582.59 L785.3,584.58 L789.3,586.58 L793.3,588.59 L797.3,590.62 L801.3,592.66 L805.3,594.71 L809.3,596.78 L813.3,598.87 L817.3,600.97 L821.3,603.08 L825.3,605.21 L829.3,607.36 L833.3,609.52 L837.3,611.70 L841.3,613.89 L845.3,616.10 L849.3,618.33 L853.3,620.59 L857.3,622.88 L861.3,625.18 L865.3,627.52 L869.3,629.87 L873.3,632.25 L877.3,634.64 L881.3,637.06 L885.3,639.49 L889.3,641.94 L893.3,644.41 L897.3,646.89 L901.0,649.20 M373.3,418.00 L377.3,418.96 L381.3,419.92 L385.3,420.89 L389.3,421.87 L393.3,422.86 L397.3,423.86 L401.3,424.86 L405.3,425.88 L409.3,426.90 L413.3,427.93 L417.3,428.97 L421.3,430.01 L425.3,431.06 L429.3,432.12 L433.3,433.19 L437.3,434.27 L441.3,435.35 L445.3,436.44 L449.3,437.54 L453.3,438.64 L457.3,439.76 L461.3,440.88 L465.3,442.00 L469.3,443.14 L473.3,444.28 L477.3,445.42 L481.3,446.58 L485.3,447.74 L489.3,448.90 L493.3,450.08 L497.3,451.25 L501.3,452.44 L505.3,453.63 L509.3,454.83 L513.3,456.04 L517.3,457.25 L521.3,458.47 L525.3,459.70 L529.3,460.93 L533.3,462.18 L537.3,463.43 L541.3,464.69 L545.3,465.96 L549.3,467.23 L553.3,468.52 L557.3,469.81 L561.3,471.12 L565.3,472.43 L569.3,473.75 L573.3,475.08 L577.3,476.43 L581.3,477.78 L585.3,479.14 L589.3,480.52 L593.3,481.90 L597.3,483.30 L601.3,484.70 L605.3,486.12 L609.3,487.55 L613.3,488.99 L617.3,490.44 L621.3,491.91 L625.3,493.39 L629.3,494.88 L633.3,496.38 L637.3,497.90 L641.3,499.43 L645.3,500.98 L649.3,502.54 L653.3,504.12 L657.3,505.71 L661.3,507.31 L665.3,508.94 L669.3,510.57 L673.3,512.22 L677.3,513.88 L681.3,515.56 L685.3,517.25 L689.3,518.96 L693.3,520.68 L697.3,522.41 L701.3,524.15 L705.3,525.91 L709.3,527.69 L713.3,529.47 L717.3,531.27 L721.3,533.08 L725.3,534.90 L729.3,536.74 L733.3,538.59 L737.3,540.45 L741.3,542.32 L745.3,544.21 L749.3,546.11 L753.3,548.02 L757.3,549.94 L761.3,551.87 L765.3,553.83 L769.3,555.81 L773.3,557.81 L777.3,559.84 L781.3,561.89 L785.3,563.96 L789.3,566.06 L793.3,568.17 L797.3,570.30 L801.3,572.46 L805.3,574.63 L809.3,576.82 L813.3,579.03 L817.3,581.26 L821.3,583.51 L825.3,585.77 L829.3,588.05 L833.3,590.35 L837.3,592.66 L841.3,594.99 L845.3,597.33 L849.3,599.70 L853.3,602.10 L857.3,604.53 L861.3,606.99 L865.3,609.47 L869.3,611.99 L873.3,614.52 L877.3,617.09 L881.3,619.67 L885.3,622.28 L889.3,624.91 L893.3,627.55 L897.3,630.22 L901.0,632.70 M373.3,390.80 L377.3,391.69 L381.3,392.60 L385.3,393.52 L389.3,394.46 L393.3,395.41 L397.3,396.37 L401.3,397.34 L405.3,398.33 L409.3,399.33 L413.3,400.34 L417.3,401.37 L421.3,402.41 L425.3,403.45 L429.3,404.52 L433.3,405.59 L437.3,406.67 L441.3,407.77 L445.3,408.87 L449.3,409.99 L453.3,411.12 L457.3,412.26 L461.3,413.41 L465.3,414.57 L469.3,415.74 L473.3,416.92 L477.3,418.11 L481.3,419.31 L485.3,420.51 L489.3,421.73 L493.3,422.96 L497.3,424.19 L501.3,425.44 L505.3,426.69 L509.3,427.97 L513.3,429.26 L517.3,430.56 L521.3,431.88 L525.3,433.22 L529.3,434.57 L533.3,435.93 L537.3,437.31 L541.3,438.71 L545.3,440.12 L549.3,441.54 L553.3,442.97 L557.3,444.42 L561.3,445.89 L565.3,447.36 L569.3,448.85 L573.3,450.36 L577.3,451.87 L581.3,453.40 L585.3,454.94 L589.3,456.49 L593.3,458.05 L597.3,459.62 L601.3,461.21 L605.3,462.80 L609.3,464.41 L613.3,466.02 L617.3,467.65 L621.3,469.28 L625.3,470.93 L629.3,472.59 L633.3,474.25 L637.3,475.94 L641.3,477.64 L645.3,479.37 L649.3,481.11 L653.3,482.87 L657.3,484.66 L661.3,486.45 L665.3,488.27 L669.3,490.10 L673.3,491.95 L677.3,493.81 L681.3,495.69 L685.3,497.58 L689.3,499.49 L693.3,501.41 L697.3,503.34 L701.3,505.28 L705.3,507.23 L709.3,509.20 L713.3,511.17 L717.3,513.15 L721.3,515.15 L725.3,517.15 L729.3,519.15 L733.3,521.17 L737.3,523.19 L741.3,525.22 L745.3,527.25 L749.3,529.29 L753.3,531.33 L757.3,533.37 L761.3,535.42 L765.3,537.47 L769.3,539.52 L773.3,541.58 L777.3,543.64 L781.3,545.71 L785.3,547.79 L789.3,549.89 L793.3,551.99 L797.3,554.12 L801.3,556.26 L805.3,558.42 L809.3,560.61 L813.3,562.81 L817.3,565.05 L821.3,567.31 L825.3,569.60 L829.3,571.92 L833.3,574.27 L837.3,576.66 L841.3,579.09 L845.3,581.56 L849.3,584.08 L853.3,586.65 L857.3,589.27 L861.3,591.94 L865.3,594.66 L869.3,597.42 L873.3,600.23 L877.3,603.07 L881.3,605.95 L885.3,608.86 L889.3,611.81 L893.3,614.79 L897.3,617.80 L901.0,620.60 M373.3,365.50 L377.3,366.40 L381.3,367.31 L385.3,368.25 L389.3,369.20 L393.3,370.18 L397.3,371.17 L401.3,372.18 L405.3,373.21 L409.3,374.25 L413.3,375.31 L417.3,376.39 L421.3,377.49 L425.3,378.60 L429.3,379.73 L433.3,380.87 L437.3,382.03 L441.3,383.20 L445.3,384.39 L449.3,385.60 L453.3,386.81 L457.3,388.04 L461.3,389.29 L465.3,390.55 L469.3,391.82 L473.3,393.11 L477.3,394.40 L481.3,395.71 L485.3,397.03 L489.3,398.37 L493.3,399.71 L497.3,401.07 L501.3,402.43 L505.3,403.82 L509.3,405.23 L513.3,406.67 L517.3,408.14 L521.3,409.63 L525.3,411.15 L529.3,412.70 L533.3,414.26 L537.3,415.85 L541.3,417.46 L545.3,419.09 L549.3,420.75 L553.3,422.41 L557.3,424.10 L561.3,425.81 L565.3,427.53 L569.3,429.26 L573.3,431.01 L577.3,432.77 L581.3,434.55 L585.3,436.33 L589.3,438.13 L593.3,439.94 L597.3,441.75 L601.3,443.58 L605.3,445.41 L609.3,447.24 L613.3,449.08 L617.3,450.93 L621.3,452.78 L625.3,454.63 L629.3,456.48 L633.3,458.34 L637.3,460.20 L641.3,462.08 L645.3,463.98 L649.3,465.88 L653.3,467.80 L657.3,469.73 L661.3,471.68 L665.3,473.64 L669.3,475.61 L673.3,477.59 L677.3,479.59 L681.3,481.60 L685.3,483.61 L689.3,485.65 L693.3,487.69 L697.3,489.74 L701.3,491.81 L705.3,493.88 L709.3,495.97 L713.3,498.06 L717.3,500.17 L721.3,502.29 L725.3,504.42 L729.3,506.56 L733.3,508.70 L737.3,510.86 L741.3,513.03 L745.3,515.20 L749.3,517.39 L753.3,519.58 L757.3,521.78 L761.3,524.00 L765.3,526.23 L769.3,528.47 L773.3,530.74 L777.3,533.02 L781.3,535.31 L785.3,537.63 L789.3,539.96 L793.3,542.30 L797.3,544.66 L801.3,547.04 L805.3,549.43 L809.3,551.83 L813.3,554.25 L817.3,556.68 L821.3,559.13 L825.3,561.59 L829.3,564.06 L833.3,566.54 L837.3,569.04 L841.3,571.55 L845.3,574.07 L849.3,576.61 L853.3,579.17 L857.3,581.76 L861.3,584.36 L865.3,586.99 L869.3,589.64 L873.3,592.30 L877.3,594.98 L881.3,597.68 L885.3,600.40 L889.3,603.13 L893.3,605.88 L897.3,608.64 L901.0,611.20 M373.3,350.00 L377.3,351.08 L381.3,352.17 L385.3,353.27 L389.3,354.38 L393.3,355.51 L397.3,356.66 L401.3,357.81 L405.3,358.98 L409.3,360.16 L413.3,361.35 L417.3,362.56 L421.3,363.77 L425.3,365.00 L429.3,366.24 L433.3,367.50 L437.3,368.76 L441.3,370.04 L445.3,371.32 L449.3,372.62 L453.3,373.93 L457.3,375.25 L461.3,376.58 L465.3,377.92 L469.3,379.27 L473.3,380.63 L477.3,382.00 L481.3,383.38 L485.3,384.77 L489.3,386.17 L493.3,387.58 L497.3,389.00 L501.3,390.43 L505.3,391.87 L509.3,393.32 L513.3,394.79 L517.3,396.28 L521.3,397.78 L525.3,399.30 L529.3,400.83 L533.3,402.37 L537.3,403.93 L541.3,405.50 L545.3,407.09 L549.3,408.69 L553.3,410.30 L557.3,411.93 L561.3,413.57 L565.3,415.22 L569.3,416.89 L573.3,418.57 L577.3,420.26 L581.3,421.96 L585.3,423.68 L589.3,425.40 L593.3,427.14 L597.3,428.89 L601.3,430.65 L605.3,432.43 L609.3,434.21 L613.3,436.01 L617.3,437.81 L621.3,439.63 L625.3,441.45 L629.3,443.29 L633.3,445.13 L637.3,447.00 L641.3,448.88 L645.3,450.78 L649.3,452.70 L653.3,454.64 L657.3,456.59 L661.3,458.56 L665.3,460.55 L669.3,462.55 L673.3,464.57 L677.3,466.60 L681.3,468.65 L685.3,470.72 L689.3,472.79 L693.3,474.88 L697.3,476.98 L701.3,479.10 L705.3,481.22 L709.3,483.36 L713.3,485.51 L717.3,487.67 L721.3,489.84 L725.3,492.02 L729.3,494.21 L733.3,496.41 L737.3,498.62 L741.3,500.83 L745.3,503.05 L749.3,505.28 L753.3,507.52 L757.3,509.76 L761.3,512.01 L765.3,514.27 L769.3,516.53 L773.3,518.79 L777.3,521.07 L781.3,523.36 L785.3,525.66 L789.3,527.97 L793.3,530.30 L797.3,532.65 L801.3,535.02 L805.3,537.41 L809.3,539.83 L813.3,542.27 L817.3,544.74 L821.3,547.23 L825.3,549.76 L829.3,552.32 L833.3,554.91 L837.3,557.54 L841.3,560.21 L845.3,562.91 L849.3,565.73 L853.3,568.66 L857.3,571.67 L861.3,574.76 L865.3,577.88 L869.3,581.03 L873.3,584.17 L877.3,587.27 L881.3,590.32 L885.3,593.30 L889.3,596.16 L893.3,598.94 L897.3,601.64 L901.0,604.10 M373.3,331.00 L377.3,332.30 L381.3,333.62 L385.3,334.94 L389.3,336.27 L393.3,337.61 L397.3,338.96 L401.3,340.32 L405.3,341.69 L409.3,343.06 L413.3,344.45 L417.3,345.84 L421.3,347.24 L425.3,348.65 L429.3,350.07 L433.3,351.49 L437.3,352.92 L441.3,354.37 L445.3,355.82 L449.3,357.27 L453.3,358.74 L457.3,360.21 L461.3,361.70 L465.3,363.18 L469.3,364.68 L473.3,366.19 L477.3,367.70 L481.3,369.22 L485.3,370.74 L489.3,372.28 L493.3,373.82 L497.3,375.37 L501.3,376.92 L505.3,378.48 L509.3,380.06 L513.3,381.64 L517.3,383.22 L521.3,384.82 L525.3,386.42 L529.3,388.04 L533.3,389.66 L537.3,391.29 L541.3,392.93 L545.3,394.58 L549.3,396.23 L553.3,397.90 L557.3,399.58 L561.3,401.26 L565.3,402.96 L569.3,404.66 L573.3,406.38 L577.3,408.10 L581.3,409.83 L585.3,411.58 L589.3,413.33 L593.3,415.10 L597.3,416.88 L601.3,418.66 L605.3,420.46 L609.3,422.27 L613.3,424.08 L617.3,425.91 L621.3,427.76 L625.3,429.61 L629.3,431.47 L633.3,433.35 L637.3,435.23 L641.3,437.14 L645.3,439.05 L649.3,440.98 L653.3,442.92 L657.3,444.88 L661.3,446.85 L665.3,448.83 L669.3,450.83 L673.3,452.83 L677.3,454.85 L681.3,456.89 L685.3,458.93 L689.3,460.99 L693.3,463.06 L697.3,465.14 L701.3,467.24 L705.3,469.35 L709.3,471.46 L713.3,473.59 L717.3,475.73 L721.3,477.89 L725.3,480.05 L729.3,482.23 L733.3,484.41 L737.3,486.61 L741.3,488.82 L745.3,491.04 L749.3,493.27 L753.3,495.51 L757.3,497.76 L761.3,500.02 L765.3,502.29 L769.3,504.56 L773.3,506.85 L777.3,509.15 L781.3,511.46 L785.3,513.79 L789.3,516.13 L793.3,518.50 L797.3,520.88 L801.3,523.28 L805.3,525.71 L809.3,528.16 L813.3,530.64 L817.3,533.15 L821.3,535.69 L825.3,538.26 L829.3,540.86 L833.3,543.49 L837.3,546.16 L841.3,548.87 L845.3,551.62 L849.3,554.47 L853.3,557.42 L857.3,560.45 L861.3,563.54 L865.3,566.69 L869.3,569.86 L873.3,573.04 L877.3,576.22 L881.3,579.36 L885.3,582.46 L889.3,585.50 L893.3,588.50 L897.3,591.46 L901.0,594.20 M373.3,298.70 L377.3,299.97 L381.3,301.25 L385.3,302.54 L389.3,303.84 L393.3,305.16 L397.3,306.49 L401.3,307.83 L405.3,309.18 L409.3,310.55 L413.3,311.92 L417.3,313.31 L421.3,314.71 L425.3,316.12 L429.3,317.54 L433.3,318.98 L437.3,320.42 L441.3,321.87 L445.3,323.34 L449.3,324.82 L453.3,326.30 L457.3,327.80 L461.3,329.31 L465.3,330.82 L469.3,332.35 L473.3,333.89 L477.3,335.44 L481.3,336.99 L485.3,338.56 L489.3,340.14 L493.3,341.72 L497.3,343.32 L501.3,344.92 L505.3,346.53 L509.3,348.16 L513.3,349.80 L517.3,351.45 L521.3,353.11 L525.3,354.78 L529.3,356.47 L533.3,358.17 L537.3,359.88 L541.3,361.61 L545.3,363.35 L549.3,365.10 L553.3,366.86 L557.3,368.64 L561.3,370.42 L565.3,372.23 L569.3,374.04 L573.3,375.87 L577.3,377.71 L581.3,379.56 L585.3,381.43 L589.3,383.31 L593.3,385.21 L597.3,387.12 L601.3,389.04 L605.3,390.98 L609.3,392.93 L613.3,394.89 L617.3,396.87 L621.3,398.86 L625.3,400.86 L629.3,402.88 L633.3,404.92 L637.3,406.97 L641.3,409.05 L645.3,411.15 L649.3,413.28 L653.3,415.42 L657.3,417.58 L661.3,419.76 L665.3,421.96 L669.3,424.19 L673.3,426.42 L677.3,428.68 L681.3,430.95 L685.3,433.24 L689.3,435.55 L693.3,437.87 L697.3,440.20 L701.3,442.55 L705.3,444.91 L709.3,447.29 L713.3,449.68 L717.3,452.08 L721.3,454.49 L725.3,456.91 L729.3,459.35 L733.3,461.79 L737.3,464.24 L741.3,466.70 L745.3,469.17 L749.3,471.65 L753.3,474.14 L757.3,476.63 L761.3,479.13 L765.3,481.65 L769.3,484.19 L773.3,486.75 L777.3,489.33 L781.3,491.93 L785.3,494.55 L789.3,497.19 L793.3,499.85 L797.3,502.52 L801.3,505.21 L805.3,507.91 L809.3,510.63 L813.3,513.36 L817.3,516.11 L821.3,518.87 L825.3,521.64 L829.3,524.42 L833.3,527.21 L837.3,530.01 L841.3,532.82 L845.3,535.64 L849.3,538.48 L853.3,541.36 L857.3,544.26 L861.3,547.18 L865.3,550.13 L869.3,553.09 L873.3,556.06 L877.3,559.04 L881.3,562.03 L885.3,565.01 L889.3,568.00 L893.3,570.99 L897.3,574.01 L901.0,576.80 M373.3,276.80 L377.3,278.11 L381.3,279.43 L385.3,280.77 L389.3,282.11 L393.3,283.47 L397.3,284.84 L401.3,286.21 L405.3,287.60 L409.3,289.00 L413.3,290.41 L417.3,291.83 L421.3,293.26 L425.3,294.71 L429.3,296.16 L433.3,297.62 L437.3,299.09 L441.3,300.57 L445.3,302.06 L449.3,303.56 L453.3,305.07 L457.3,306.60 L461.3,308.12 L465.3,309.66 L469.3,311.21 L473.3,312.77 L477.3,314.34 L481.3,315.91 L485.3,317.50 L489.3,319.09 L493.3,320.69 L497.3,322.30 L501.3,323.92 L505.3,325.55 L509.3,327.18 L513.3,328.83 L517.3,330.49 L521.3,332.15 L525.3,333.83 L529.3,335.51 L533.3,337.21 L537.3,338.92 L541.3,340.64 L545.3,342.37 L549.3,344.11 L553.3,345.86 L557.3,347.63 L561.3,349.41 L565.3,351.20 L569.3,353.00 L573.3,354.81 L577.3,356.64 L581.3,358.48 L585.3,360.34 L589.3,362.20 L593.3,364.09 L597.3,365.98 L601.3,367.89 L605.3,369.82 L609.3,371.76 L613.3,373.71 L617.3,375.68 L621.3,377.67 L625.3,379.67 L629.3,381.68 L633.3,383.72 L637.3,385.77 L641.3,387.84 L645.3,389.93 L649.3,392.04 L653.3,394.17 L657.3,396.32 L661.3,398.48 L665.3,400.67 L669.3,402.87 L673.3,405.09 L677.3,407.33 L681.3,409.58 L685.3,411.86 L689.3,414.15 L693.3,416.46 L697.3,418.78 L701.3,421.12 L705.3,423.48 L709.3,425.86 L713.3,428.25 L717.3,430.66 L721.3,433.08 L725.3,435.52 L729.3,437.97 L733.3,440.45 L737.3,442.93 L741.3,445.43 L745.3,447.95 L749.3,450.48 L753.3,453.03 L757.3,455.59 L761.3,458.16 L765.3,460.78 L769.3,463.43 L773.3,466.12 L777.3,468.84 L781.3,471.60 L785.3,474.38 L789.3,477.19 L793.3,480.03 L797.3,482.89 L801.3,485.77 L805.3,488.67 L809.3,491.59 L813.3,494.51 L817.3,497.45 L821.3,500.40 L825.3,503.36 L829.3,506.32 L833.3,509.28 L837.3,512.25 L841.3,515.21 L845.3,518.17 L849.3,521.13 L853.3,524.11 L857.3,527.11 L861.3,530.12 L865.3,533.15 L869.3,536.19 L873.3,539.24 L877.3,542.31 L881.3,545.38 L885.3,548.47 L889.3,551.57 L893.3,554.68 L897.3,557.80 L901.0,560.70 M373.3,254.20 L377.3,255.54 L381.3,256.89 L385.3,258.26 L389.3,259.64 L393.3,261.03 L397.3,262.44 L401.3,263.85 L405.3,265.28 L409.3,266.72 L413.3,268.17 L417.3,269.64 L421.3,271.12 L425.3,272.60 L429.3,274.10 L433.3,275.61 L437.3,277.13 L441.3,278.67 L445.3,280.21 L449.3,281.77 L453.3,283.33 L457.3,284.91 L461.3,286.49 L465.3,288.09 L469.3,289.70 L473.3,291.32 L477.3,292.94 L481.3,294.58 L485.3,296.23 L489.3,297.89 L493.3,299.55 L497.3,301.23 L501.3,302.92 L505.3,304.61 L509.3,306.32 L513.3,308.04 L517.3,309.77 L521.3,311.51 L525.3,313.27 L529.3,315.03 L533.3,316.81 L537.3,318.60 L541.3,320.41 L545.3,322.22 L549.3,324.05 L553.3,325.90 L557.3,327.75 L561.3,329.63 L565.3,331.51 L569.3,333.41 L573.3,335.32 L577.3,337.24 L581.3,339.18 L585.3,341.14 L589.3,343.11 L593.3,345.09 L597.3,347.09 L601.3,349.10 L605.3,351.13 L609.3,353.17 L613.3,355.23 L617.3,357.31 L621.3,359.40 L625.3,361.50 L629.3,363.63 L633.3,365.76 L637.3,367.92 L641.3,370.10 L645.3,372.31 L649.3,374.53 L653.3,376.77 L657.3,379.03 L661.3,381.31 L665.3,383.62 L669.3,385.94 L673.3,388.28 L677.3,390.64 L681.3,393.02 L685.3,395.41 L689.3,397.83 L693.3,400.26 L697.3,402.71 L701.3,405.18 L705.3,407.67 L709.3,410.17 L713.3,412.70 L717.3,415.23 L721.3,417.79 L725.3,420.36 L729.3,422.95 L733.3,425.55 L737.3,428.18 L741.3,430.81 L745.3,433.46 L749.3,436.13 L753.3,438.81 L757.3,441.51 L761.3,444.22 L765.3,446.98 L769.3,449.77 L773.3,452.59 L777.3,455.46 L781.3,458.35 L785.3,461.28 L789.3,464.23 L793.3,467.21 L797.3,470.21 L801.3,473.24 L805.3,476.29 L809.3,479.35 L813.3,482.43 L817.3,485.53 L821.3,488.64 L825.3,491.75 L829.3,494.88 L833.3,498.00 L837.3,501.14 L841.3,504.27 L845.3,507.41 L849.3,510.55 L853.3,513.72 L857.3,516.91 L861.3,520.11 L865.3,523.34 L869.3,526.58 L873.3,529.84 L877.3,533.11 L881.3,536.40 L885.3,539.70 L889.3,543.02 L893.3,546.35 L897.3,549.70 L901.0,552.80 M373.3,227.50 L377.3,228.97 L381.3,230.45 L385.3,231.94 L389.3,233.44 L393.3,234.95 L397.3,236.47 L401.3,238.01 L405.3,239.55 L409.3,241.10 L413.3,242.66 L417.3,244.24 L421.3,245.82 L425.3,247.41 L429.3,249.01 L433.3,250.62 L437.3,252.24 L441.3,253.87 L445.3,255.51 L449.3,257.16 L453.3,258.82 L457.3,260.49 L461.3,262.17 L465.3,263.85 L469.3,265.55 L473.3,267.25 L477.3,268.96 L481.3,270.68 L485.3,272.41 L489.3,274.15 L493.3,275.89 L497.3,277.65 L501.3,279.41 L505.3,281.18 L509.3,282.96 L513.3,284.75 L517.3,286.55 L521.3,288.35 L525.3,290.17 L529.3,291.99 L533.3,293.83 L537.3,295.67 L541.3,297.53 L545.3,299.39 L549.3,301.27 L553.3,303.15 L557.3,305.05 L561.3,306.96 L565.3,308.88 L569.3,310.82 L573.3,312.76 L577.3,314.72 L581.3,316.69 L585.3,318.67 L589.3,320.67 L593.3,322.68 L597.3,324.70 L601.3,326.74 L605.3,328.79 L609.3,330.86 L613.3,332.94 L617.3,335.04 L621.3,337.15 L625.3,339.27 L629.3,341.42 L633.3,343.57 L637.3,345.75 L641.3,347.94 L645.3,350.15 L649.3,352.38 L653.3,354.62 L657.3,356.89 L661.3,359.17 L665.3,361.46 L669.3,363.78 L673.3,366.11 L677.3,368.46 L681.3,370.82 L685.3,373.20 L689.3,375.60 L693.3,378.02 L697.3,380.45 L701.3,382.89 L705.3,385.36 L709.3,387.84 L713.3,390.33 L717.3,392.85 L721.3,395.37 L725.3,397.92 L729.3,400.48 L733.3,403.05 L737.3,405.64 L741.3,408.25 L745.3,410.87 L749.3,413.51 L753.3,416.16 L757.3,418.83 L761.3,421.51 L765.3,424.21 L769.3,426.93 L773.3,429.67 L777.3,432.43 L781.3,435.22 L785.3,438.02 L789.3,440.86 L793.3,443.71 L797.3,446.60 L801.3,449.51 L805.3,452.46 L809.3,455.43 L813.3,458.44 L817.3,461.47 L821.3,464.55 L825.3,467.65 L829.3,470.79 L833.3,473.97 L837.3,477.19 L841.3,480.45 L845.3,483.74 L849.3,487.04 L853.3,490.35 L857.3,493.69 L861.3,497.09 L865.3,500.56 L869.3,504.13 L873.3,507.82 L877.3,511.66 L881.3,515.68 L885.3,519.88 L889.3,524.31 L893.3,529.30 L897.3,534.76 L901.0,540.00" stroke="#08747a" stroke-width="3.2" fill="none" stroke-linecap="round"/>
<rect x="190.0" y="775.5" width="18.5" height="20" fill="#fff"/>
<rect x="230.5" y="746.2" width="18.5" height="20" fill="#fff"/>
<rect x="190.0" y="724.1" width="18.5" height="20" fill="#fff"/>
<rect x="230.5" y="700.1" width="18.5" height="20" fill="#fff"/>
<rect x="190.0" y="677.1" width="18.5" height="20" fill="#fff"/>
<rect x="230.5" y="654.7" width="18.5" height="20" fill="#fff"/>
<rect x="190.0" y="626.8" width="18.5" height="20" fill="#fff"/>
<rect x="230.5" y="602.0" width="18.5" height="20" fill="#fff"/>
<rect x="190.0" y="577.3" width="29.5" height="20" fill="#fff"/>
<rect x="230.5" y="557.5" width="29.5" height="20" fill="#fff"/>
<rect x="190.0" y="529.9" width="29.5" height="20" fill="#fff"/>
<rect x="230.5" y="509.0" width="29.5" height="20" fill="#fff"/>
<rect x="190.0" y="479.9" width="29.5" height="20" fill="#fff"/>
<rect x="230.5" y="457.6" width="29.5" height="20" fill="#fff"/>
<rect x="190.0" y="427.0" width="29.5" height="20" fill="#fff"/>
<rect x="230.5" y="406.2" width="29.5" height="20" fill="#fff"/>
<rect x="190.0" y="374.7" width="29.5" height="20" fill="#fff"/>
<rect x="230.5" y="355.2" width="29.5" height="20" fill="#fff"/>
<rect x="190.0" y="324.6" width="29.5" height="20" fill="#fff"/>
<rect x="230.5" y="311.6" width="29.5" height="20" fill="#fff"/>
<rect x="190.0" y="278.7" width="29.5" height="20" fill="#fff"/>
<rect x="230.5" y="259.2" width="29.5" height="20" fill="#fff"/>
<rect x="190.0" y="228.0" width="29.5" height="20" fill="#fff"/>
<rect x="230.5" y="211.4" width="29.5" height="20" fill="#fff"/>
<rect x="190.0" y="174.5" width="29.5" height="20" fill="#fff"/>
<text transform="translate(192.8,792.0) scale(1.2,1)" font-size="18.2" letter-spacing="-1.1" fill="#111" stroke="#111" stroke-width="0.2">2</text>
<text transform="translate(233.3,762.7) scale(1.2,1)" font-size="18.2" letter-spacing="-1.1" fill="#111" stroke="#111" stroke-width="0.2">3</text>
<text transform="translate(192.8,740.6) scale(1.2,1)" font-size="18.2" letter-spacing="-1.1" fill="#111" stroke="#111" stroke-width="0.2">4</text>
<text transform="translate(233.3,716.6) scale(1.2,1)" font-size="18.2" letter-spacing="-1.1" fill="#111" stroke="#111" stroke-width="0.2">5</text>
<text transform="translate(192.8,693.6) scale(1.2,1)" font-size="18.2" letter-spacing="-1.1" fill="#111" stroke="#111" stroke-width="0.2">6</text>
<text transform="translate(233.3,671.2) scale(1.2,1)" font-size="18.2" letter-spacing="-1.1" fill="#111" stroke="#111" stroke-width="0.2">7</text>
<text transform="translate(192.8,643.3) scale(1.2,1)" font-size="18.2" letter-spacing="-1.1" fill="#111" stroke="#111" stroke-width="0.2">8</text>
<text transform="translate(233.3,618.5) scale(1.2,1)" font-size="18.2" letter-spacing="-1.1" fill="#111" stroke="#111" stroke-width="0.2">9</text>
<text transform="translate(192.8,593.8) scale(1.2,1)" font-size="18.2" letter-spacing="-1.1" fill="#111" stroke="#111" stroke-width="0.2">10</text>
<text transform="translate(233.3,574.0) scale(1.2,1)" font-size="18.2" letter-spacing="-1.1" fill="#111" stroke="#111" stroke-width="0.2">11</text>
<text transform="translate(192.8,546.4) scale(1.2,1)" font-size="18.2" letter-spacing="-1.1" fill="#111" stroke="#111" stroke-width="0.2">12</text>
<text transform="translate(233.3,525.5) scale(1.2,1)" font-size="18.2" letter-spacing="-1.1" fill="#111" stroke="#111" stroke-width="0.2">13</text>
<text transform="translate(192.8,496.4) scale(1.2,1)" font-size="18.2" letter-spacing="-1.1" fill="#111" stroke="#111" stroke-width="0.2">14</text>
<text transform="translate(233.3,474.1) scale(1.2,1)" font-size="18.2" letter-spacing="-1.1" fill="#111" stroke="#111" stroke-width="0.2">15</text>
<text transform="translate(192.8,443.5) scale(1.2,1)" font-size="18.2" letter-spacing="-1.1" fill="#111" stroke="#111" stroke-width="0.2">16</text>
<text transform="translate(233.3,422.7) scale(1.2,1)" font-size="18.2" letter-spacing="-1.1" fill="#111" stroke="#111" stroke-width="0.2">17</text>
<text transform="translate(192.8,391.2) scale(1.2,1)" font-size="18.2" letter-spacing="-1.1" fill="#111" stroke="#111" stroke-width="0.2">18</text>
<text transform="translate(233.3,371.7) scale(1.2,1)" font-size="18.2" letter-spacing="-1.1" fill="#111" stroke="#111" stroke-width="0.2">19</text>
<text transform="translate(192.8,341.1) scale(1.2,1)" font-size="18.2" letter-spacing="-1.1" fill="#111" stroke="#111" stroke-width="0.2">20</text>
<text transform="translate(233.3,328.1) scale(1.2,1)" font-size="18.2" letter-spacing="-1.1" fill="#111" stroke="#111" stroke-width="0.2">21</text>
<text transform="translate(192.8,295.2) scale(1.2,1)" font-size="18.2" letter-spacing="-1.1" fill="#111" stroke="#111" stroke-width="0.2">22</text>
<text transform="translate(233.3,275.7) scale(1.2,1)" font-size="18.2" letter-spacing="-1.1" fill="#111" stroke="#111" stroke-width="0.2">23</text>
<text transform="translate(192.8,244.5) scale(1.2,1)" font-size="18.2" letter-spacing="-1.1" fill="#111" stroke="#111" stroke-width="0.2">24</text>
<text transform="translate(233.3,227.9) scale(1.2,1)" font-size="18.2" letter-spacing="-1.1" fill="#111" stroke="#111" stroke-width="0.2">25</text>
<text transform="translate(192.8,191.0) scale(1.2,1)" font-size="18.2" letter-spacing="-1.1" fill="#111" stroke="#111" stroke-width="0.2">26</text>
<path d="M164.8,161.8V841.5 M160.5,161.8H975.0 M974.2,161.8V841.5 M156,834.5H975.0" stroke="#1a1a1a" stroke-width="1.9" fill="none"/>
<text transform="translate(134.5,841.0) scale(1.12,1)" font-size="18.2" text-anchor="middle" fill="#111" stroke="#111" stroke-width="0.2">0</text>
<text transform="translate(134.5,789.2) scale(1.12,1)" font-size="18.2" text-anchor="middle" fill="#111" stroke="#111" stroke-width="0.2">20</text>
<text transform="translate(134.5,737.4) scale(1.12,1)" font-size="18.2" text-anchor="middle" fill="#111" stroke="#111" stroke-width="0.2">40</text>
<text transform="translate(134.5,685.7) scale(1.12,1)" font-size="18.2" text-anchor="middle" fill="#111" stroke="#111" stroke-width="0.2">60</text>
<text transform="translate(134.5,633.9) scale(1.12,1)" font-size="18.2" text-anchor="middle" fill="#111" stroke="#111" stroke-width="0.2">80</text>
<text transform="translate(134.5,582.1) scale(1.12,1)" font-size="18.2" text-anchor="middle" fill="#111" stroke="#111" stroke-width="0.2">100</text>
<text transform="translate(134.5,530.3) scale(1.12,1)" font-size="18.2" text-anchor="middle" fill="#111" stroke="#111" stroke-width="0.2">120</text>
<text transform="translate(134.5,478.5) scale(1.12,1)" font-size="18.2" text-anchor="middle" fill="#111" stroke="#111" stroke-width="0.2">140</text>
<text transform="translate(134.5,426.8) scale(1.12,1)" font-size="18.2" text-anchor="middle" fill="#111" stroke="#111" stroke-width="0.2">160</text>
<text transform="translate(134.5,375.0) scale(1.12,1)" font-size="18.2" text-anchor="middle" fill="#111" stroke="#111" stroke-width="0.2">180</text>
<text transform="translate(134.5,323.2) scale(1.12,1)" font-size="18.2" text-anchor="middle" fill="#111" stroke="#111" stroke-width="0.2">200</text>
<text transform="translate(134.5,271.4) scale(1.12,1)" font-size="18.2" text-anchor="middle" fill="#111" stroke="#111" stroke-width="0.2">220</text>
<text transform="translate(134.5,219.6) scale(1.12,1)" font-size="18.2" text-anchor="middle" fill="#111" stroke="#111" stroke-width="0.2">240</text>
<text transform="translate(134.6,173.7) scale(1.1,1)" font-size="17.5" text-anchor="middle" fill="#111">H</text>
<text transform="translate(134.7,195.2) scale(1.1,1)" font-size="17.5" text-anchor="middle" fill="#111">[m]</text>
<path d="M93.8,162V833.90 M75.5,833.90H93.8 M86,807.68H93.8 M86,781.46H93.8 M86,755.24H93.8 M75.5,729.02H93.8 M86,702.80H93.8 M86,676.58H93.8 M86,650.36H93.8 M75.5,624.14H93.8 M86,597.92H93.8 M86,571.70H93.8 M86,545.48H93.8 M75.5,519.26H93.8 M86,493.04H93.8 M86,466.82H93.8 M86,440.60H93.8 M75.5,414.38H93.8 M86,388.16H93.8 M86,361.94H93.8 M86,335.72H93.8 M75.5,309.50H93.8 M86,283.28H93.8 M86,257.06H93.8 M86,230.84H93.8 M86,204.62H93.8 M86,178.40H93.8" stroke="#6a6a6a" stroke-width="1.5" fill="none"/>
<text transform="translate(66.5,843.6) scale(1.04,1)" font-size="18.2" text-anchor="end" stroke="#111" stroke-width="0.2" fill="#111">0</text>
<text transform="translate(66.5,738.0) scale(1.04,1)" font-size="18.2" text-anchor="end" stroke="#111" stroke-width="0.2" fill="#111">400</text>
<text transform="translate(66.5,632.3) scale(1.04,1)" font-size="18.2" text-anchor="end" stroke="#111" stroke-width="0.2" fill="#111">800</text>
<text transform="translate(66.5,526.6) scale(1.04,1)" font-size="18.2" text-anchor="end" stroke="#111" stroke-width="0.2" fill="#111">1200</text>
<text transform="translate(66.5,421.0) scale(1.04,1)" font-size="18.2" text-anchor="end" stroke="#111" stroke-width="0.2" fill="#111">1600</text>
<text transform="translate(66.5,315.4) scale(1.04,1)" font-size="18.2" text-anchor="end" stroke="#111" stroke-width="0.2" fill="#111">2000</text>
<text transform="translate(46.4,173.7) scale(1.1,1)" font-size="17.5" text-anchor="middle" fill="#111">P</text>
<text transform="translate(46.2,195.2) scale(1.1,1)" font-size="17.5" text-anchor="middle" fill="#111">[kPa]</text>
<text transform="translate(166.2,869) scale(1.12,1)" font-size="18.2" text-anchor="middle" fill="#111" stroke="#111" stroke-width="0.2">0.0</text>
<text transform="translate(204.0,869) scale(1.12,1)" font-size="18.2" text-anchor="middle" fill="#111" stroke="#111" stroke-width="0.2">0.2</text>
<text transform="translate(246.1,869) scale(1.12,1)" font-size="18.2" text-anchor="middle" fill="#111" stroke="#111" stroke-width="0.2">0.4</text>
<text transform="translate(289.5,869) scale(1.12,1)" font-size="18.2" text-anchor="middle" fill="#111" stroke="#111" stroke-width="0.2">0.6</text>
<text transform="translate(331.5,869) scale(1.12,1)" font-size="18.2" text-anchor="middle" fill="#111" stroke="#111" stroke-width="0.2">0.8</text>
<text transform="translate(375.2,869) scale(1.12,1)" font-size="18.2" text-anchor="middle" fill="#111" stroke="#111" stroke-width="0.2">1.0</text>
<text transform="translate(418.5,869) scale(1.12,1)" font-size="18.2" text-anchor="middle" fill="#111" stroke="#111" stroke-width="0.2">1.2</text>
<text transform="translate(460.3,869) scale(1.12,1)" font-size="18.2" text-anchor="middle" fill="#111" stroke="#111" stroke-width="0.2">1.4</text>
<text transform="translate(503.0,869) scale(1.12,1)" font-size="18.2" text-anchor="middle" fill="#111" stroke="#111" stroke-width="0.2">1.6</text>
<text transform="translate(546.5,869) scale(1.12,1)" font-size="18.2" text-anchor="middle" fill="#111" stroke="#111" stroke-width="0.2">1.8</text>
<text transform="translate(588.5,869) scale(1.12,1)" font-size="18.2" text-anchor="middle" fill="#111" stroke="#111" stroke-width="0.2">2.0</text>
<text transform="translate(631.0,869) scale(1.12,1)" font-size="18.2" text-anchor="middle" fill="#111" stroke="#111" stroke-width="0.2">2.2</text>
<text transform="translate(674.0,869) scale(1.12,1)" font-size="18.2" text-anchor="middle" fill="#111" stroke="#111" stroke-width="0.2">2.4</text>
<text transform="translate(717.5,869) scale(1.12,1)" font-size="18.2" text-anchor="middle" fill="#111" stroke="#111" stroke-width="0.2">2.6</text>
<text transform="translate(760.5,869) scale(1.12,1)" font-size="18.2" text-anchor="middle" fill="#111" stroke="#111" stroke-width="0.2">2.8</text>
<text transform="translate(802.5,869) scale(1.12,1)" font-size="18.2" text-anchor="middle" fill="#111" stroke="#111" stroke-width="0.2">3.0</text>
<text transform="translate(846.2,869) scale(1.12,1)" font-size="18.2" text-anchor="middle" fill="#111" stroke="#111" stroke-width="0.2">3.2</text>
<text transform="translate(912.6,870.7) scale(1.05,1)" font-size="19.5" fill="#111">Q (м<tspan font-size="12" dy="-6">3</tspan><tspan dy="6">/ч)</tspan></text>
<path d="M165,903H974.6 M165,903V909.6 M241,903V909.6 M317.4,903V909.6 M394.6,903V909.6 M470.8,903V909.6 M547.6,903V909.6 M624.4,903V909.6 M700.5,903V909.6 M776.8,903V909.6 M855,903V909.6 M930.5,903V909.6" stroke="#1a1a1a" stroke-width="1.8" fill="none"/>
<text transform="translate(162.5,939) scale(1.12,1)" font-size="18.2" text-anchor="middle" fill="#111" stroke="#111" stroke-width="0.2">0.0</text>
<text transform="translate(240.5,939) scale(1.12,1)" font-size="18.2" text-anchor="middle" fill="#111" stroke="#111" stroke-width="0.2">0.1</text>
<text transform="translate(320.5,939) scale(1.12,1)" font-size="18.2" text-anchor="middle" fill="#111" stroke="#111" stroke-width="0.2">0.2</text>
<text transform="translate(394.9,939) scale(1.12,1)" font-size="18.2" text-anchor="middle" fill="#111" stroke="#111" stroke-width="0.2">0.3</text>
<text transform="translate(468.3,939) scale(1.12,1)" font-size="18.2" text-anchor="middle" fill="#111" stroke="#111" stroke-width="0.2">0.4</text>
<text transform="translate(547.1,939) scale(1.12,1)" font-size="18.2" text-anchor="middle" fill="#111" stroke="#111" stroke-width="0.2">0.5</text>
<text transform="translate(626.1,939) scale(1.12,1)" font-size="18.2" text-anchor="middle" fill="#111" stroke="#111" stroke-width="0.2">0.6</text>
<text transform="translate(704.8,939) scale(1.12,1)" font-size="18.2" text-anchor="middle" fill="#111" stroke="#111" stroke-width="0.2">0.7</text>
<text transform="translate(784.1,939) scale(1.12,1)" font-size="18.2" text-anchor="middle" fill="#111" stroke="#111" stroke-width="0.2">0.8</text>
<text transform="translate(863.0,939) scale(1.12,1)" font-size="18.2" text-anchor="middle" fill="#111" stroke="#111" stroke-width="0.2">0.9</text>
<text transform="translate(912.6,941.6) scale(1.05,1)" font-size="19.5" fill="#111">Q (л/с)</text>
<text x="210" y="892.4" font-size="81" fill="none" stroke="#cfcfcf" stroke-width="1.3" textLength="579" lengthAdjust="spacingAndGlyphs">mixtorg.prom.ua</text>
</svg></body></html>
